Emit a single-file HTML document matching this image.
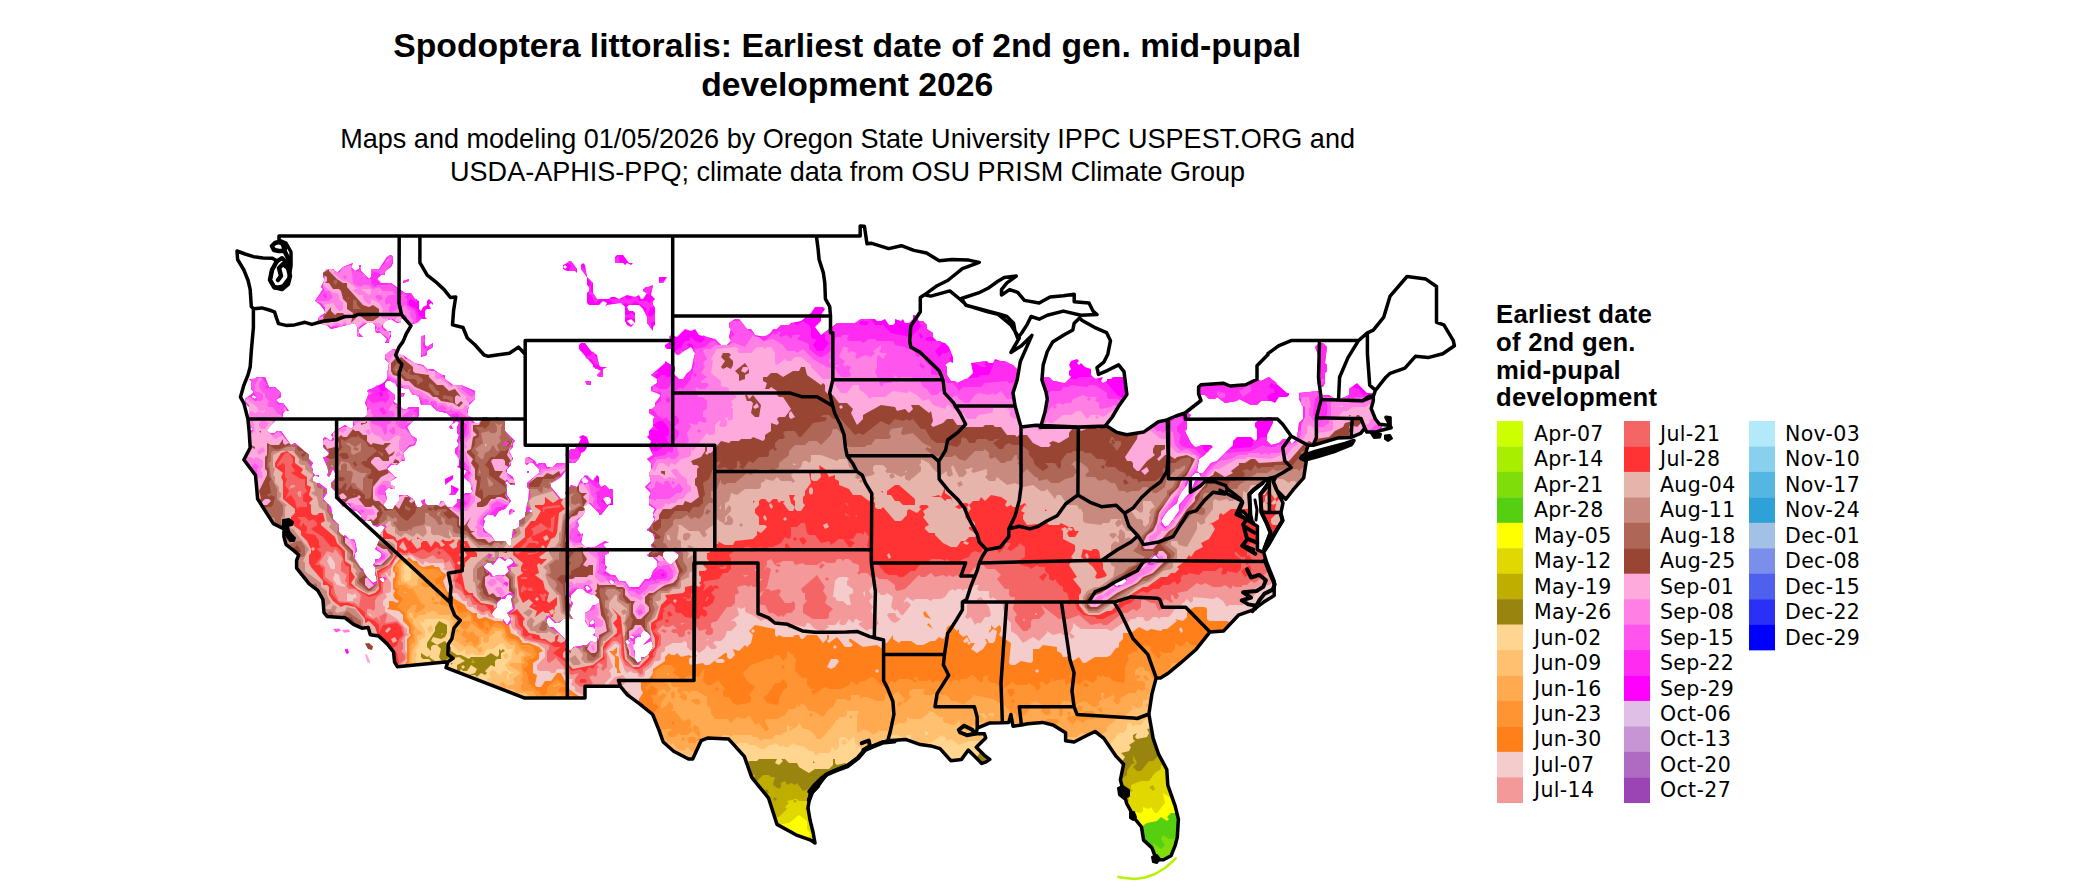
<!DOCTYPE html>
<html><head><meta charset="utf-8"><title>Spodoptera littoralis: Earliest date of 2nd gen. mid-pupal development 2026</title>
<style>
html,body{margin:0;padding:0;background:#fff;width:2100px;height:892px;overflow:hidden}
svg{position:absolute;left:0;top:0;display:block}
.t{font-family:"Liberation Sans",Arial,sans-serif;font-weight:bold;font-size:33.7px;fill:#000}
.s{font-family:"Liberation Sans",Arial,sans-serif;font-size:27.06px;fill:#000}
.lt{font-family:"Liberation Sans",Arial,sans-serif;font-weight:bold;font-size:25.7px;letter-spacing:0.25px;fill:#000}
.lg text{font-family:"DejaVu Sans",sans-serif;font-size:20.5px;letter-spacing:0.35px;fill:#000}
</style></head>
<body>
<svg width="2100" height="892" viewBox="0 0 2100 892">
<rect width="2100" height="892" fill="#fff"/>
<text class="t" x="847.2" y="57.2" text-anchor="middle">Spodoptera littoralis: Earliest date of 2nd gen. mid-pupal</text>
<text class="t" x="847.2" y="96.1" text-anchor="middle">development 2026</text>
<text class="s" x="847.6" y="148.3" text-anchor="middle">Maps and modeling 01/05/2026 by Oregon State University IPPC USPEST.ORG and</text>
<text class="s" x="847.6" y="181.2" text-anchor="middle">USDA-APHIS-PPQ; climate data from OSU PRISM Climate Group</text>
<defs><clipPath id="us"><path d="M237.0,251.0 237.0,251.0 237.6,259.5 237.6,259.5 237.6,259.5 243.9,270.0 243.9,270.0 243.9,270.0 248.1,280.4 248.1,280.5 248.1,280.5 250.2,289.6 250.2,289.6 250.2,289.7 251.3,306.6 251.3,306.6 251.3,306.6 253.2,308.5 253.3,308.6 253.3,308.6 253.3,308.7 253.4,308.7 253.4,308.8 253.4,308.8 253.4,308.9 253.4,308.9 253.4,327.5 253.4,327.6 251.3,351.1 251.3,351.1 250.2,366.7 250.2,366.7 250.2,366.8 248.1,374.6 248.1,374.6 243.9,385.0 243.9,385.1 240.5,397.1 240.5,397.1 240.6,397.1 243.9,403.3 243.9,403.4 243.9,403.4 247.9,419.0 247.9,419.1 247.9,419.1 249.2,432.1 249.2,432.1 250.2,447.6 250.2,447.7 250.2,447.8 250.2,447.8 250.2,447.9 250.2,447.9 250.2,448.0 243.9,459.8 243.9,459.8 243.9,459.9 255.4,475.1 255.4,475.2 255.5,475.2 255.5,475.3 255.5,475.3 255.5,475.4 255.5,475.4 256.6,487.0 257.6,498.8 257.6,498.8 257.6,498.8 265.0,510.6 265.0,510.6 273.4,523.6 273.4,523.6 273.4,523.7 283.6,528.7 283.7,528.7 283.7,528.8 283.8,528.8 283.8,528.9 283.8,528.9 283.9,529.0 283.9,529.0 283.9,529.1 283.9,529.1 283.9,529.2 283.9,529.3 283.9,536.7 283.9,536.7 284.0,536.7 286.1,544.6 286.1,544.6 286.1,544.6 294.5,551.1 294.5,551.1 298.4,554.7 298.4,554.8 298.5,554.8 298.5,554.9 298.5,554.9 298.6,555.0 298.6,555.1 298.6,555.1 298.6,555.2 298.6,555.2 298.6,555.3 298.6,555.4 298.5,555.4 296.6,560.2 296.6,560.3 296.6,560.3 296.6,568.1 296.6,568.1 296.6,568.1 309.2,583.8 309.2,583.8 309.2,583.8 317.6,590.3 317.6,590.3 317.7,590.3 317.7,590.4 317.7,590.4 322.9,599.4 322.9,599.4 322.9,599.5 322.9,599.5 322.9,599.6 322.9,599.6 324.0,612.5 324.0,612.6 324.0,612.6 327.1,616.5 327.1,616.5 327.2,616.5 344.9,617.8 344.9,617.8 345.0,617.8 345.0,617.8 345.1,617.8 345.1,617.9 345.2,617.9 353.5,624.3 353.5,624.3 353.5,624.3 361.9,628.2 361.9,628.2 361.9,628.2 367.7,627.5 367.8,627.5 367.8,627.5 367.9,627.5 368.0,627.5 368.0,627.6 368.1,627.6 368.1,627.6 368.2,627.7 368.2,627.7 368.3,627.7 368.3,627.8 368.3,627.8 368.4,627.9 368.4,628.0 370.3,634.8 370.3,634.8 370.3,634.8 378.6,636.1 378.6,636.1 378.7,636.1 378.8,636.1 378.8,636.1 378.9,636.2 378.9,636.2 387.2,643.9 387.2,644.0 393.4,651.6 393.4,651.7 393.5,651.7 393.5,651.8 393.5,651.8 393.5,651.9 393.5,652.0 394.6,662.2 394.6,662.2 394.6,662.3 397.3,666.7 397.3,666.7 397.3,666.7 447.0,661.8 447.0,661.8 447.1,661.8 447.1,661.8 447.2,661.8 447.3,661.9 447.3,661.9 447.4,661.9 447.4,661.9 447.5,662.0 447.5,662.0 447.5,662.1 447.6,662.1 447.6,662.2 447.6,662.2 447.6,662.3 447.6,662.4 447.6,662.4 447.6,662.5 447.6,662.5 447.6,662.6 446.0,667.7 446.0,667.7 446.0,667.7 524.8,698.1 524.8,698.1 524.8,698.1 585.0,698.1 585.0,698.1 585.0,698.1 585.0,686.9 585.0,686.8 585.1,686.8 585.1,686.7 585.1,686.7 585.1,686.6 585.1,686.6 585.2,686.5 585.2,686.5 585.3,686.4 585.3,686.4 585.4,686.4 585.4,686.3 585.5,686.3 585.5,686.3 585.6,686.3 585.6,686.3 620.1,686.3 620.2,686.3 620.3,686.3 620.3,686.3 620.4,686.3 620.4,686.4 620.5,686.4 620.5,686.4 620.6,686.5 620.6,686.5 627.4,694.9 627.4,694.9 627.4,694.9 640.0,704.1 640.0,704.1 652.6,714.4 652.6,714.5 652.6,714.5 652.7,714.6 652.7,714.6 652.7,714.7 659.0,730.2 659.0,730.2 663.2,742.0 663.2,742.0 663.2,742.0 673.7,751.1 673.7,751.2 673.8,751.2 688.5,759.0 688.5,759.0 688.5,759.0 692.7,759.0 692.7,759.0 692.7,759.0 701.0,740.9 701.1,740.9 701.1,740.8 701.1,740.8 701.2,740.7 701.2,740.7 701.3,740.7 701.3,740.6 701.4,740.6 707.3,738.1 707.4,738.1 707.5,738.1 707.5,738.1 707.6,738.1 728.3,738.9 728.3,738.9 728.4,738.9 728.4,738.9 728.5,738.9 728.6,738.9 728.6,739.0 728.7,739.0 728.7,739.1 744.2,756.3 744.3,756.3 744.3,756.4 744.3,756.4 744.4,756.5 751.7,777.3 751.7,777.3 751.7,777.3 768.5,798.1 768.5,798.2 768.5,798.2 768.6,798.3 768.6,798.3 777.0,824.4 777.0,824.4 777.0,824.4 795.9,834.8 795.9,834.8 796.0,834.8 810.6,840.0 810.7,840.1 810.7,840.1 810.8,840.1 815.0,843.0 815.0,843.0 815.0,843.0 813.0,832.0 813.0,832.0 810.0,820.0 810.0,820.0 808.0,808.1 808.0,808.0 808.0,808.0 808.0,807.9 810.0,795.2 810.0,795.1 810.0,795.1 810.0,795.0 810.1,795.0 810.1,794.9 810.1,794.9 818.0,786.0 818.0,786.0 826.9,774.1 826.9,774.1 827.0,774.0 827.0,774.0 827.1,774.0 827.1,773.9 836.5,770.0 836.5,770.0 847.0,766.0 847.0,766.0 847.0,766.0 858.0,758.0 858.0,758.0 858.0,758.0 864.9,750.1 865.0,750.1 865.0,750.0 865.1,750.0 865.1,749.9 874.0,746.0 874.0,746.0 882.0,742.6 882.0,742.6 887.7,740.7 887.8,740.7 887.9,740.7 905.4,739.4 905.4,739.4 905.5,739.4 905.6,739.4 905.6,739.4 920.2,744.6 920.3,744.6 920.3,744.6 930.7,745.9 930.8,745.9 930.8,745.9 939.8,748.6 939.9,748.6 939.9,748.6 940.0,748.6 940.0,748.7 940.1,748.7 940.1,748.7 950.8,760.7 950.8,760.7 950.8,760.7 961.5,759.4 961.5,759.4 961.5,759.4 967.9,750.6 967.9,750.5 968.0,750.5 968.0,750.4 968.1,750.4 968.1,750.4 968.2,750.4 968.2,750.3 968.3,750.3 968.3,750.3 968.4,750.3 968.4,750.3 968.5,750.3 968.6,750.3 968.6,750.4 968.7,750.4 968.7,750.4 968.8,750.5 968.8,750.5 973.6,755.3 981.7,763.4 981.7,763.4 981.7,763.4 985.7,762.1 985.7,762.1 985.7,762.1 989.8,759.4 989.8,759.4 989.8,759.4 984.4,755.3 984.4,755.3 976.7,747.7 976.7,747.7 976.7,747.6 976.6,747.6 976.6,747.5 976.6,747.5 976.6,747.4 976.6,747.4 976.6,747.3 976.6,747.2 976.6,747.2 976.6,747.1 976.6,747.1 976.6,747.0 976.7,747.0 976.7,746.9 976.7,746.9 979.0,744.6 985.7,737.9 985.7,737.9 985.7,737.9 984.4,733.8 984.4,733.8 984.4,733.8 977.0,733.8 976.9,733.8 976.9,733.8 976.8,733.8 976.8,733.8 976.7,733.7 976.7,733.7 976.6,733.7 976.6,733.6 976.5,733.6 976.5,733.5 976.5,733.5 976.5,733.4 976.4,733.4 976.4,733.3 976.4,733.3 976.4,733.2 976.4,733.2 976.4,733.1 977.1,728.5 977.1,728.4 977.1,728.4 977.2,728.3 977.2,728.2 977.2,728.2 977.3,728.2 977.3,728.1 977.4,728.1 977.4,728.0 977.5,728.0 989.7,723.0 989.7,722.9 989.8,722.9 989.9,722.9 989.9,722.9 1002.4,722.7 1008.7,722.4 1008.8,722.4 1008.8,722.4 1010.2,717.1 1010.2,717.1 1010.2,717.0 1010.2,717.0 1010.3,716.9 1010.3,716.9 1010.3,716.8 1010.4,716.8 1010.4,716.8 1010.5,716.8 1010.5,716.7 1010.6,716.7 1010.7,716.7 1010.7,716.7 1010.8,716.7 1010.8,716.7 1010.9,716.7 1010.9,716.7 1011.0,716.7 1011.0,716.8 1011.1,716.8 1011.1,716.8 1011.2,716.9 1011.2,716.9 1011.3,717.0 1011.3,717.0 1011.3,717.1 1011.3,717.1 1011.3,717.2 1013.0,726.3 1013.0,726.3 1013.0,726.3 1021.4,725.0 1021.4,725.0 1021.4,725.0 1027.7,723.7 1027.8,723.7 1042.4,722.4 1042.4,722.4 1042.5,722.4 1042.6,722.4 1052.9,725.0 1053.0,725.0 1053.0,725.0 1053.1,725.1 1065.4,732.7 1065.4,732.7 1065.5,732.7 1065.5,732.8 1065.5,732.8 1065.6,732.9 1065.6,732.9 1065.6,733.0 1065.6,733.1 1065.6,733.1 1065.6,733.2 1065.6,740.7 1065.6,740.7 1065.7,740.7 1074.1,742.0 1074.1,742.0 1074.1,742.0 1086.7,735.5 1086.7,735.5 1094.8,731.7 1094.9,731.7 1094.9,731.7 1095.0,731.6 1095.0,731.6 1095.1,731.6 1095.2,731.6 1095.2,731.7 1095.3,731.7 1095.3,731.7 1095.4,731.7 1095.4,731.8 1103.5,738.0 1103.5,738.1 1103.6,738.1 1103.6,738.2 1116.2,756.4 1116.2,756.4 1116.2,756.4 1123.4,764.0 1123.4,764.0 1123.4,764.1 1123.5,764.1 1123.5,764.2 1123.5,764.3 1123.5,764.3 1123.5,764.4 1123.5,764.4 1123.5,764.5 1123.5,764.5 1120.4,779.9 1120.4,779.9 1120.4,779.9 1122.5,787.8 1126.7,803.4 1126.7,803.5 1126.8,803.5 1135.2,819.1 1135.2,819.1 1135.2,819.2 1141.4,826.9 1141.4,826.9 1141.5,827.0 1141.5,827.0 1141.5,827.1 1141.5,827.1 1143.6,840.1 1143.6,840.1 1143.6,840.1 1151.9,847.8 1152.0,847.9 1152.0,847.9 1152.0,847.9 1152.1,848.0 1152.1,848.0 1156.2,859.7 1156.2,859.7 1156.3,859.7 1163.6,859.7 1163.6,859.7 1163.6,859.7 1171.0,855.8 1171.0,855.8 1171.0,855.7 1175.2,845.3 1175.2,845.3 1177.3,837.5 1177.3,837.4 1177.3,837.4 1178.4,819.2 1178.4,819.1 1178.4,819.1 1175.2,806.1 1175.2,806.1 1167.9,785.2 1167.8,785.2 1167.8,785.1 1167.8,785.1 1166.8,769.5 1166.8,769.5 1166.8,769.4 1158.4,753.8 1158.4,753.8 1158.3,753.7 1153.1,738.1 1153.1,738.1 1153.1,738.0 1148.9,714.1 1148.9,714.1 1148.9,714.0 1148.9,713.9 1152.0,693.7 1152.0,693.6 1156.1,678.4 1156.1,678.3 1156.2,678.3 1156.2,678.2 1156.2,678.2 1156.3,678.1 1156.3,678.1 1156.4,678.0 1156.4,678.0 1156.5,678.0 1156.5,678.0 1156.6,677.9 1156.6,677.9 1156.7,677.9 1160.4,677.9 1160.5,677.9 1160.5,677.9 1168.9,672.7 1168.9,672.7 1181.5,662.2 1181.5,662.2 1196.3,649.2 1196.3,649.2 1196.3,649.2 1209.8,632.1 1209.9,632.1 1209.9,632.0 1209.9,632.0 1210.0,632.0 1210.1,631.9 1210.1,631.9 1210.2,631.9 1210.2,631.9 1223.7,630.9 1223.7,630.9 1223.7,630.9 1238.3,615.3 1238.4,615.2 1238.4,615.2 1238.5,615.2 1238.5,615.1 1238.6,615.1 1253.2,610.0 1253.2,609.9 1253.2,609.9 1263.7,602.1 1263.7,602.1 1274.2,595.6 1274.2,595.6 1274.2,595.5 1274.2,581.2 1274.2,581.2 1274.2,581.2 1266.5,561.6 1266.4,561.5 1263.7,552.4 1263.7,552.4 1263.7,552.4 1257.8,550.0 1257.7,549.9 1257.6,549.9 1257.6,549.9 1257.6,549.8 1257.5,549.8 1257.5,549.7 1257.5,549.7 1257.4,549.6 1257.4,549.6 1257.4,549.5 1257.4,549.5 1257.4,549.4 1257.4,526.3 1257.4,526.3 1257.4,526.3 1244.8,518.4 1244.7,518.4 1239.2,513.9 1239.2,513.8 1239.2,513.8 1239.1,513.7 1239.1,513.7 1239.1,513.6 1239.1,513.6 1239.0,513.5 1239.0,513.5 1239.0,513.4 1239.0,513.4 1239.0,513.3 1239.0,513.2 1239.1,513.2 1239.1,513.1 1239.1,513.1 1239.2,513.0 1239.2,513.0 1239.2,513.0 1239.3,512.9 1239.3,512.9 1239.4,512.9 1239.4,512.8 1242.9,511.6 1243.0,511.6 1243.0,511.6 1243.1,511.6 1243.2,511.6 1243.2,511.6 1243.3,511.6 1243.3,511.6 1243.4,511.7 1243.4,511.7 1243.5,511.7 1243.5,511.7 1243.6,511.8 1252.0,521.0 1252.0,521.0 1252.0,521.0 1250.3,513.4 1250.3,513.4 1250.3,513.3 1249.3,494.5 1249.3,494.4 1249.3,494.4 1249.3,494.3 1249.3,494.2 1249.4,494.2 1249.4,494.1 1249.4,494.1 1249.5,494.1 1249.5,494.0 1253.3,490.2 1253.3,490.2 1262.4,483.1 1262.4,483.1 1266.9,478.8 1266.9,478.8 1266.9,478.8 1267.0,478.7 1267.0,478.7 1267.1,478.7 1267.2,478.7 1267.2,478.7 1267.3,478.7 1268.1,478.7 1268.1,478.7 1268.1,478.7 1268.5,478.6 1268.6,478.5 1268.7,478.5 1268.7,478.5 1268.8,478.5 1268.8,478.6 1268.9,478.6 1269.0,478.6 1269.0,478.6 1269.1,478.7 1269.1,478.7 1269.1,478.7 1269.2,478.8 1269.2,478.8 1269.2,478.9 1269.3,478.9 1269.3,479.0 1269.3,479.1 1269.3,479.1 1269.3,479.2 1269.3,479.2 1269.3,479.3 1269.3,479.4 1267.4,484.0 1267.4,484.1 1267.4,484.2 1260.4,494.2 1260.4,494.2 1260.4,494.2 1261.4,512.4 1261.4,512.4 1261.4,512.4 1266.4,522.5 1266.4,522.5 1270.4,532.4 1270.4,532.4 1270.4,532.5 1270.5,532.5 1270.5,532.6 1270.5,532.7 1270.4,532.7 1270.4,532.8 1270.4,532.8 1264.4,548.7 1264.4,548.7 1264.4,548.7 1264.4,550.7 1264.4,550.7 1264.4,550.7 1268.4,544.7 1268.4,544.7 1276.5,530.5 1276.5,530.5 1282.6,520.5 1282.6,520.5 1282.6,520.5 1280.7,513.1 1280.7,513.0 1280.7,513.0 1280.7,512.9 1280.7,512.9 1280.7,512.8 1280.7,512.7 1280.7,512.7 1280.7,512.6 1280.8,512.6 1280.8,512.5 1280.9,512.5 1280.9,512.5 1281.0,512.4 1281.0,512.4 1281.0,512.4 1281.0,512.4 1283.0,503.0 1283.0,503.0 1283.0,503.0 1278.0,493.0 1278.0,493.0 1278.0,492.9 1278.0,492.9 1278.0,492.8 1278.0,492.8 1278.0,492.7 1278.0,492.6 1278.0,492.6 1278.0,492.5 1278.0,492.5 1278.1,492.4 1278.1,492.4 1278.1,492.3 1278.2,492.3 1278.2,492.3 1278.3,492.2 1278.3,492.2 1278.4,492.2 1278.4,492.2 1278.5,492.2 1278.6,492.2 1278.6,492.2 1278.7,492.2 1278.7,492.2 1278.8,492.2 1278.8,492.2 1278.9,492.3 1278.9,492.3 1279.0,492.3 1285.8,499.3 1285.8,499.3 1285.8,499.3 1293.2,489.7 1293.2,489.6 1303.7,477.9 1303.7,477.9 1303.7,477.9 1306.3,460.9 1306.3,460.9 1306.3,460.9 1306.1,460.8 1306.0,460.8 1306.0,460.7 1305.9,460.7 1305.9,460.7 1305.9,460.6 1305.8,460.6 1305.8,460.5 1305.8,460.5 1305.8,460.4 1305.7,460.4 1305.7,460.3 1305.7,460.2 1305.7,460.2 1305.8,460.1 1305.8,460.1 1305.8,460.0 1305.8,460.0 1305.8,459.9 1305.9,459.9 1305.9,459.8 1306.0,459.8 1306.0,459.8 1306.1,459.7 1306.1,459.7 1306.2,459.7 1318.0,456.5 1318.0,456.5 1336.0,451.0 1336.0,451.0 1351.0,445.0 1351.0,445.0 1351.0,445.0 1354.0,440.5 1354.0,440.5 1354.0,440.5 1345.0,443.5 1345.0,443.5 1330.0,447.5 1315.0,451.5 1315.0,451.5 1305.8,454.7 1305.8,454.7 1305.7,454.7 1305.6,454.7 1305.6,454.7 1305.5,454.7 1305.5,454.7 1305.4,454.7 1305.4,454.6 1305.3,454.6 1305.3,454.6 1305.2,454.5 1305.2,454.5 1305.1,454.5 1305.1,454.4 1305.1,454.3 1305.0,454.3 1305.0,454.2 1305.0,454.2 1305.0,454.1 1305.0,454.1 1305.0,454.0 1305.0,453.9 1305.1,453.9 1305.1,453.8 1305.1,453.8 1305.2,453.7 1305.2,453.7 1305.8,453.1 1305.8,453.0 1305.8,453.0 1307.8,445.6 1307.8,445.6 1307.9,445.5 1307.9,445.5 1307.9,445.4 1308.0,445.4 1308.0,445.3 1308.1,445.3 1308.1,445.3 1308.2,445.2 1308.2,445.2 1308.3,445.2 1308.4,445.2 1308.4,445.2 1313.2,445.2 1313.2,445.2 1313.2,445.2 1313.2,445.2 1313.2,445.2 1337.4,438.2 1337.4,438.1 1337.5,438.1 1351.1,437.4 1351.1,437.4 1351.1,437.4 1351.1,437.4 1351.2,437.4 1360.6,433.4 1360.6,433.4 1360.6,433.4 1364.3,428.9 1364.3,428.9 1364.4,428.8 1364.4,428.8 1364.5,428.8 1364.5,428.7 1364.6,428.7 1364.6,428.7 1364.7,428.7 1364.7,428.7 1364.8,428.7 1364.9,428.7 1364.9,428.7 1365.0,428.7 1365.0,428.8 1365.1,428.8 1365.1,428.8 1365.2,428.9 1365.2,428.9 1365.2,428.9 1365.3,429.0 1366.9,432.1 1366.9,432.1 1367.0,432.1 1375.4,432.1 1375.4,432.1 1375.4,432.1 1379.6,430.8 1379.6,430.8 1391.2,427.7 1391.2,427.7 1391.2,427.7 1390.1,425.6 1390.1,425.6 1390.1,425.6 1379.8,424.3 1379.8,424.3 1379.7,424.3 1379.7,424.3 1379.6,424.2 1379.6,424.2 1379.5,424.2 1379.5,424.1 1379.4,424.1 1375.4,419.1 1375.4,419.1 1375.4,419.0 1375.3,419.0 1371.2,408.8 1371.2,408.7 1371.2,408.7 1371.2,408.6 1371.2,408.6 1371.2,408.5 1371.2,408.5 1371.2,408.4 1373.3,400.8 1373.3,400.7 1373.3,400.7 1373.3,396.4 1373.3,396.3 1373.3,396.3 1373.3,396.2 1375.3,390.4 1375.4,390.3 1375.4,390.3 1375.4,390.2 1385.9,377.2 1385.9,377.2 1390.0,373.4 1390.1,373.3 1390.1,373.3 1390.2,373.3 1390.2,373.2 1404.9,368.1 1404.9,368.1 1404.9,368.0 1415.2,356.5 1415.2,356.5 1415.3,356.4 1415.3,356.4 1415.4,356.4 1415.4,356.4 1415.5,356.3 1415.5,356.3 1415.6,356.3 1415.7,356.3 1415.7,356.3 1428.0,357.6 1428.0,357.6 1428.1,357.6 1442.8,353.7 1442.8,353.7 1442.8,353.7 1454.4,345.8 1454.4,345.8 1454.4,345.8 1453.3,340.6 1453.3,340.6 1453.3,340.6 1443.9,324.9 1443.9,324.9 1443.8,324.9 1436.9,322.4 1436.8,322.4 1436.8,322.4 1436.7,322.4 1436.7,322.3 1436.6,322.3 1436.6,322.2 1436.6,322.2 1436.5,322.1 1436.5,322.1 1436.5,322.0 1436.5,322.0 1436.5,321.9 1436.5,321.9 1436.5,286.5 1436.5,286.5 1436.5,286.5 1426.0,279.2 1425.9,279.1 1425.9,279.1 1407.0,276.5 1407.0,276.5 1407.0,276.5 1390.1,296.1 1390.1,296.1 1390.1,296.2 1383.8,317.0 1383.8,317.0 1383.8,317.1 1383.8,317.1 1383.7,317.2 1373.4,330.0 1373.3,330.1 1373.3,330.1 1373.2,330.1 1373.2,330.2 1373.1,330.2 1367.4,332.7 1367.4,332.8 1367.4,332.8 1367.4,332.8 1367.4,332.8 1358.7,340.4 1358.6,340.5 1358.6,340.5 1358.5,340.5 1358.5,340.6 1358.4,340.6 1358.4,340.6 1358.3,340.6 1291.1,340.6 1291.1,340.6 1291.1,340.6 1278.5,345.8 1278.5,345.8 1278.4,345.8 1267.9,353.7 1267.9,353.7 1267.9,353.7 1268.0,354.3 1268.0,354.4 1268.0,354.4 1268.0,354.5 1268.0,354.6 1267.9,354.6 1267.9,354.7 1267.9,354.7 1267.8,354.8 1267.8,354.8 1257.0,365.8 1257.0,365.8 1257.0,365.8 1257.0,378.8 1257.0,378.9 1257.0,378.9 1257.0,379.0 1257.0,379.1 1256.9,379.1 1256.9,379.2 1256.9,379.2 1256.8,379.3 1256.8,379.3 1256.7,379.3 1256.7,379.4 1245.8,384.7 1245.8,384.8 1245.7,384.8 1245.6,384.8 1245.6,384.8 1230.1,386.0 1230.1,386.0 1230.0,386.0 1230.0,386.0 1229.9,386.0 1229.9,385.9 1223.3,383.2 1223.3,383.2 1223.3,383.2 1201.0,384.8 1201.0,384.8 1201.0,384.8 1198.6,387.0 1198.6,387.0 1198.6,387.0 1198.6,393.8 1198.6,393.8 1198.6,393.8 1200.9,400.1 1200.9,400.1 1200.9,400.2 1200.9,400.3 1200.9,400.3 1200.9,400.4 1200.9,400.4 1200.9,400.5 1200.8,400.5 1200.8,400.6 1200.8,400.6 1200.7,400.7 1200.7,400.7 1200.7,400.8 1185.1,412.9 1185.0,413.0 1185.0,413.0 1184.9,413.0 1176.0,416.0 1176.0,416.0 1167.3,419.5 1167.3,419.5 1167.3,419.5 1167.3,419.6 1167.2,419.6 1167.2,419.7 1167.2,419.7 1167.1,419.8 1167.1,419.8 1167.1,419.8 1167.0,419.9 1167.0,419.9 1166.9,419.9 1166.8,419.9 1158.4,421.7 1158.4,421.7 1158.3,421.7 1143.7,432.0 1143.7,432.1 1143.6,432.1 1143.6,432.1 1143.5,432.1 1143.5,432.1 1126.9,434.7 1126.8,434.7 1126.7,434.7 1126.7,434.7 1126.6,434.7 1116.3,432.1 1116.2,432.1 1116.2,432.1 1116.1,432.1 1106.7,426.1 1106.7,426.1 1106.7,426.1 1106.4,426.1 1106.3,426.1 1106.3,426.1 1106.2,426.1 1106.1,426.1 1106.1,426.1 1106.0,426.0 1106.0,426.0 1105.9,426.0 1105.9,425.9 1105.9,425.9 1105.8,425.8 1105.8,425.8 1105.8,425.7 1105.8,425.7 1105.8,425.6 1105.8,425.5 1105.8,425.5 1105.8,425.4 1105.8,425.4 1105.8,425.3 1105.8,425.2 1105.9,425.2 1105.9,425.1 1112.3,417.0 1112.3,417.0 1119.0,405.7 1119.0,405.7 1126.9,394.5 1126.9,394.5 1126.9,394.5 1124.0,371.7 1124.0,371.7 1124.0,371.7 1118.6,364.9 1118.6,364.9 1118.6,364.9 1107.8,370.3 1107.8,370.3 1099.1,374.1 1099.0,374.1 1099.0,374.1 1098.9,374.2 1098.8,374.2 1098.8,374.2 1098.7,374.1 1098.7,374.1 1098.6,374.1 1098.6,374.1 1098.5,374.1 1098.5,374.0 1098.4,374.0 1098.4,373.9 1098.3,373.9 1098.3,373.8 1098.3,373.8 1098.3,373.7 1098.3,373.7 1097.1,368.0 1097.1,367.9 1097.1,367.8 1097.1,367.8 1097.1,367.7 1097.1,367.7 1097.1,367.6 1097.1,367.6 1097.2,367.5 1097.2,367.5 1097.2,367.4 1097.3,367.4 1103.8,362.2 1103.8,362.2 1103.8,362.2 1107.8,354.2 1107.8,354.2 1107.8,354.2 1110.5,340.7 1110.5,340.7 1110.5,340.7 1106.5,332.6 1106.5,332.6 1106.5,332.6 1094.4,327.3 1094.4,327.3 1082.3,320.5 1082.2,320.5 1082.2,320.5 1082.1,320.4 1079.6,317.9 1079.6,317.9 1079.6,317.9 1074.2,323.2 1074.2,323.2 1074.2,323.2 1072.9,329.7 1072.8,329.8 1072.8,329.8 1072.8,329.9 1072.8,329.9 1072.7,330.0 1072.7,330.0 1072.7,330.1 1072.6,330.1 1072.6,330.1 1063.4,335.3 1063.4,335.3 1052.6,342.1 1052.6,342.1 1052.6,342.1 1047.3,351.5 1047.3,351.5 1047.3,351.5 1043.2,364.9 1043.2,364.9 1043.2,364.9 1041.9,380.0 1041.9,380.0 1041.9,380.0 1046.0,392.0 1046.0,392.0 1047.3,398.9 1047.3,398.9 1047.3,399.0 1047.3,399.1 1047.3,399.1 1045.0,412.0 1045.0,412.0 1041.2,425.1 1041.2,425.1 1041.2,425.2 1041.1,425.2 1041.1,425.3 1041.1,425.3 1041.0,425.3 1041.0,425.4 1040.9,425.4 1040.9,425.4 1040.8,425.5 1040.8,425.5 1040.7,425.5 1040.7,425.5 1040.6,425.5 1036.2,425.3 1036.1,425.3 1021.5,426.8 1021.4,426.8 1021.4,426.8 1021.3,426.8 1021.2,426.8 1021.2,426.8 1021.1,426.8 1021.1,426.7 1021.0,426.7 1021.0,426.7 1020.9,426.6 1020.9,426.6 1020.9,426.5 1020.9,426.5 1020.8,426.4 1015.1,406.0 1015.1,405.9 1013.0,393.0 1013.0,393.0 1013.0,392.9 1013.0,392.9 1013.0,392.8 1013.0,392.8 1017.2,379.8 1017.2,379.8 1020.3,361.6 1020.3,361.5 1020.4,361.5 1020.4,361.5 1031.9,335.4 1031.9,335.4 1031.9,335.4 1021.4,345.8 1021.4,345.8 1021.3,345.9 1012.9,351.1 1012.9,351.1 1012.8,351.1 1012.8,351.2 1012.7,351.2 1012.6,351.2 1012.6,351.2 1012.5,351.2 1012.5,351.2 1012.4,351.1 1012.4,351.1 1012.3,351.1 1012.3,351.1 1012.2,351.0 1012.2,351.0 1012.1,350.9 1012.1,350.9 1012.1,350.8 1012.0,350.8 1012.0,350.7 1012.0,350.7 1012.0,350.6 1012.0,350.6 1012.0,350.5 1012.0,350.4 1012.0,350.4 1012.1,350.3 1012.1,350.3 1019.3,338.0 1019.3,338.0 1019.3,338.0 1018.8,337.3 1018.8,337.2 1018.8,337.2 1018.7,337.1 1018.7,337.0 1018.7,337.0 1018.7,336.9 1018.7,336.9 1018.7,336.8 1018.8,336.8 1018.8,336.7 1018.8,336.7 1018.8,336.6 1018.9,336.6 1021.7,333.0 1021.7,333.0 1027.1,324.6 1027.1,324.6 1030.9,317.0 1030.9,316.9 1030.9,316.9 1031.0,316.8 1031.0,316.8 1031.1,316.8 1031.1,316.7 1031.1,316.7 1031.2,316.7 1031.3,316.7 1031.3,316.6 1031.4,316.6 1031.4,316.6 1031.5,316.6 1031.5,316.6 1031.6,316.7 1039.2,319.2 1039.2,319.2 1039.2,319.2 1047.2,315.2 1047.3,315.2 1047.4,315.2 1063.3,311.1 1063.3,311.1 1063.4,311.1 1063.4,311.1 1063.5,311.1 1063.5,311.1 1080.9,315.2 1080.9,315.2 1080.9,315.2 1097.0,314.5 1097.0,314.5 1097.0,314.5 1093.1,311.2 1093.0,311.1 1093.0,311.1 1093.0,311.0 1092.9,311.0 1089.0,303.0 1089.0,303.0 1089.0,303.0 1074.7,301.7 1074.7,301.7 1074.6,301.7 1074.6,301.7 1074.5,301.7 1074.5,301.7 1074.4,301.6 1074.4,301.6 1074.3,301.5 1074.3,301.5 1074.3,301.4 1074.2,301.4 1074.2,301.3 1074.2,301.3 1074.2,301.2 1074.2,301.2 1074.2,294.3 1074.2,294.3 1074.2,294.3 1063.4,295.7 1063.4,295.7 1050.0,297.0 1050.0,297.0 1050.0,297.0 1039.4,302.9 1039.3,302.9 1039.3,302.9 1039.2,303.0 1039.2,303.0 1039.1,303.0 1039.0,303.0 1039.0,303.0 1024.6,300.4 1024.6,300.4 1024.5,300.4 1024.4,300.4 1024.4,300.4 1024.3,300.3 1024.3,300.3 1024.3,300.2 1017.7,292.3 1017.7,292.3 1017.7,292.3 1009.6,289.6 1009.6,289.6 1009.6,289.6 1002.4,294.4 1002.4,294.4 1002.3,294.4 1002.3,294.5 1002.2,294.5 1002.2,294.5 1002.1,294.5 1002.0,294.5 1002.0,294.5 1001.9,294.5 1001.9,294.4 1001.8,294.4 1001.8,294.4 1001.7,294.3 1001.7,294.3 1001.6,294.3 1001.6,294.2 1001.6,294.2 1001.5,294.1 1001.5,294.1 1001.5,294.0 1001.5,293.9 1001.5,293.9 1001.5,289.8 1001.5,289.8 1001.5,289.7 1001.5,289.6 1001.5,289.6 1001.6,289.5 1001.6,289.5 1001.6,289.4 1006.8,283.0 1006.9,282.9 1006.9,282.9 1007.0,282.9 1016.3,276.1 1016.3,276.1 1016.3,276.1 1004.2,277.5 1004.2,277.5 1004.2,277.5 997.5,281.5 997.5,281.5 988.0,288.3 988.0,288.3 988.0,288.3 980.0,292.3 980.0,292.3 961.4,298.5 961.4,298.5 961.4,298.5 962.2,299.7 962.2,299.7 962.2,299.8 962.3,299.8 962.3,299.9 962.3,299.9 962.3,300.0 962.3,300.0 962.3,300.1 962.3,300.2 962.2,300.2 962.2,300.3 962.2,300.3 962.2,300.4 962.1,300.4 962.1,300.4 962.0,300.5 962.0,300.5 961.9,300.5 961.9,300.6 961.8,300.6 961.8,300.6 961.7,300.6 961.6,300.6 961.6,300.6 961.5,300.6 961.5,300.6 961.4,300.5 961.4,300.5 961.3,300.5 961.3,300.4 960.3,299.5 960.3,299.5 949.8,290.9 949.8,290.9 949.7,290.9 930.9,296.1 930.9,296.1 930.8,296.1 930.8,296.1 930.7,296.1 930.7,296.1 925.8,295.1 925.8,295.1 925.7,295.1 925.6,295.1 925.6,295.0 925.6,295.0 925.5,295.0 925.5,294.9 925.4,294.9 925.4,294.8 925.4,294.8 925.4,294.7 925.3,294.7 925.3,294.6 925.3,294.5 925.3,294.5 925.3,294.4 925.4,294.4 925.4,294.3 925.4,294.3 925.4,294.2 925.5,294.2 925.5,294.1 925.5,294.1 925.6,294.0 937.1,285.7 937.1,285.7 937.2,285.7 947.6,280.5 947.7,280.5 947.7,280.4 962.3,268.7 962.4,268.7 962.4,268.7 962.5,268.7 979.2,262.4 979.3,262.4 979.2,262.4 968.7,260.1 968.7,260.1 968.7,260.1 951.9,259.5 951.8,259.5 939.4,260.8 939.4,260.8 939.3,260.8 939.3,260.8 939.2,260.8 939.2,260.8 939.1,260.8 939.1,260.7 926.6,253.0 926.6,253.0 926.6,253.0 914.0,250.4 913.9,250.4 913.9,250.4 901.3,245.7 901.3,245.7 901.3,245.7 888.8,248.5 888.8,248.5 888.7,248.5 888.6,248.5 888.6,248.5 888.5,248.5 871.8,243.3 871.8,243.3 871.8,243.3 867.5,243.8 867.5,243.8 867.4,243.8 867.4,243.8 867.3,243.8 867.2,243.7 867.2,243.7 867.1,243.7 867.1,243.7 867.1,243.6 867.0,243.6 867.0,243.5 866.9,243.5 866.9,243.4 866.9,243.4 866.9,243.3 866.9,243.3 864.4,226.3 864.4,226.3 864.4,226.3 860.2,226.1 860.2,226.1 860.2,226.1 860.2,235.4 860.2,235.5 860.2,235.5 860.2,235.6 860.2,235.6 860.1,235.7 860.1,235.7 860.1,235.8 860.0,235.8 860.0,235.9 859.9,235.9 859.9,235.9 859.8,236.0 859.8,236.0 859.7,236.0 859.7,236.0 859.6,236.0 279.0,236.0 279.0,236.0 279.0,236.0 279.0,240.0 279.0,240.0 279.0,240.0 285.8,242.9 285.9,242.9 285.9,243.0 286.0,243.0 286.0,243.0 286.0,243.1 286.1,243.1 286.1,243.2 290.9,251.9 291.0,251.9 291.0,252.0 291.0,252.0 291.0,252.1 291.0,252.2 291.0,266.0 291.0,266.0 291.0,266.0 289.0,277.9 289.0,277.9 289.0,278.0 289.0,278.0 288.9,278.1 288.9,278.1 283.1,285.8 283.1,285.9 283.0,285.9 283.0,286.0 283.0,286.0 282.9,286.0 282.8,286.0 282.8,286.1 275.4,287.9 275.4,287.9 275.3,287.9 275.3,287.9 275.2,287.9 275.1,287.9 275.1,287.9 275.0,287.9 275.0,287.8 274.9,287.8 274.9,287.8 274.8,287.7 274.8,287.7 274.8,287.6 270.1,280.2 270.1,280.2 270.1,280.1 270.1,280.0 270.0,280.0 270.0,279.9 270.0,279.9 270.0,279.8 270.0,279.8 272.0,270.1 272.0,270.0 272.0,270.0 272.0,269.9 277.0,261.0 277.0,261.0 277.0,261.0 272.4,258.3 272.4,258.3 272.4,258.3 263.0,258.0 263.0,258.0 253.6,256.7 253.5,256.7 253.5,256.7 245.0,254.0 245.0,254.0 237.0,251.0ZM1301.9,457.0 1301.9,456.9 1302.0,456.9 1302.0,456.9 1302.1,456.8 1302.1,456.8 1302.2,456.8 1302.3,456.8 1302.3,456.8 1302.4,456.8 1302.4,456.8 1302.5,456.8 1302.6,456.9 1302.6,456.9 1302.7,456.9 1302.7,457.0 1302.7,457.0 1302.8,457.0 1303.9,458.6 1304.0,458.6 1304.0,458.7 1304.0,458.7 1304.0,458.8 1304.0,458.8 1304.1,458.9 1304.1,459.0 1304.0,459.0 1304.0,459.1 1304.0,459.1 1304.0,459.2 1304.0,459.2 1303.9,459.3 1303.9,459.3 1303.9,459.4 1303.8,459.4 1303.8,459.4 1303.7,459.5 1303.7,459.5 1303.6,459.5 1303.5,459.5 1303.5,459.5 1303.4,459.5 1303.4,459.5 1303.3,459.5 1303.3,459.5 1303.2,459.5 1301.4,458.6 1301.3,458.6 1301.3,458.6 1301.2,458.5 1301.2,458.5 1301.1,458.5 1301.1,458.4 1301.1,458.4 1301.1,458.3 1301.0,458.3 1301.0,458.2 1301.0,458.1 1301.0,458.1 1301.0,458.0 1301.0,458.0 1301.0,457.9 1301.1,457.9 1301.1,457.8 1301.1,457.8 1301.2,457.7 1301.2,457.7ZM1273.0,478.0 1273.0,478.0 1273.0,477.9 1273.0,477.9 1273.0,477.8 1273.0,477.7 1273.0,477.7 1273.0,477.6 1273.0,477.6 1273.1,477.5 1273.1,477.5 1273.1,477.4 1273.2,477.4 1273.2,477.4 1273.3,477.3 1273.3,477.3 1273.4,477.3 1273.4,477.3 1274.6,476.9 1274.7,476.9 1274.7,476.9 1274.8,476.9 1274.8,476.9 1274.9,476.9 1274.9,476.9 1275.0,477.0 1275.1,477.0 1275.1,477.0 1275.1,477.1 1275.2,477.1 1275.2,477.1 1275.3,477.2 1275.3,477.2 1275.3,477.3 1275.3,477.3 1275.3,477.4 1275.4,477.5 1275.4,477.5 1275.4,477.6 1275.3,477.6 1275.3,477.7 1275.3,477.7 1275.3,477.8 1274.4,479.5 1274.4,479.6 1274.3,479.6 1274.3,479.7 1274.2,479.7 1274.2,479.7 1274.1,479.8 1274.1,479.8 1274.0,479.8 1274.0,479.8 1273.9,479.8 1273.9,479.8 1273.8,479.8 1273.7,479.8 1273.7,479.8 1273.6,479.8 1273.6,479.8 1273.5,479.7 1273.5,479.7 1273.4,479.7 1273.4,479.6 1273.4,479.6 1273.3,479.5 1273.3,479.5 1273.3,479.4 1273.3,479.3ZM1010.9,324.9 1010.9,324.9 999.3,315.3 999.2,315.3 999.2,315.2 999.1,315.2 999.1,315.1 999.1,315.1 999.1,315.0 999.0,315.0 999.0,314.9 999.0,314.8 999.0,314.8 999.0,314.7 999.1,314.7 999.1,314.6 999.1,314.6 999.1,314.5 999.2,314.5 999.2,314.4 999.3,314.4 999.3,314.3 999.4,314.3 999.4,314.3 999.5,314.3 999.5,314.3 999.6,314.2 999.6,314.2 999.7,314.2 999.8,314.3 999.8,314.3 1006.8,316.5 1006.8,316.5 1006.9,316.5 1006.9,316.5 1007.0,316.6 1007.0,316.6 1013.5,323.1 1013.5,323.1 1013.5,323.2 1013.6,323.2 1013.6,323.3 1013.6,323.3 1013.6,323.4 1014.5,328.4 1014.5,328.5 1014.5,328.5 1014.5,328.6 1014.5,328.7 1014.5,328.7 1014.5,328.8 1014.4,328.8 1014.4,328.9 1014.4,328.9 1014.3,329.0 1014.3,329.0 1014.2,329.0 1014.2,329.1 1014.1,329.1 1014.1,329.1 1014.0,329.1 1014.0,329.1 1013.9,329.1 1013.8,329.1 1013.8,329.1 1013.7,329.1 1013.7,329.1 1013.6,329.1 1013.6,329.0 1013.5,329.0 1013.5,329.0 1013.4,328.9 1013.4,328.9 1010.9,324.9ZM1002.4,722.7 1002.4,722.7 1002.4,722.7Z"/></clipPath></defs>
<g clip-path="url(#us)"><path fill="#FF00FF" fill-rule="evenodd" d="M515,511 511,509 509,511 509,515ZM451,485 451,493 449,495 455,495 459,489ZM453,475 445,479 445,485 453,479ZM527,471 527,473 529,473 529,471ZM405,393 401,393 399,397 403,397ZM585,381 587,385 591,385 591,381ZM1289,395 1289,393 1287,393 1269,377 1261,381 1257,379 1251,379 1249,381 1231,381 1229,379 1223,379 1221,383 1209,383 1205,379 1197,379 1189,389 1191,393 1199,397 1201,395 1205,395 1209,399 1215,399 1217,397 1225,403 1237,401 1239,399 1251,405 1257,405 1261,401 1271,401 1275,403 1279,397 1287,397ZM1319,343 1315,347 1319,357 1319,363 1317,365 1317,383 1319,387 1323,387 1325,383 1325,373 1327,371 1327,365 1325,363 1327,347 1323,343ZM577,343 579,345 579,349 593,365 593,367 601,371 597,375 599,377 603,377 603,369 607,367 601,367 599,365 597,355 591,351 585,343 581,343 579,345ZM425,335 421,337 421,357 427,355 427,351 433,347 433,343 427,347 425,345ZM247,377 251,381 251,389 253,391 253,393 245,399 245,403 249,407 249,417 235,433 231,433 231,899 1469,899 1469,453 1461,451 1453,445 1447,437 1443,437 1435,429 1435,427 1429,425 1423,417 1403,409 1403,419 1399,423 1399,431 1391,439 1389,445 1385,449 1383,459 1379,463 1373,459 1373,453 1379,445 1375,441 1383,425 1383,421 1399,409 1405,401 1405,397 1413,387 1411,385 1401,387 1389,399 1385,399 1387,407 1383,409 1383,413 1381,415 1377,413 1377,401 1375,399 1375,395 1373,393 1367,393 1357,383 1349,389 1349,395 1341,399 1335,399 1329,395 1323,395 1319,391 1299,393 1299,399 1303,407 1303,419 1299,423 1297,439 1293,443 1291,443 1289,439 1283,439 1279,443 1271,445 1267,441 1267,435 1273,423 1273,419 1271,417 1267,417 1265,419 1261,417 1255,423 1255,427 1257,429 1257,439 1255,441 1251,437 1237,437 1233,441 1233,445 1217,461 1211,463 1203,473 1199,473 1197,471 1199,459 1213,447 1211,445 1201,445 1199,447 1195,447 1191,443 1185,431 1187,429 1187,421 1191,415 1185,411 1179,413 1171,407 1171,411 1161,417 1145,415 1143,413 1143,405 1141,403 1143,397 1137,393 1137,389 1129,381 1129,379 1125,379 1123,377 1113,377 1111,379 1107,379 1107,381 1103,383 1101,381 1103,377 1095,379 1091,375 1091,369 1085,367 1077,359 1071,361 1069,365 1071,369 1069,371 1069,375 1071,377 1065,383 1053,381 1049,377 1043,377 1039,381 1027,379 1025,383 1021,383 1017,379 1021,377 1025,371 1021,369 1019,371 1013,365 995,359 993,363 989,363 987,361 971,363 973,373 967,379 957,383 955,381 951,381 947,375 947,367 945,365 949,361 953,363 953,357 949,347 945,343 937,341 933,337 933,333 927,329 927,325 923,321 919,321 915,315 913,315 913,319 909,323 905,323 903,319 901,321 895,319 895,323 893,325 889,325 885,319 881,321 877,321 875,319 861,319 855,323 837,323 821,335 815,327 821,321 821,315 825,309 823,307 815,307 811,313 801,321 791,323 789,325 781,325 777,329 773,329 773,331 765,337 755,335 751,329 747,329 739,319 735,319 729,323 729,327 731,329 729,337 731,341 727,345 721,345 715,339 699,335 695,329 691,331 685,329 677,337 671,335 669,337 671,341 665,345 665,347 667,349 671,349 677,355 691,347 695,353 691,371 687,373 683,379 679,379 673,373 675,371 675,367 665,361 665,363 651,375 657,379 657,383 651,387 651,391 659,393 661,397 655,403 655,407 653,409 649,409 649,413 655,417 653,419 653,427 649,431 649,435 647,437 651,441 649,447 653,455 647,459 651,463 651,471 649,473 651,481 645,487 651,493 649,497 649,505 655,509 653,513 653,517 655,519 647,531 651,531 653,533 655,541 651,545 653,551 647,555 649,557 653,557 657,561 657,567 653,571 651,577 649,579 645,579 639,587 629,587 625,581 619,581 615,575 611,575 605,571 607,567 605,565 605,555 609,553 609,551 603,545 605,543 609,543 605,541 595,547 585,547 581,543 583,533 581,535 577,529 579,525 577,521 583,515 585,511 583,507 587,503 589,503 599,513 599,515 601,515 609,505 613,505 613,489 609,489 605,485 601,487 599,485 599,477 597,475 593,481 585,475 577,487 571,485 565,493 567,495 565,499 561,499 551,487 551,483 555,481 557,485 555,481 561,477 567,469 569,469 567,465 569,463 575,463 579,459 581,453 585,451 589,443 587,437 583,435 579,437 581,439 575,449 571,449 565,455 569,459 567,463 557,463 553,467 547,467 545,463 539,463 537,465 535,461 529,457 525,459 525,463 527,465 529,463 533,463 539,469 539,473 527,483 527,487 529,489 529,501 527,503 525,517 519,521 519,527 517,529 513,529 511,545 509,547 505,541 495,541 491,535 485,531 483,527 485,521 483,519 487,515 493,515 495,517 499,511 505,509 511,501 507,495 507,485 509,483 511,485 515,485 513,477 507,473 507,469 511,465 511,461 513,459 509,451 513,447 513,443 515,441 505,431 505,421 497,417 493,419 483,417 479,423 475,423 471,419 473,417 469,417 467,415 469,405 475,399 475,391 461,385 453,385 445,379 445,375 441,375 433,369 427,369 423,365 413,363 403,355 399,355 395,349 385,355 385,359 389,363 387,379 383,383 367,391 369,393 365,403 367,407 367,415 361,421 353,419 353,427 351,429 345,425 335,431 331,435 333,437 331,441 325,437 323,439 323,447 329,453 327,457 323,457 329,471 327,475 329,477 333,469 337,477 331,483 331,487 335,491 337,499 343,507 347,503 351,507 349,511 357,511 361,515 361,519 363,521 371,521 373,525 377,527 381,525 385,527 379,537 379,543 375,549 381,553 381,557 379,559 375,559 375,563 373,565 375,567 375,575 377,577 377,581 373,583 365,575 363,569 359,567 355,559 355,553 357,551 355,541 353,539 349,539 345,535 343,537 339,533 339,525 333,519 331,507 323,499 327,493 327,489 319,483 315,483 313,481 313,477 315,475 319,477 319,475 315,475 313,473 313,469 311,467 313,463 309,459 309,455 295,443 291,445 281,431 277,431 275,433 269,433 267,431 267,429 277,419 281,419 283,417 283,413 285,411 289,411 283,403 279,403 277,401 277,399 281,397 281,393 275,387 269,387 265,377 257,377 255,379 249,379ZM625,641 627,639 631,643 627,645ZM629,637 631,635 635,637 633,639ZM647,631 651,637 643,645 651,641 653,643 653,647 647,657 641,657 641,661 637,663 635,661 635,651 633,649 633,645 635,643 635,639 637,637 641,637 641,633 643,631ZM593,619 595,623 591,625 589,623ZM511,595 513,597 511,599 513,609 507,613 511,619 507,625 503,619 495,619 491,613 497,607 497,603 501,599 505,599 507,595ZM583,589 587,593 595,595 599,599 599,603 597,605 593,605 589,611 585,613 585,621 589,627 593,627 595,629 595,633 593,635 597,637 597,641 595,643 591,641 587,645 573,647 573,649 569,651 565,647 567,643 565,639 553,627 549,627 547,625 547,619 549,617 555,623 559,623 563,619 573,619 569,613 573,603 571,601 571,595 577,589ZM585,587 587,585 591,589 587,591ZM609,581 611,579 615,583 611,585ZM1123,577 1127,581 1123,585 1119,585 1117,587 1113,583 1117,579 1121,579ZM379,579 383,577 385,581 383,583ZM1319,563 1319,559 1321,557 1325,557 1327,559 1323,565ZM513,561 513,563 507,567 509,571 505,575 497,575 493,577 491,573 483,567 487,563 491,563 493,565 499,557 505,561 507,559 511,559ZM1155,555 1159,559 1155,563 1151,563 1149,561ZM667,549 671,549 679,555 679,557 671,565 667,563 663,557 663,553ZM529,511 531,509 533,511 531,513ZM1177,503 1179,505 1179,511 1169,525 1165,527 1161,521 1167,511ZM603,499 605,497 609,497 611,499 611,503 607,505ZM1357,493 1361,499 1355,505 1353,513 1349,517 1345,517 1347,519 1347,525 1341,533 1341,537 1335,541 1329,551 1323,555 1315,547 1315,545 1319,541 1325,539 1323,535 1325,533 1329,533 1329,531 1335,527 1331,521 1333,519 1337,519 1341,513 1345,511 1347,505 1351,501 1351,497ZM505,483 507,481 509,483 507,485ZM581,479 585,477 589,481 587,483 583,483ZM1199,473 1201,477 1195,481 1191,491 1179,505 1177,503 1179,495 1187,485 1189,479 1195,473ZM1359,473 1367,469 1373,477 1369,481 1363,481 1359,477ZM655,445 657,443 659,445 657,447ZM249,429 251,427 253,429 251,431ZM447,413 453,419 453,423 449,427 451,429 453,429 451,425 457,421 459,423 457,427 457,433 459,435 457,441 459,445 455,449 455,453 459,457 459,465 457,467 467,471 463,477 471,483 471,489 473,491 471,493 465,493 461,499 457,499 457,503 453,507 447,507 443,501 441,501 439,505 427,505 425,503 425,499 421,501 423,505 421,507 417,507 413,499 407,495 399,495 399,501 393,509 387,509 383,505 387,499 385,491 389,487 391,489 395,489 395,487 391,485 391,481 397,477 395,477 387,469 391,465 397,465 401,461 405,461 403,453 409,447 415,445 417,439 411,435 407,427 415,419 417,419 419,415 419,407 421,405 431,405 437,411ZM251,397 253,395 257,397 255,399ZM385,383 387,381 391,381 395,383 397,387 409,389 413,395 417,395 419,397 421,405 419,407 409,407 407,409 403,409 393,401 395,399 395,395 385,387ZM1077,363 1079,361 1081,363 1079,365ZM409,279 403,281 403,283 409,281ZM659,283 663,283 667,277 659,277ZM581,265 581,269 587,277 587,285 589,287 589,291 587,293 587,303 589,305 599,305 603,301 607,303 605,307 607,305 621,303 625,307 625,321 627,325 631,327 635,323 635,313 633,311 629,311 627,307 629,305 639,305 643,309 647,317 647,323 653,331 653,327 655,325 655,307 653,305 653,301 655,299 651,295 653,285 643,289 643,291 647,293 643,299 641,299 639,295 635,297 627,295 619,299 615,297 611,297 609,299 597,299 593,293 593,283 587,277 585,265 583,263ZM627,321 631,319 635,323 631,325ZM563,265 563,269 567,271 575,271 577,273 577,269 571,261ZM563,267 565,265 567,267 565,269ZM615,257 615,263 623,263 625,265 627,263 631,265 633,263 629,263 623,255 617,255ZM433,303 429,299 427,301 427,305 423,307 421,311 419,309 419,301 415,299 411,293 405,293 391,283 381,283 377,279 381,275 385,275 385,271 391,267 393,263 393,257 391,255 387,257 379,269 371,269 371,277 369,279 361,271 361,265 359,265 359,269 355,271 351,267 353,263 343,267 337,273 333,269 327,269 323,273 323,277 325,279 321,287 323,289 315,301 317,301 325,311 325,313 319,317 317,323 327,325 331,329 355,323 357,325 357,335 359,337 363,337 359,333 359,329 367,323 373,323 375,325 375,331 377,333 381,333 387,339 385,343 389,343 389,339 391,337 391,331 387,331 383,327 383,323 385,321 391,319 397,323 401,323 401,319 405,317 409,325 417,323 421,319 427,319 425,317 425,311 427,309 431,309 429,305 431,303 433,305Z"/>
<path fill="#FF2BF0" fill-rule="evenodd" d="M515,511 511,509 509,511 509,515ZM451,487 451,493 449,495 455,495 459,489 455,493 453,491 453,487ZM445,481 445,485 447,483ZM527,471 527,473 529,473 529,471ZM649,445 649,447 651,447 651,445ZM405,393 401,393 399,397 403,397ZM585,381 587,385 591,385 591,381ZM1277,383 1269,377 1261,381 1257,379 1251,379 1249,381 1231,381 1229,379 1223,379 1221,383 1209,383 1205,379 1197,379 1189,389 1191,393 1199,397 1201,395 1205,395 1209,399 1215,399 1217,397 1225,403 1237,401 1239,399 1251,405 1257,405 1261,401 1267,401 1269,399 1267,397 1271,393 1275,393 1273,387ZM1269,387 1271,383 1275,385 1271,389ZM607,367 605,367 597,375 599,377 603,377 603,369ZM975,363 981,367 987,367 985,365 985,361ZM593,351 591,355 585,357 587,359 591,359 595,365 595,369 597,369 595,367 599,363ZM1319,343 1315,347 1319,357 1319,363 1317,365 1317,383 1319,387 1323,387 1325,383 1325,373 1327,371 1327,365 1325,363 1327,347 1323,343ZM425,335 421,337 421,357 427,355 427,351 433,347 433,343 427,347 425,345ZM1469,453 1461,451 1453,445 1447,437 1443,437 1435,429 1435,427 1429,425 1423,417 1403,409 1403,419 1399,423 1399,431 1391,439 1389,445 1385,449 1383,459 1377,463 1373,459 1373,453 1379,445 1375,441 1383,425 1383,421 1399,409 1405,401 1405,397 1413,387 1411,385 1401,387 1389,399 1385,399 1387,407 1383,409 1383,413 1381,415 1377,413 1377,401 1373,393 1363,395 1359,389 1351,387 1349,389 1349,395 1341,399 1335,399 1329,395 1323,395 1319,391 1299,393 1299,399 1303,407 1303,419 1299,423 1297,439 1293,443 1291,443 1289,439 1283,439 1279,443 1271,445 1267,441 1267,437 1261,437 1257,441 1253,441 1253,445 1251,447 1229,449 1217,461 1211,463 1203,473 1199,473 1197,471 1199,459 1205,455 1211,447 1209,447 1209,451 1207,453 1203,449 1203,445 1195,447 1191,443 1185,431 1187,429 1187,421 1191,415 1185,411 1179,413 1173,407 1171,407 1171,411 1161,417 1145,415 1143,413 1143,405 1133,405 1129,399 1125,399 1117,395 1107,383 1107,379 1107,381 1103,383 1093,377 1079,377 1077,379 1069,379 1065,383 1059,383 1057,381 1053,381 1049,377 1043,377 1039,381 1027,379 1025,383 1021,383 1017,379 1021,377 1025,371 1021,369 1019,371 1013,365 1005,361 995,361 989,375 981,375 979,377 965,379 957,383 955,381 951,381 947,375 947,367 945,365 951,361 949,359 951,357 951,353 949,351 947,353 943,353 939,357 935,351 941,345 941,341 927,341 925,339 927,337 933,337 933,333 927,329 927,325 923,321 919,321 913,315 919,321 921,327 911,337 891,333 883,325 875,325 871,319 861,319 855,323 837,323 831,329 823,333 825,335 825,339 829,343 823,351 817,351 813,345 817,339 813,339 811,337 811,329 809,325 803,321 797,325 793,323 789,325 781,325 777,329 773,329 769,335 759,337 755,335 751,329 747,329 739,319 735,319 729,323 729,327 731,329 729,337 731,341 727,345 721,345 715,339 711,339 703,335 705,339 701,343 695,341 691,337 689,341 685,341 681,347 675,351 675,353 679,355 689,347 687,345 689,343 693,345 693,351 695,353 693,367 683,379 679,379 677,377 675,379 673,377 667,377 665,375 661,375 657,371 651,375 657,379 657,383 651,387 651,391 661,395 655,403 655,407 653,409 649,409 649,413 655,417 653,419 653,427 651,429 659,431 653,425 659,421 663,421 669,429 669,435 665,437 669,443 667,445 663,445 663,447 657,451 651,451 653,455 647,459 651,463 651,471 649,473 651,481 645,487 651,493 649,497 649,505 655,509 653,513 653,517 655,519 651,527 647,529 647,531 651,531 653,533 655,541 651,545 653,551 647,555 649,557 653,557 657,561 657,567 653,571 651,577 649,579 645,579 639,587 629,587 625,581 619,581 615,575 611,575 605,571 607,567 605,565 605,555 609,553 609,551 603,545 605,543 609,543 605,541 595,547 585,547 581,543 583,533 581,535 577,529 579,525 577,521 585,511 583,507 589,503 599,513 599,515 601,515 607,507 607,505 601,501 605,497 611,497 613,499 613,489 609,489 605,485 601,487 599,483 595,481 595,477 593,481 587,475 581,479 577,487 571,485 565,493 567,497 565,499 561,499 551,487 551,483 555,481 557,485 555,481 561,477 567,469 569,469 567,465 569,463 575,463 581,455 577,447 575,449 571,449 565,455 569,459 567,463 557,463 553,467 547,467 545,463 539,463 537,465 535,461 529,457 525,459 525,463 527,465 529,463 533,463 539,469 539,473 527,483 527,487 529,489 527,511 525,513 525,517 519,521 519,527 517,529 513,529 511,545 509,547 505,541 495,541 491,535 485,531 483,527 485,521 483,519 487,515 493,515 495,517 499,511 505,509 511,501 507,495 507,485 509,483 511,485 515,485 513,477 507,473 507,469 511,465 511,461 513,459 509,451 513,447 513,443 515,441 505,431 505,421 497,417 493,419 483,417 479,423 475,423 471,419 473,417 469,417 467,415 469,405 475,399 475,391 461,385 453,385 445,379 445,375 441,375 433,369 427,369 423,365 413,363 403,355 399,355 395,349 393,349 385,355 385,359 389,363 387,379 385,381 385,387 387,389 385,391 381,391 377,385 373,389 369,389 367,391 369,393 365,403 367,407 367,415 361,421 353,419 353,427 351,429 345,425 335,431 331,435 333,437 331,441 325,437 323,439 323,447 329,453 327,457 323,457 329,471 327,475 329,477 333,469 337,477 331,483 331,487 335,491 337,499 343,507 347,503 351,507 349,511 357,511 361,515 361,519 363,521 371,521 373,525 377,527 381,525 385,527 379,537 379,543 375,549 381,553 381,557 379,559 375,559 375,563 373,565 375,567 375,575 377,577 377,581 373,583 365,575 363,569 359,567 355,559 355,553 357,551 355,541 353,539 349,539 345,535 343,537 339,533 339,525 333,519 331,507 323,499 327,493 327,489 319,483 315,483 313,481 313,477 315,475 319,477 319,475 315,475 313,473 313,469 311,467 313,463 309,459 309,455 295,443 291,445 281,431 277,431 275,433 269,433 267,431 267,429 277,419 281,419 283,417 283,413 285,411 289,411 283,403 279,403 277,401 277,399 281,397 281,393 275,387 269,387 265,377 257,377 255,379 249,379 247,377 251,381 251,389 253,391 253,393 245,399 245,403 249,407 249,417 235,433 231,433 231,899 1469,899ZM625,641 627,639 631,643 627,645ZM629,637 631,635 635,637 633,639ZM647,631 651,637 643,645 651,641 653,643 653,647 647,657 641,657 641,661 637,663 635,661 635,651 633,649 633,645 635,643 635,639 637,637 641,637 641,633 643,631ZM593,619 595,623 591,625 589,623ZM511,595 513,597 511,599 513,609 507,613 511,619 507,625 503,619 495,619 491,613 497,607 497,603 501,599 505,599 507,595ZM583,589 587,593 595,595 599,599 599,603 597,605 593,605 589,611 585,613 585,621 589,627 593,627 595,629 595,633 593,635 597,637 597,641 595,643 591,641 587,645 573,647 573,649 569,651 565,647 567,643 565,639 553,627 549,627 547,625 547,619 549,617 555,623 559,623 563,619 573,619 569,613 573,603 571,601 571,595 577,589ZM585,587 587,585 591,589 587,591ZM609,581 611,579 615,583 611,585ZM1123,577 1127,581 1123,585 1119,585 1117,587 1113,583 1117,579 1121,579ZM379,579 383,577 385,581 383,583ZM661,575 663,573 665,575 663,577ZM1319,563 1319,559 1321,557 1325,557 1327,559 1323,565ZM513,561 513,563 507,567 509,571 505,575 497,575 493,577 491,573 483,567 487,563 491,563 493,565 499,557 505,561 507,559 511,559ZM1155,555 1159,559 1155,563 1151,563 1149,561ZM667,549 671,549 679,555 679,557 671,565 667,563 663,557 663,553ZM529,511 531,509 533,511 531,513ZM1177,503 1179,505 1179,511 1169,525 1165,527 1161,521 1167,511ZM1357,493 1361,499 1355,505 1353,513 1349,517 1345,517 1347,519 1347,525 1341,533 1341,537 1335,541 1329,551 1323,555 1315,547 1315,545 1319,541 1325,539 1323,535 1325,533 1329,533 1329,531 1335,527 1331,521 1333,519 1337,519 1341,513 1345,511 1347,505 1351,501 1351,497ZM505,483 507,481 509,483 507,485ZM581,479 585,477 589,481 587,483 583,483ZM1199,473 1201,477 1195,481 1191,491 1179,505 1177,503 1179,495 1187,485 1189,479 1195,473ZM1359,473 1367,469 1373,477 1369,481 1363,481 1359,477ZM565,455 567,453 569,455 567,457ZM249,429 251,427 253,429 251,431ZM447,413 453,419 453,423 449,427 451,429 453,429 451,425 457,421 459,423 457,427 457,433 459,435 457,441 459,445 455,449 455,453 463,465 461,469 465,469 467,471 463,477 471,483 471,489 473,491 471,493 465,493 461,499 457,499 457,503 453,507 447,507 443,501 441,501 439,505 427,505 425,503 425,499 421,501 423,505 421,507 417,507 413,499 407,495 399,495 399,501 393,509 387,509 383,505 387,499 385,491 389,487 391,489 395,489 395,487 391,485 391,481 397,477 395,477 387,469 391,465 397,465 401,461 405,461 403,453 409,447 415,445 417,439 411,435 407,427 415,419 417,419 419,415 419,407 421,405 431,405 437,411ZM251,397 253,395 257,397 255,399ZM379,393 381,391 383,395 381,397ZM385,383 387,381 391,381 395,383 397,387 409,389 413,395 417,395 419,397 421,405 419,407 409,407 407,409 403,409 393,401 395,399 395,395 385,387ZM655,377 657,373 661,375 657,379ZM919,335 921,333 923,337 921,339ZM859,323 861,321 867,321 869,323 867,325 861,325ZM635,315 631,313 629,315 625,315 625,319 627,317 635,319ZM609,299 613,303 621,303 623,305 625,303 631,305 635,301 647,309 645,313 647,315 647,323 651,327 651,323 655,321 655,313 651,317 647,315 651,307 655,309 653,305 653,301 655,299 649,303 647,301 639,301 637,297 633,297 631,299 627,299 625,297 621,299ZM653,287 645,287 643,291 649,295ZM409,279 403,281 403,283 409,281ZM667,277 665,281 661,281 659,283 663,283ZM583,263 581,265 581,269 591,283 589,287 589,295 591,295 595,303 597,303 597,301 601,299 597,299 591,291 591,285 593,283 587,277 585,269 581,267ZM569,261 567,263 571,265 569,271 575,271 577,269 571,261ZM619,255 615,259 615,263 621,263 619,261ZM427,319 423,319 419,315 417,309 409,305 409,301 411,299 417,303 417,299 415,299 411,293 405,293 391,283 381,283 377,279 381,275 385,275 385,271 391,267 393,263 393,257 391,255 387,257 379,269 371,269 371,277 369,279 361,271 361,265 359,265 359,269 355,271 351,267 353,263 343,267 337,273 333,269 327,269 323,273 323,277 325,279 321,287 323,289 315,301 323,307 325,313 319,317 317,323 327,325 331,329 355,323 357,325 357,335 359,337 363,337 359,333 359,329 367,323 373,323 375,325 375,331 377,333 381,333 387,339 385,343 389,343 391,331 387,331 383,327 383,323 385,321 391,319 397,323 401,323 401,319 405,317 409,325 411,325 413,323 417,323 421,319Z"/>
<path fill="#FF55EE" fill-rule="evenodd" d="M513,509 509,515 513,513ZM527,457 525,459 525,463 531,463 533,461ZM403,393 401,397 403,397ZM1217,391 1217,395 1221,399 1225,397 1225,393ZM1249,385 1245,385 1243,389 1239,391 1243,397 1251,391 1251,387ZM1325,379 1317,379 1321,387ZM683,351 681,351 681,353ZM423,335 421,337 421,355 425,355 427,349 429,347 433,347 431,345 425,349 423,347 423,343 425,341ZM251,379 251,387 257,399 255,401 251,397 247,397 245,399 249,405 249,417 235,433 231,433 231,465 235,465 237,467 231,471 231,899 1469,899 1469,453 1461,451 1445,437 1439,435 1437,431 1423,419 1423,417 1413,415 1409,411 1403,411 1403,419 1399,425 1399,431 1387,447 1387,451 1383,459 1379,463 1375,463 1373,461 1375,465 1369,469 1373,473 1373,477 1359,489 1355,487 1355,481 1357,479 1361,481 1357,475 1377,447 1375,439 1383,421 1399,407 1411,387 1399,389 1393,397 1387,401 1389,405 1383,411 1383,415 1381,417 1375,413 1375,401 1373,399 1375,397 1355,397 1353,399 1351,397 1349,399 1347,397 1343,397 1337,401 1331,397 1325,397 1317,391 1301,393 1299,397 1301,399 1301,405 1305,407 1305,417 1301,423 1301,429 1297,433 1297,441 1295,443 1289,443 1287,439 1281,445 1277,445 1275,447 1267,447 1263,445 1251,451 1225,453 1219,461 1213,463 1203,473 1201,473 1201,477 1189,495 1181,503 1179,513 1165,529 1161,525 1161,519 1177,501 1187,481 1197,471 1197,463 1201,455 1195,449 1183,447 1179,443 1181,435 1177,431 1177,427 1183,421 1179,413 1169,413 1167,415 1169,417 1165,421 1157,423 1133,411 1125,403 1117,399 1109,399 1107,397 1107,393 1095,385 1089,385 1087,387 1071,385 1069,387 1063,387 1061,391 1051,391 1047,395 1043,395 1041,397 1037,393 1037,389 1027,391 1017,385 1015,381 1013,383 1009,383 1007,381 985,383 981,387 963,387 959,391 953,383 947,383 945,381 945,377 941,375 933,375 931,373 931,367 925,361 925,357 923,355 917,357 913,349 907,349 905,347 895,345 893,341 877,341 875,339 869,339 863,343 861,341 849,341 847,339 849,335 843,335 841,337 837,337 833,341 833,349 823,357 819,357 809,349 809,345 807,343 797,339 801,335 793,335 791,339 787,335 781,337 779,335 781,333 779,331 775,335 773,333 765,341 763,341 747,329 741,321 731,321 729,327 735,335 731,337 731,343 729,345 719,345 715,341 711,341 705,347 695,349 695,357 693,359 695,365 693,367 693,373 691,375 691,379 683,389 681,387 675,391 671,385 667,389 659,389 653,385 653,389 651,391 655,391 657,393 659,391 661,393 661,401 649,411 653,409 657,415 663,419 667,417 669,421 671,421 675,415 679,419 679,423 673,427 679,431 679,435 673,443 673,451 671,453 669,451 665,455 655,457 649,461 653,467 649,473 651,483 647,487 651,491 649,503 657,509 653,515 655,517 655,521 649,529 649,531 655,535 655,541 651,545 659,551 657,553 653,551 649,553 649,557 655,557 659,561 657,563 657,569 651,575 659,569 663,569 667,573 667,577 665,579 657,579 655,581 651,579 649,581 645,581 639,589 631,589 625,581 619,581 615,577 605,575 603,573 605,571 605,565 601,563 605,555 609,553 603,545 607,543 587,549 579,541 583,535 581,535 577,529 579,525 577,523 577,519 583,515 585,511 583,507 587,503 591,503 595,509 601,509 597,503 597,495 595,493 601,489 595,487 589,481 585,485 581,483 577,487 569,487 567,489 567,497 565,499 559,499 551,489 551,483 557,479 565,469 567,469 567,463 569,461 573,463 579,459 579,457 577,459 569,459 567,463 559,463 549,469 545,467 543,463 537,467 539,469 539,473 529,483 529,491 531,495 527,503 533,511 531,513 527,511 525,513 525,517 519,521 521,525 517,529 513,529 515,535 511,539 511,545 509,547 505,541 495,541 489,533 485,533 483,531 483,517 485,515 489,515 497,507 501,507 509,503 509,499 505,495 507,491 505,481 507,479 511,485 515,483 505,471 513,459 509,453 513,439 509,437 505,431 505,421 483,417 479,423 473,423 471,421 471,417 467,415 469,403 475,399 475,393 461,385 451,385 443,377 443,375 435,371 431,371 421,365 417,365 409,359 405,359 403,355 399,355 393,349 385,355 389,363 389,369 387,371 387,377 389,379 387,381 389,379 393,383 401,385 405,389 409,389 411,393 419,397 423,403 421,405 433,405 437,411 445,411 449,415 457,413 459,415 459,421 461,419 467,425 465,435 459,441 457,455 459,459 465,463 465,469 469,471 465,473 467,475 465,479 471,483 473,491 469,495 465,495 459,501 463,499 467,503 461,509 457,507 451,507 449,509 443,501 439,505 423,505 421,507 417,507 415,505 415,501 405,495 399,497 399,501 393,509 387,509 383,505 387,499 385,497 385,491 389,487 395,489 395,487 391,485 391,481 395,477 387,471 387,467 391,463 395,465 403,459 405,461 403,453 409,445 413,445 417,441 417,439 415,439 405,427 417,417 417,413 413,411 417,407 419,409 417,407 413,409 403,409 399,405 395,405 393,403 395,395 389,391 387,393 389,395 389,399 385,403 383,401 373,403 367,399 367,397 373,393 369,391 369,395 367,397 367,407 369,409 367,411 367,415 361,421 357,421 355,419 353,421 355,425 351,429 349,427 343,427 333,433 333,437 335,439 333,441 325,439 323,441 323,445 325,449 329,451 329,455 325,457 329,459 327,463 329,475 331,475 329,471 333,467 335,469 335,475 337,477 331,485 337,493 339,501 343,505 345,503 349,503 351,505 351,511 359,511 361,513 361,519 371,521 373,525 385,525 387,527 381,533 381,537 377,545 377,549 381,551 381,555 383,557 375,561 377,583 373,585 353,557 357,549 353,539 347,539 339,533 337,529 339,525 333,521 333,515 329,511 329,505 323,501 323,495 327,491 313,481 313,471 309,465 311,463 309,461 309,455 297,445 291,445 279,431 273,435 267,431 267,429 277,419 281,419 283,417 281,413 283,411 287,411 283,403 279,405 277,403 277,399 281,393 273,387 271,389 261,377ZM1247,693 1249,689 1253,691 1249,695ZM1263,663 1267,661 1269,665 1265,667ZM625,641 629,639 631,643 627,645ZM647,631 651,635 653,647 649,655 641,659 641,663 639,665 635,661 635,653 633,651 633,643 635,641 631,641 629,637 631,635 639,637 643,631ZM513,593 515,595 511,599 515,609 511,613 507,613 511,617 511,623 509,625 505,625 503,623 503,619 495,619 491,613 497,605 495,603 499,599 509,593ZM585,589 591,595 595,595 599,599 599,603 591,607 591,609 585,613 585,619 589,627 589,623 593,619 595,621 595,635 599,639 595,643 591,641 587,647 583,645 579,649 575,647 569,651 565,647 565,639 547,625 545,617 549,615 557,623 563,619 573,619 569,613 571,609 571,599 567,595 575,589ZM583,587 585,585 589,585 593,591 589,593ZM503,583 507,581 509,585 507,587ZM609,581 613,579 615,583 611,585ZM1127,579 1127,581 1119,587 1115,587 1113,585 1113,583 1121,577 1125,577ZM379,579 381,577 385,577 387,579 383,583ZM1127,575 1129,573 1131,575 1129,577ZM483,567 485,563 493,563 497,557 503,557 505,559 509,559 511,557 517,565 515,567 509,567 511,571 503,577 501,575 491,577 489,575 489,571 487,573ZM1325,555 1327,557 1327,561 1323,565 1319,565 1317,561ZM1157,555 1159,559 1153,565 1149,565 1147,563 1153,555ZM487,557 489,553 493,555 489,559ZM667,549 673,549 679,553 679,557 671,565 663,559 663,553ZM577,535 579,533 581,535 579,537ZM1357,491 1361,495 1361,499 1355,505 1353,515 1351,517 1347,517 1347,527 1329,553 1327,555 1321,555 1313,545 1317,541 1323,539 1323,533 1325,531 1329,531 1331,519 1333,517 1335,519 1339,517 1339,513 1345,509 1345,505 1351,499 1351,495ZM467,473 469,471 471,473 469,475ZM503,445 505,441 509,443 505,447ZM247,429 251,427 253,431 251,433ZM1173,417 1175,419 1169,423 1167,421ZM379,409 383,407 387,413 383,415ZM665,399 669,397 671,401 667,403ZM1319,395 1327,403 1327,417 1321,421 1313,415 1315,399ZM1013,389 1015,387 1019,391 1015,393ZM265,387 267,385 269,387 267,389ZM693,375 695,373 697,375 695,377ZM921,367 923,365 925,367 923,369ZM919,365 921,363 923,365 921,367ZM407,281 405,281 405,283ZM323,273 325,277 323,287 325,289 315,301 321,303 325,307 325,315 323,317 319,317 319,321 323,325 341,327 343,325 355,323 357,325 357,335 361,337 359,335 359,327 365,323 373,323 377,327 375,331 379,331 389,339 387,343 391,333 389,331 385,331 381,327 387,319 393,319 401,323 401,319 405,315 407,317 407,321 411,325 413,323 417,323 415,311 407,305 407,299 405,297 409,293 407,295 389,283 387,285 377,285 375,287 371,283 371,279 367,279 365,275 359,271 361,267 359,267 361,269 359,271 353,271 351,269 351,265 349,265 347,267 343,267 339,273 331,269 327,269ZM323,295 325,293 327,297 325,299ZM399,293 401,291 403,293 401,295ZM393,257 389,255 387,261 379,269 371,269 371,275 373,271 383,275 391,265Z"/>
<path fill="#FF7FE5" fill-rule="evenodd" d="M1465,567 1463,569 1465,569ZM1453,539 1453,541 1457,541 1461,547 1465,547 1467,551 1469,551 1469,549 1465,547 1469,545 1469,541 1467,539ZM513,509 509,515 513,513ZM1455,497 1457,503 1465,509 1469,509 1469,507 1463,507 1461,505 1459,495ZM1443,473 1443,475 1447,475 1447,473ZM235,473 231,475 235,475ZM1433,469 1435,471 1439,471 1437,467ZM1371,467 1369,469 1373,471 1373,467ZM1443,463 1441,463 1441,465ZM1429,463 1427,467 1429,467ZM527,457 525,459 525,463 531,463 533,461ZM1415,421 1417,425 1417,421ZM407,423 411,423 413,421 407,421ZM413,415 413,417 415,417 415,415ZM1403,411 1403,419 1423,417 1413,415 1409,411ZM283,403 285,407 283,411 287,411ZM231,433 231,437 235,441 231,443 231,463 241,465 247,461 251,467 255,463 259,467 257,469 257,473 251,479 231,481 231,899 1469,899 1469,585 1463,581 1463,575 1457,579 1447,575 1441,569 1435,567 1431,561 1427,561 1413,549 1407,539 1401,535 1399,529 1397,529 1379,509 1375,501 1375,495 1371,485 1373,483 1373,475 1373,477 1359,489 1355,487 1355,481 1357,479 1361,481 1357,475 1367,463 1367,459 1369,457 1367,449 1369,447 1369,443 1373,439 1373,435 1371,435 1369,431 1375,425 1381,425 1383,421 1399,407 1411,387 1399,389 1393,397 1387,401 1389,405 1383,411 1383,415 1381,417 1375,413 1375,401 1373,399 1363,403 1351,403 1343,399 1337,401 1331,397 1331,417 1329,419 1329,423 1323,427 1319,427 1309,415 1309,409 1311,407 1309,397 1303,397 1301,399 1301,405 1305,407 1305,417 1301,427 1301,435 1295,443 1291,443 1279,453 1271,453 1269,455 1265,453 1261,455 1259,453 1249,453 1247,455 1239,455 1231,459 1219,461 1207,473 1179,515 1173,519 1173,521 1165,529 1161,525 1161,519 1175,497 1179,495 1185,487 1185,483 1197,467 1199,457 1187,449 1181,451 1175,445 1173,433 1171,431 1165,431 1163,433 1161,431 1157,431 1153,427 1147,427 1135,415 1129,413 1125,407 1113,405 1111,407 1101,409 1099,407 1099,403 1095,401 1097,397 1087,397 1083,395 1073,399 1071,403 1065,403 1063,405 1059,403 1051,407 1047,413 1037,415 1035,413 1035,405 1029,401 1025,403 1015,399 1007,399 1001,391 995,395 993,393 989,395 979,393 975,395 969,403 965,403 959,399 957,395 949,399 947,397 947,391 941,391 937,395 931,395 927,389 923,387 919,379 915,381 911,377 901,377 899,379 895,375 891,383 885,383 881,387 875,371 877,367 877,357 879,355 883,359 887,353 881,353 879,351 881,349 881,345 873,351 875,353 871,357 865,355 857,359 855,357 857,353 851,351 847,347 843,347 839,357 845,361 843,365 845,367 847,365 851,367 849,371 851,375 849,377 841,377 835,369 839,365 835,365 829,359 829,363 831,361 837,367 835,369 827,367 813,359 803,349 797,353 795,351 787,351 783,345 773,339 763,341 759,337 755,337 753,335 745,347 735,343 731,343 729,345 715,345 711,349 705,349 703,351 707,359 703,363 705,367 701,373 707,377 701,381 701,383 707,383 709,385 705,389 699,389 697,387 695,389 697,391 697,395 699,397 703,397 707,401 707,409 703,411 703,417 705,417 707,421 705,423 699,421 697,425 689,423 691,427 687,433 689,441 685,445 677,447 679,455 675,459 671,459 669,457 665,459 657,459 649,473 651,483 647,487 651,489 655,487 655,483 657,481 663,485 665,481 669,481 673,489 679,483 683,489 681,493 677,493 669,499 657,499 655,501 653,499 649,499 649,503 657,509 653,515 655,517 655,521 649,529 649,531 655,535 655,541 651,545 659,551 657,553 653,551 649,553 649,557 655,557 659,561 657,565 661,567 663,565 669,565 673,571 673,577 669,581 661,581 659,583 649,585 647,589 639,595 633,591 629,591 625,583 615,581 615,583 611,585 605,577 597,573 599,569 599,557 597,553 605,549 593,549 591,547 587,549 581,543 575,543 569,539 571,529 575,527 577,519 581,517 585,511 583,507 587,503 591,503 593,505 593,501 595,499 591,495 589,485 587,483 585,485 581,483 577,487 569,487 567,489 567,497 565,499 559,499 551,489 551,483 557,479 565,469 567,469 567,463 559,467 551,467 549,469 543,469 541,467 541,471 529,483 529,491 531,495 527,505 533,511 531,513 527,511 525,513 525,517 519,521 521,525 517,529 513,529 515,535 511,539 511,545 509,547 505,541 495,541 489,533 485,533 483,531 483,527 479,523 481,519 491,509 491,505 497,501 507,505 509,503 509,499 505,495 507,491 505,481 507,479 511,485 515,483 505,471 513,459 509,453 513,439 509,437 505,431 505,421 483,417 479,423 473,423 471,421 471,417 467,415 467,409 469,407 469,403 475,399 475,395 471,397 461,389 463,387 461,385 451,385 443,377 441,377 439,373 431,371 421,365 417,365 409,359 405,359 403,355 399,355 393,349 387,353 385,357 389,363 387,375 397,381 397,385 401,385 405,389 409,389 415,395 419,395 423,399 427,399 429,401 429,405 431,401 435,401 437,403 437,407 443,405 447,409 445,411 449,411 451,409 453,411 459,411 467,417 469,421 469,433 467,437 459,443 459,449 463,453 461,457 469,467 469,471 471,473 469,475 469,481 473,491 469,495 471,497 469,505 461,511 453,507 449,509 443,501 439,505 423,505 421,507 417,507 415,505 415,501 405,495 399,497 399,501 393,509 387,509 383,505 387,499 385,495 379,495 377,493 379,487 381,485 385,485 387,489 389,487 395,489 395,487 391,485 391,481 395,477 387,471 387,467 391,463 395,465 403,459 405,461 403,453 409,445 415,443 411,435 405,429 401,429 397,425 401,417 409,411 409,409 399,411 395,407 399,405 395,405 393,403 389,409 389,411 393,411 395,415 393,417 389,417 391,423 387,425 387,433 385,435 381,427 371,423 373,415 371,413 371,409 369,409 367,411 367,415 361,421 357,421 355,419 353,421 355,425 351,429 349,427 343,427 333,433 333,437 335,439 333,441 325,439 323,441 323,445 325,449 329,451 329,455 325,457 329,459 327,469 329,471 329,475 331,475 329,471 333,467 335,469 335,475 337,477 331,485 337,493 339,501 343,505 345,503 349,503 351,505 351,511 353,507 361,513 361,519 371,521 373,525 385,525 387,527 381,533 381,537 377,545 377,549 385,555 385,559 375,563 375,571 377,573 377,583 375,585 373,585 363,573 357,561 353,557 355,553 355,543 351,539 347,539 339,533 337,529 339,525 333,521 333,515 329,511 329,505 323,501 323,495 327,491 313,481 313,471 309,465 311,463 309,461 309,455 297,445 291,445 279,431 273,435 267,431 267,429 277,419 281,419 283,417 277,413 273,407 269,407 267,405 269,401 265,397 265,393 263,393 259,387 259,383 263,379 259,377 255,385 255,391 261,393 263,395 263,399 261,401 255,401 249,397 245,399 249,405 249,417 235,433ZM1247,693 1249,689 1253,691 1249,695ZM1263,663 1267,661 1269,665 1265,667ZM625,641 629,639 631,643 627,645ZM637,635 639,633 641,635 639,637ZM647,631 651,635 653,647 649,655 641,659 641,663 639,665 635,661 633,641 631,641 629,637 631,635 637,635 639,637 643,631ZM351,629 353,633 349,635 347,633ZM637,611 641,609 643,613 639,615ZM513,593 515,595 511,599 515,609 511,613 507,613 511,617 511,623 509,625 505,625 503,623 503,619 495,619 491,613 497,605 495,603 499,599 509,593ZM577,587 579,589 585,589 591,595 595,595 599,599 599,603 595,605 595,609 585,613 585,619 589,627 589,623 593,619 595,621 595,635 599,639 595,643 591,641 587,647 583,645 579,649 575,647 569,651 565,647 565,639 547,625 545,617 549,615 557,623 563,619 573,619 569,613 571,609 571,599 567,595 571,589ZM583,587 585,585 589,585 593,591 589,593ZM503,583 507,581 509,585 507,587ZM1127,579 1127,581 1119,587 1115,587 1113,585 1113,583 1121,577 1125,577ZM379,579 381,577 385,577 387,579 383,583ZM1127,575 1129,573 1131,575 1129,577ZM483,567 485,563 493,563 497,557 503,557 505,559 509,559 511,557 517,565 515,567 509,567 511,571 503,577 501,575 491,577 489,575 489,571 487,573ZM1325,555 1327,557 1327,561 1323,565 1319,565 1317,561ZM1157,555 1159,559 1153,565 1149,565 1147,563 1153,555ZM487,557 489,553 493,555 489,559ZM667,549 673,549 679,553 679,557 671,565 663,559 663,553ZM359,511 361,509 365,511 363,513ZM1357,491 1361,495 1361,499 1355,505 1353,515 1351,517 1347,517 1347,527 1329,553 1327,555 1321,555 1313,545 1317,541 1323,539 1323,533 1325,531 1329,531 1331,519 1333,517 1335,519 1339,517 1339,513 1345,509 1345,505 1351,499 1351,495ZM671,483 673,481 675,483 673,485ZM503,445 505,441 509,443 505,447ZM697,431 699,429 701,431 699,433ZM393,427 395,429 395,433 393,435 389,431ZM247,429 251,427 253,431 251,433ZM241,427 243,425 245,427 243,429ZM395,423 397,421 399,423 397,425ZM1053,407 1055,405 1057,407 1055,409ZM1087,399 1089,397 1091,399 1089,401ZM847,351 849,349 851,351 849,353ZM363,275 365,277 365,275ZM361,267 359,267 361,269 359,271ZM327,269 323,273 325,277 323,287 325,291 329,291 333,297 329,301 315,301 321,303 325,307 325,315 323,317 319,317 319,321 323,325 329,325 331,327 337,325 341,327 343,325 355,323 359,331 357,333 359,337 359,327 365,323 373,323 377,327 375,331 379,331 389,339 387,343 391,333 389,331 385,331 381,327 387,319 393,319 401,323 401,319 405,315 407,317 407,321 411,325 413,321 409,313 411,311 409,311 405,305 401,309 397,309 391,313 389,311 389,307 391,305 389,303 387,305 385,303 385,299 389,295 395,295 393,291 383,291 379,287 373,289 369,285 363,285 361,287 355,285 353,283 351,265 343,267 339,273 331,269ZM377,329 379,327 381,329 379,331ZM375,297 377,295 381,295 383,299 379,301ZM343,277 345,275 347,277 345,279ZM389,259 387,259 385,263 389,261Z"/>
<path fill="#FFAADD" fill-rule="evenodd" d="M585,613 585,619 589,627 589,621 585,617ZM1403,411 1403,415 1409,415 1411,413 1409,411ZM1343,405 1339,407 1343,407ZM245,401 249,405 249,413 251,411 255,413 259,411 263,413 265,411 265,409 263,411 259,411 257,407 249,401 249,399ZM389,361 389,373 393,377 399,379 403,385 409,385 413,389 421,391 439,403 445,403 449,407 451,405 455,409 463,409 465,405 469,407 469,403 473,401 469,403 465,399 467,397 461,393 455,385 451,387 441,379 437,379 435,377 435,371 429,371 427,373 423,367 405,359 403,355 395,353ZM231,447 231,459 235,459 237,457 235,453 239,449 243,449 245,451 243,457 251,457 253,459 257,457 263,461 263,467 261,469 263,477 261,479 257,477 257,479 249,485 243,481 239,485 231,483 231,499 235,499 239,503 237,505 231,505 231,523 233,525 231,529 231,899 1469,899 1469,589 1445,577 1439,571 1433,569 1415,555 1415,553 1403,541 1393,527 1379,513 1371,501 1367,481 1359,489 1355,487 1355,481 1357,479 1361,481 1357,475 1365,465 1359,445 1355,443 1357,437 1361,435 1363,427 1369,423 1371,419 1385,419 1391,415 1405,399 1411,387 1401,389 1395,393 1393,397 1387,401 1389,405 1383,411 1383,415 1381,417 1375,413 1375,401 1365,407 1353,407 1347,411 1343,411 1335,421 1333,419 1333,429 1331,431 1317,433 1313,427 1309,425 1307,427 1307,433 1303,439 1297,443 1297,445 1293,447 1287,455 1281,455 1271,459 1247,457 1245,459 1237,459 1219,469 1215,469 1205,479 1203,485 1195,493 1191,503 1175,521 1175,523 1167,531 1161,531 1161,533 1151,543 1149,541 1149,537 1157,531 1157,525 1159,523 1161,513 1177,493 1183,481 1195,465 1197,459 1195,455 1191,455 1189,453 1177,453 1169,445 1167,439 1161,439 1151,431 1147,431 1139,423 1119,409 1115,409 1103,417 1099,415 1091,415 1087,419 1081,411 1077,411 1071,415 1063,415 1053,423 1049,423 1047,421 1039,431 1035,425 1027,427 1025,425 1027,423 1025,419 1021,419 1019,417 1015,419 1011,417 1009,413 1013,409 1011,411 1005,407 999,407 997,405 993,407 993,411 991,413 979,415 975,419 967,419 963,413 953,409 949,405 947,405 945,409 933,405 929,399 923,401 917,395 909,391 907,393 893,391 885,397 873,397 869,399 867,395 859,389 859,385 853,385 847,393 841,393 831,379 823,379 811,367 811,365 801,357 795,357 791,361 787,361 785,359 777,365 775,363 775,353 771,347 767,347 765,349 763,347 757,347 751,353 739,353 737,351 739,349 735,347 717,349 711,359 713,361 711,373 721,381 721,385 723,387 727,387 729,389 729,395 733,393 737,397 731,401 733,405 731,407 727,407 731,407 733,409 733,419 729,421 727,419 729,417 727,417 725,419 727,421 727,425 725,427 721,427 719,425 721,421 719,421 715,425 715,433 713,435 709,435 707,433 693,451 691,449 691,455 689,457 681,459 675,465 671,463 669,467 663,463 659,463 655,471 651,469 649,475 659,475 665,479 669,477 679,479 677,479 671,471 673,469 677,469 681,475 687,479 687,483 691,487 691,491 687,493 683,499 679,499 675,503 671,503 669,505 665,503 665,505 661,509 657,509 653,515 655,517 655,521 651,525 649,531 655,535 655,541 651,545 659,551 657,553 653,551 649,553 649,557 655,557 659,561 665,561 663,559 663,553 667,549 677,551 679,553 679,557 673,563 677,573 669,583 659,585 653,591 649,591 645,595 641,595 643,597 641,601 635,597 631,597 623,585 617,585 615,583 611,585 607,581 601,583 595,577 597,559 589,553 589,549 583,545 577,545 575,547 567,539 569,535 569,525 583,515 585,511 583,507 589,503 589,493 583,483 577,487 569,487 567,489 567,497 565,499 559,499 551,489 551,483 557,479 561,473 567,469 567,467 563,469 545,471 541,475 537,475 529,483 529,491 531,495 527,505 533,511 531,513 527,511 525,513 525,517 519,521 521,525 517,529 513,529 515,535 511,539 511,545 509,547 505,541 495,541 491,537 479,537 477,535 477,529 475,527 477,525 477,521 479,517 487,509 489,509 489,503 497,499 501,499 509,503 509,499 505,495 507,491 505,481 507,479 511,485 515,483 513,479 509,479 507,477 507,473 505,471 513,459 509,453 513,439 509,437 505,431 505,421 483,417 479,423 473,423 471,425 471,437 465,443 467,447 465,449 461,447 465,451 471,467 471,473 473,475 471,477 471,483 473,485 473,491 471,493 475,497 475,501 467,511 463,511 461,513 455,511 451,507 449,509 443,501 439,505 423,505 421,507 417,507 415,505 415,501 405,495 399,497 399,501 393,509 387,509 383,505 383,503 375,495 375,489 383,481 389,481 393,489 395,489 395,487 391,485 391,481 395,477 387,471 387,467 391,463 395,465 401,461 401,455 403,453 399,449 399,441 401,437 397,435 389,441 383,441 381,437 375,435 371,431 369,419 357,423 351,429 349,427 345,427 347,429 343,433 339,431 333,433 333,437 335,439 333,441 329,441 327,439 323,441 325,449 329,451 329,455 325,457 329,459 327,463 329,475 331,475 329,471 333,467 335,469 335,475 337,477 331,485 337,493 339,501 343,505 345,503 353,503 355,505 361,505 367,509 373,509 375,513 373,515 367,515 367,519 365,521 371,521 373,525 385,525 387,527 381,533 377,547 389,555 381,563 377,563 375,565 375,571 377,573 377,583 375,585 373,585 363,573 357,561 353,557 355,551 349,539 343,537 337,529 339,525 333,521 333,515 329,511 329,505 323,501 323,495 327,491 313,481 313,471 309,465 311,463 309,461 309,455 297,445 291,445 283,437 283,435 275,439 267,431 273,423 269,417 265,419 265,421 269,423 265,429 261,429 259,427 259,423 261,421 259,419 253,421 255,431 245,441 239,437 241,433 237,433 235,437 239,443 235,447ZM1247,693 1249,689 1253,691 1249,695ZM1263,663 1267,661 1269,665 1265,667ZM591,647 593,645 595,649 593,651ZM641,627 643,631 647,631 651,635 653,647 649,655 641,659 641,663 639,665 635,661 635,657 631,655 631,649 625,641 627,639 631,641 629,637 639,627ZM353,627 357,633 351,639 347,639 345,637 345,633ZM641,603 645,607 645,613 639,617 635,611ZM1105,597 1095,605 1091,603 1099,595 1103,595ZM513,593 515,595 511,599 515,609 511,613 507,613 511,617 511,623 509,625 505,625 503,623 503,619 495,619 491,613 497,605 495,603 499,599 509,593ZM1117,589 1107,597 1103,595 1113,587ZM495,589 497,587 501,587 505,593 501,597ZM589,579 593,583 589,585 593,589 591,593 599,599 599,603 597,605 599,613 597,617 603,621 603,625 601,627 595,627 595,635 599,639 595,643 591,641 587,647 583,645 579,649 575,647 569,651 565,647 565,639 547,625 545,617 549,615 557,623 563,619 573,619 569,613 571,609 571,599 567,595 569,583 571,581 575,585 577,583 585,583ZM495,579 497,583 491,587 487,583 491,579ZM379,579 381,577 385,577 387,579 383,583ZM483,565 485,563 493,563 497,557 503,557 505,559 509,559 511,557 517,565 515,567 509,567 511,571 503,577 501,575 505,581 509,583 507,587 505,585 503,587 501,583 495,579 497,575 495,577 491,577 489,575 489,571 487,573ZM1325,555 1327,557 1327,561 1323,565 1319,565 1317,561ZM1163,557 1163,559 1149,573 1139,577 1133,583 1117,589 1113,585 1117,579 1127,577 1129,573 1131,575 1135,571 1145,567 1153,555 1157,555 1159,557 1161,555ZM487,557 489,553 493,555 489,559ZM461,519 463,517 465,519 463,521ZM243,517 245,515 247,517 245,519ZM1357,491 1361,495 1361,499 1355,505 1353,515 1351,517 1347,517 1347,527 1329,553 1327,555 1321,555 1313,545 1317,541 1323,539 1323,533 1325,531 1329,531 1331,519 1333,517 1335,519 1339,517 1339,513 1345,509 1345,505 1351,499 1351,495ZM399,451 401,455 397,457 395,455ZM247,451 249,449 251,451 249,453ZM263,447 265,451 259,455 257,451ZM503,445 505,441 509,443 505,447ZM365,431 369,429 371,433 369,435ZM1095,417 1097,415 1099,417 1097,419ZM391,333 389,333 389,337ZM397,317 395,321 401,323 401,317ZM399,311 401,313 403,311ZM379,291 379,293 381,293ZM323,273 325,277 323,285 333,293 337,293 339,295 339,299 343,303 343,309 341,311 339,311 333,303 323,305 325,307 325,315 321,317 323,319 321,321 323,325 329,325 331,327 335,323 339,323 341,325 345,321 347,325 355,323 357,327 359,327 363,321 365,323 379,323 381,325 389,319 383,319 381,317 383,309 379,303 371,299 371,303 369,305 363,299 363,295 359,295 353,291 355,289 361,289 369,295 371,293 371,289 357,289 347,281 343,281 333,273 335,271 331,269 327,269Z"/>
<path fill="#984534" fill-rule="evenodd" d="M231,507 231,509 233,509ZM247,503 243,507 241,505 239,507 245,507ZM247,493 247,497 249,497ZM245,489 243,487 239,487 235,491 235,495 239,495 237,493 239,489ZM509,483 511,485 515,483ZM661,471 661,473 665,475 665,471ZM393,463 399,463 399,461 395,459ZM251,445 251,447 255,449 255,447ZM259,431 261,433 261,431ZM367,421 365,423 361,423 361,425 367,423ZM499,419 489,419 487,417 483,417 479,425 473,425 473,431 477,435 473,437 471,449 467,451 467,453 473,459 471,463 475,469 475,479 477,481 475,495 481,499 481,501 477,503 477,507 483,507 487,505 491,499 495,499 497,497 501,497 509,501 505,495 507,491 505,481 499,477 503,471 495,471 491,461 493,459 503,459 505,461 505,465 509,467 509,463 513,459 513,457 511,461 507,455 513,439 509,437 505,431 505,421 501,421ZM503,445 505,441 509,443 505,447ZM1351,415 1349,415 1349,417ZM1391,401 1389,405 1391,405ZM1403,395 1399,403 1405,399ZM745,395 747,401 751,401 753,403 751,413 755,417 759,417 761,405 753,395 749,399 747,395ZM757,403 759,407 755,409 753,407ZM231,529 231,899 1469,899 1469,591 1457,585 1453,581 1443,577 1419,561 1409,551 1409,549 1401,543 1389,525 1375,511 1367,499 1367,495 1365,495 1361,489 1357,489 1355,487 1355,483 1353,481 1357,473 1353,469 1355,467 1359,467 1359,465 1349,465 1345,461 1345,457 1349,449 1345,451 1341,449 1345,439 1349,437 1349,433 1351,431 1349,427 1351,425 1357,427 1363,421 1359,415 1357,415 1353,421 1345,423 1343,427 1335,431 1329,437 1315,439 1313,443 1309,441 1303,445 1289,461 1259,463 1255,459 1251,459 1245,463 1239,463 1239,465 1231,471 1233,473 1225,477 1215,471 1213,475 1209,477 1205,485 1195,497 1195,501 1187,509 1175,527 1169,531 1153,549 1145,549 1143,547 1143,543 1147,535 1153,531 1157,523 1159,513 1171,495 1179,487 1181,481 1187,475 1195,459 1187,455 1177,457 1175,459 1169,455 1165,455 1163,457 1161,455 1161,451 1165,449 1165,445 1155,445 1153,449 1153,453 1155,455 1147,461 1139,471 1137,471 1133,467 1133,463 1131,461 1127,461 1125,457 1137,439 1139,427 1131,427 1127,423 1121,423 1119,425 1109,423 1107,427 1103,425 1099,429 1091,427 1081,431 1079,427 1075,425 1069,433 1069,437 1059,443 1053,441 1049,443 1051,445 1049,447 1041,447 1033,443 1027,435 1019,435 1017,437 1015,435 1007,435 1001,427 995,427 993,425 985,425 983,427 965,427 963,425 957,425 953,419 947,419 943,423 933,427 931,425 933,421 931,411 929,413 919,405 911,405 913,409 909,413 905,409 897,411 895,407 881,405 863,415 863,419 857,425 851,413 853,409 847,403 839,403 833,395 829,395 825,391 825,385 823,383 821,385 807,375 805,367 801,367 799,371 793,371 783,377 777,373 771,373 767,377 763,377 763,381 767,383 765,389 769,389 771,387 777,391 777,395 779,397 783,397 791,409 785,417 779,417 777,419 779,423 777,425 771,423 771,431 765,435 765,439 763,441 753,437 751,439 741,439 739,441 731,441 729,443 721,441 711,453 709,453 707,451 707,447 705,447 705,451 701,457 691,461 693,465 697,465 699,467 697,469 697,477 695,479 695,485 697,487 699,497 691,503 685,501 683,505 677,505 671,509 663,509 659,515 659,519 653,523 649,529 649,531 655,535 655,541 651,545 659,551 657,553 653,551 649,553 649,557 657,557 659,555 663,557 663,553 667,549 673,549 679,553 679,557 675,561 679,571 677,579 673,583 665,585 653,593 649,593 645,597 645,603 649,607 649,611 641,619 637,619 633,613 633,605 635,601 631,601 625,595 625,589 623,587 617,587 615,585 599,585 597,583 597,589 595,591 597,593 595,595 599,599 601,615 605,621 607,631 599,635 599,639 597,641 597,651 595,653 591,653 587,649 591,641 587,647 583,645 579,649 575,647 569,651 565,647 565,639 549,627 545,619 547,615 549,615 557,623 563,619 573,619 569,613 571,605 567,601 567,597 565,595 565,583 569,579 573,579 575,577 587,577 589,575 593,575 593,565 589,565 587,567 583,565 587,559 583,553 583,547 569,549 565,541 567,523 571,517 577,515 579,511 583,511 585,509 583,507 587,501 583,497 587,493 581,493 579,491 579,485 577,487 569,487 567,489 567,497 565,499 559,499 551,489 551,483 561,475 559,471 553,475 547,473 543,477 537,477 529,483 529,491 531,495 527,505 533,511 531,513 527,511 525,513 525,517 519,521 521,525 517,529 513,529 515,535 511,539 511,545 509,547 505,541 493,541 489,543 485,539 477,539 471,533 475,531 471,531 467,525 471,517 465,525 461,527 459,525 459,517 445,505 441,507 437,505 423,505 421,507 417,507 415,505 415,501 411,503 409,501 411,499 409,497 405,497 399,509 395,505 393,509 387,509 379,501 375,501 373,499 373,487 381,477 389,473 387,469 379,471 371,463 371,461 375,457 379,457 383,461 389,461 389,457 393,455 395,451 389,455 385,449 391,443 385,443 383,445 373,443 371,445 367,441 367,435 363,435 359,431 355,431 353,429 347,437 343,437 341,435 337,439 339,443 339,447 337,449 335,447 327,449 325,445 323,445 325,449 329,451 329,455 325,457 329,459 327,463 329,475 331,475 329,471 333,467 335,469 335,475 337,477 331,485 337,493 339,501 343,505 349,499 357,497 365,507 371,507 373,505 379,511 377,513 377,517 373,521 371,519 367,521 371,521 373,525 385,525 387,527 381,533 381,537 377,545 383,549 387,549 391,555 381,565 375,565 377,583 369,589 365,585 365,579 367,577 353,557 353,551 345,543 345,537 339,533 337,529 339,525 333,521 333,515 329,511 329,505 323,501 323,495 327,491 313,481 313,471 309,465 311,463 309,461 309,455 297,445 291,445 289,443 285,445 283,443 283,439 279,445 271,445 267,443 267,455 265,457 265,469 267,471 267,475 259,491 261,499 255,503 257,505 257,509 253,513 253,517 241,527 237,525 235,529ZM1247,693 1249,689 1253,691 1249,695ZM1263,663 1267,661 1269,665 1265,667ZM635,625 641,625 645,631 651,635 651,641 653,643 653,647 647,657 643,657 639,665 635,659 629,655 629,651 625,641 629,639 629,631 633,629ZM351,623 359,631 359,633 345,649 343,647 343,643 345,641 343,639 343,633 347,625ZM379,579 381,577 385,577 387,579 383,583ZM497,557 503,557 505,559 509,559 511,557 517,565 515,567 509,567 511,571 505,575 509,579 509,591 515,595 511,599 515,609 511,613 507,613 511,617 511,623 509,625 505,625 503,623 503,619 495,619 491,615 497,605 495,603 501,599 501,597 497,597 493,593 489,595 485,585 485,577 489,575 489,571 487,573 483,565 485,563 493,563ZM1325,555 1327,557 1327,561 1323,565 1319,565 1317,561ZM487,557 489,553 493,555 489,559ZM1167,555 1167,559 1153,573 1143,577 1137,583 1117,593 1097,607 1091,607 1087,603 1091,597 1101,593 1113,585 1117,579 1131,573 1149,561 1149,559 1153,555 1157,555 1159,551 1163,551ZM261,503 265,499 269,499 271,501 267,505 263,505ZM357,497 359,495 361,497 359,499ZM339,495 343,493 347,497 345,499 341,499ZM1357,491 1361,495 1361,499 1355,505 1353,515 1351,517 1347,517 1347,527 1329,553 1327,555 1321,555 1313,545 1317,541 1323,539 1323,533 1325,531 1329,531 1331,519 1333,517 1335,519 1339,517 1339,513 1345,509 1345,505 1351,499 1351,495ZM1351,475 1353,473 1355,475 1353,477ZM1147,467 1149,471 1145,475 1141,471ZM1157,459 1159,457 1161,459 1159,461ZM1159,457 1161,455 1163,457 1161,459ZM705,453 707,451 709,453 707,455ZM789,413 791,411 795,417 791,419 789,417ZM839,407 841,405 843,407 841,409ZM745,363 735,371 739,375 739,381 745,379 745,375 749,373 749,369ZM741,371 743,367 747,367 749,369 745,373ZM391,363 391,371 393,375 401,377 405,381 409,381 415,387 429,393 433,397 437,397 441,401 453,403 459,407 463,403 461,401 457,405 455,403 455,397 457,395 461,397 455,389 449,391 443,385 437,385 429,377 429,375 415,373 413,371 413,367 401,357 399,359 395,359ZM723,353 721,357 725,361 721,367 723,369 727,367 731,369 733,365 733,361 729,357 731,355 729,353ZM323,317 325,323 339,321 341,317 345,317 347,319 343,313 337,313 335,315 331,311 331,307ZM323,273 323,275 327,277 327,281 325,283 329,283 333,289 339,289 341,291 343,299 347,303 347,309 353,313 351,323 359,315 367,321 373,321 379,317 379,309 373,305 369,307 363,305 347,287 347,283 343,283 337,279 329,271 329,269Z"/>
<path fill="#AE6656" fill-rule="evenodd" d="M405,505 405,509 409,511 411,509ZM507,497 507,499 509,499ZM355,493 353,495 355,495ZM1111,437 1109,443 1111,443 1117,451 1121,445 1121,441 1115,441 1113,437ZM1111,441 1113,439 1115,443 1113,445ZM341,439 341,445 343,447 339,451 335,451 335,457 333,459 329,459 327,463 329,475 331,475 329,471 333,467 337,477 331,485 333,489 337,487 341,489 345,483 347,485 345,489 347,491 351,485 353,489 357,489 365,495 365,499 369,499 371,497 373,479 369,479 367,477 371,473 371,469 365,467 361,463 363,461 367,461 367,459 377,451 383,457 383,453 377,451 373,447 369,447 365,441 359,437 359,435 357,437 351,437 345,441ZM337,479 339,477 343,477 345,479 343,481 339,481ZM353,463 355,461 357,465 355,467ZM339,455 341,453 347,453 349,457 347,459 343,459ZM505,421 491,419 489,425 485,429 483,427 475,427 479,431 479,437 475,439 475,445 471,451 475,455 475,461 479,465 477,475 481,477 479,491 481,489 483,491 483,499 489,495 499,495 507,491 505,487 489,475 489,469 485,465 491,457 495,457 501,451 505,451 511,447 511,441 513,439 509,437 505,431ZM503,445 505,441 509,441 511,443 507,447ZM231,531 231,899 1469,899 1469,591 1465,591 1457,587 1437,573 1431,571 1425,565 1419,563 1401,547 1389,529 1371,511 1369,505 1359,491 1353,487 1349,487 1345,483 1341,483 1337,479 1337,469 1329,463 1335,459 1331,459 1329,457 1335,453 1335,449 1331,443 1327,447 1325,445 1313,451 1301,451 1301,455 1293,465 1275,465 1273,467 1261,467 1259,469 1255,465 1251,471 1247,469 1241,471 1243,471 1245,475 1243,477 1239,477 1235,481 1231,481 1227,485 1221,485 1217,479 1209,481 1207,487 1201,491 1199,499 1189,513 1163,541 1161,545 1171,555 1169,561 1153,575 1143,579 1137,585 1127,589 1097,609 1089,609 1087,607 1087,599 1091,595 1107,587 1133,567 1145,561 1155,553 1153,551 1143,551 1141,549 1141,543 1145,535 1153,527 1157,511 1165,503 1169,497 1169,493 1175,489 1179,479 1187,471 1191,463 1191,459 1189,457 1181,459 1175,463 1171,463 1163,469 1163,475 1155,481 1141,481 1139,483 1137,479 1133,479 1129,475 1127,477 1125,473 1119,471 1115,467 1107,467 1105,465 1107,459 1105,461 1103,459 1097,459 1091,453 1085,453 1083,451 1073,451 1071,453 1067,453 1061,461 1061,467 1059,469 1055,463 1045,463 1043,461 1039,461 1043,461 1049,467 1043,471 1035,465 1033,459 1029,455 1029,451 1021,445 1013,445 1009,443 1005,445 1003,449 999,449 993,443 999,439 995,439 993,441 989,441 987,439 977,439 975,443 969,443 967,439 963,437 961,439 961,443 957,447 949,445 947,441 945,443 937,443 931,439 925,429 921,429 913,419 909,421 907,419 903,421 895,419 889,425 881,421 863,435 859,433 855,435 839,417 837,419 833,419 829,415 823,415 821,417 825,417 827,419 825,421 813,423 801,437 799,437 795,431 785,431 783,433 785,437 783,439 779,439 775,443 775,447 769,451 769,455 767,457 759,457 753,463 749,461 743,469 739,467 741,465 739,461 737,461 737,467 731,471 725,467 719,469 717,467 721,461 715,463 709,479 703,483 705,495 703,497 703,503 699,507 693,507 689,513 687,511 675,511 669,519 661,519 661,527 657,531 655,531 653,529 653,525 651,525 651,529 661,537 659,539 655,539 653,543 659,551 657,553 653,551 651,555 659,551 673,549 679,553 677,561 683,571 679,575 679,579 675,585 661,589 649,597 651,599 649,601 651,611 645,619 645,629 651,635 653,647 649,655 641,659 641,663 639,665 635,663 627,653 627,645 625,641 627,639 627,631 631,627 633,619 631,617 631,603 627,603 623,597 623,589 617,589 615,587 605,587 603,589 601,587 599,591 609,631 601,637 599,641 599,651 595,657 593,657 585,649 585,645 579,649 575,647 569,651 565,647 565,639 547,625 547,621 545,619 547,615 549,615 557,623 563,619 573,619 569,613 571,609 569,611 565,609 563,585 557,579 561,575 571,575 571,571 579,567 583,561 581,549 579,551 575,551 569,559 567,557 567,551 563,547 565,521 579,507 583,507 581,495 577,491 577,487 569,487 567,489 567,497 565,499 559,499 551,489 551,483 557,479 559,475 553,479 543,479 539,487 529,487 531,495 527,505 533,511 531,513 527,511 525,513 525,517 519,521 521,525 517,529 513,529 515,535 511,539 511,545 509,547 505,541 495,541 491,545 477,541 471,537 467,531 463,531 457,527 457,519 453,517 449,519 443,513 447,511 447,509 439,509 435,511 433,509 435,505 423,505 421,507 417,507 415,513 407,521 401,517 395,509 385,511 383,507 379,505 383,513 379,519 379,523 377,525 373,525 385,525 387,527 381,533 379,543 387,547 393,553 383,565 375,567 375,571 377,573 377,583 369,591 359,581 359,579 365,575 353,557 351,551 343,543 343,537 337,529 339,525 333,521 333,515 329,511 329,505 323,501 323,495 327,491 313,481 313,471 309,465 311,463 309,461 309,455 307,453 305,455 303,451 299,451 297,449 297,445 289,445 279,449 275,449 269,445 267,467 269,469 269,477 271,479 269,483 271,493 267,495 269,497 271,495 275,497 273,505 271,507 267,507 263,511 259,511 255,515 257,517 251,521 247,527 243,527 237,531ZM265,771 267,769 269,773 267,775ZM245,735 247,733 249,735 247,737ZM1247,693 1249,689 1253,691 1249,695ZM1263,663 1267,661 1269,665 1265,667ZM243,647 245,645 247,647 245,649ZM247,637 249,635 253,637 251,639ZM351,617 355,623 359,625 359,631 361,633 353,641 347,651 343,653 339,649 343,643 341,631 343,629 345,619 347,617ZM271,619 273,617 275,619 273,621ZM285,609 289,607 295,613 291,615ZM379,579 381,577 385,577 387,579 383,583ZM567,563 569,561 571,563 569,565ZM497,557 503,557 505,559 509,559 511,557 517,565 515,567 509,567 511,571 507,575 511,579 511,587 515,595 511,599 515,609 511,613 507,613 511,617 511,623 509,625 505,625 503,623 503,619 495,619 491,615 497,605 495,603 497,601 491,597 487,597 483,593 483,589 481,587 483,577 485,575 483,565 485,563 493,563ZM1325,555 1327,557 1327,561 1323,565 1319,565 1317,561ZM487,557 489,553 493,555 489,559ZM297,545 301,551 295,555 293,553 293,549ZM427,509 429,507 433,509 431,511ZM1357,491 1361,495 1361,499 1355,505 1353,515 1351,517 1347,517 1347,527 1329,553 1327,555 1321,555 1313,545 1317,541 1323,539 1323,533 1325,531 1329,531 1331,519 1333,517 1335,519 1339,517 1339,513 1345,509 1345,505 1351,499 1351,495ZM1123,481 1125,479 1129,483 1125,485ZM1101,467 1103,465 1105,467 1103,469ZM301,455 303,453 305,455 303,457ZM773,449 775,447 777,449 775,451ZM443,395 443,399 447,399 453,403 453,397ZM429,383 429,387 435,395 439,395 439,391 437,391 433,385ZM393,369 395,373 401,373 407,379 415,379 417,381 417,385 423,381 423,379 417,375 411,375 409,373 411,369 409,369 407,373 403,369 403,363 401,365 397,363ZM399,367 401,365 403,367 401,369ZM375,315 373,313 371,317 375,317ZM353,299 353,309 361,309 357,305 357,301ZM349,297 347,299 349,299ZM337,279 333,281 335,285 337,283Z"/>
<path fill="#C88A7E" fill-rule="evenodd" d="M289,693 289,697 297,695 297,693ZM313,601 315,603 317,601ZM247,557 247,559 249,559 249,557ZM237,553 239,555 243,555 245,553 251,553 251,551 255,549 247,553 237,549ZM1349,491 1349,497 1351,499 1351,495 1353,493ZM485,475 487,477 489,487 493,485 493,483ZM479,469 479,473 481,473ZM331,465 331,467 333,467 333,465ZM1309,463 1311,467 1315,467 1313,463ZM341,461 337,469 341,471 341,465 345,463 347,465 347,471 351,471 353,473 351,483 355,483 357,487 363,491 363,479 367,473 361,473 353,469 349,463ZM345,443 351,447 351,453 353,455 361,451 361,443 355,447 349,443ZM353,449 355,447 359,449 357,451ZM1469,593 1441,579 1435,573 1403,553 1399,553 1395,549 1395,545 1393,547 1385,547 1383,545 1387,543 1385,539 1387,537 1387,531 1383,529 1375,529 1371,525 1371,517 1367,517 1361,511 1359,501 1355,505 1353,515 1351,517 1347,517 1347,527 1341,537 1327,555 1321,555 1313,545 1317,541 1323,539 1323,533 1325,531 1329,531 1331,519 1333,517 1337,519 1339,517 1339,513 1345,509 1345,505 1337,509 1331,517 1329,513 1323,509 1327,507 1323,501 1319,501 1313,497 1313,493 1309,487 1311,481 1303,467 1299,471 1297,469 1293,469 1291,471 1287,471 1285,469 1277,471 1273,469 1267,473 1257,473 1239,485 1237,489 1229,489 1227,491 1219,491 1217,493 1213,491 1211,493 1205,493 1203,495 1203,501 1199,505 1205,509 1205,513 1203,515 1193,513 1165,545 1175,553 1173,559 1161,571 1147,581 1143,581 1097,611 1089,611 1085,607 1085,599 1089,593 1093,593 1097,589 1107,585 1115,577 1123,573 1129,567 1135,565 1139,559 1143,559 1145,557 1133,551 1137,547 1141,537 1149,529 1153,521 1155,511 1167,495 1167,491 1173,487 1177,477 1185,469 1185,465 1179,469 1175,469 1175,471 1167,477 1165,487 1157,493 1153,493 1151,489 1147,487 1143,487 1139,491 1131,491 1127,493 1125,491 1119,491 1115,483 1111,483 1105,479 1099,481 1095,477 1087,477 1085,475 1089,471 1087,467 1079,461 1075,461 1071,465 1073,465 1077,471 1073,477 1065,479 1059,483 1051,483 1047,479 1039,481 1037,477 1035,477 1027,469 1023,473 1021,471 1021,467 1017,463 1019,461 1017,459 1017,455 1015,455 1011,461 1007,461 1005,463 1001,463 995,457 991,459 989,457 989,453 985,449 983,451 975,451 965,461 959,459 955,455 951,457 943,457 941,455 935,457 925,449 927,447 931,449 931,447 923,443 913,433 903,435 901,433 903,427 891,429 889,433 891,437 889,439 875,439 871,445 867,445 865,447 849,447 845,443 843,435 837,429 833,429 831,435 821,445 817,441 809,441 805,445 795,445 789,451 789,455 779,463 779,467 773,471 769,469 759,469 751,475 747,473 735,483 727,483 725,485 721,483 721,479 717,489 715,491 711,491 711,497 715,501 713,503 709,503 705,507 703,515 699,519 695,517 691,519 687,515 681,519 675,519 673,521 673,525 665,533 663,543 665,543 669,549 673,549 675,547 683,553 683,561 687,567 687,571 681,577 677,587 673,587 667,591 659,591 653,597 653,605 655,609 651,619 647,623 647,629 651,635 651,641 653,643 653,647 649,655 641,659 641,663 639,665 635,665 627,657 627,651 625,649 625,633 627,631 627,627 625,623 629,615 629,605 619,599 619,595 621,593 615,589 607,589 605,593 609,599 605,601 605,607 609,611 607,615 609,617 609,627 611,631 603,637 601,641 599,657 593,661 589,661 587,659 587,653 583,651 583,647 585,645 579,649 575,647 569,651 565,647 565,639 549,627 545,619 547,615 549,615 557,623 563,619 573,619 563,611 561,595 555,589 557,585 555,581 547,575 551,573 549,565 557,559 559,561 559,553 561,551 561,547 559,545 561,543 563,521 571,511 581,505 579,503 575,505 571,503 571,497 575,493 567,495 565,499 559,499 551,489 551,481 549,483 551,487 549,489 543,487 543,491 541,493 537,489 529,489 531,495 527,505 533,511 525,517 525,523 515,529 517,533 511,539 511,545 509,547 505,541 501,545 499,543 495,543 491,547 487,545 479,545 467,535 455,533 453,531 453,527 451,525 447,525 445,523 445,519 439,515 441,511 437,513 437,515 441,517 441,521 443,523 441,525 439,525 435,519 429,515 429,513 425,513 425,523 423,525 413,527 411,531 409,529 407,531 399,531 395,525 397,523 397,519 395,517 393,519 387,515 387,519 379,525 385,525 387,527 381,533 379,541 389,545 393,549 393,557 385,565 375,567 375,571 377,573 377,585 371,591 367,591 357,583 359,573 363,571 361,571 355,563 349,559 351,555 341,543 341,537 337,533 339,525 333,521 327,511 327,503 323,501 323,487 321,489 317,487 317,483 313,481 313,471 307,461 303,461 295,453 295,447 287,447 279,451 273,451 271,453 271,461 269,463 271,477 277,489 277,499 283,505 283,515 281,517 281,523 283,525 277,529 275,527 275,519 273,517 269,519 265,525 263,523 263,517 259,515 259,521 257,523 253,523 255,527 253,531 245,529 239,537 231,535 231,539 233,541 239,541 241,539 247,539 249,535 253,533 255,535 251,543 259,537 261,539 259,547 265,543 271,543 273,547 275,547 275,543 281,539 289,545 297,541 301,541 305,547 305,555 303,557 297,557 295,559 287,555 289,555 291,559 285,563 281,563 279,561 281,551 275,551 269,563 263,559 261,561 269,569 273,569 275,573 273,575 271,573 263,573 259,575 259,577 263,577 265,581 263,583 257,583 257,587 255,589 251,589 249,587 249,583 253,579 249,569 239,569 237,565 231,561 233,557 231,553 231,571 233,573 231,585 235,587 231,591 231,601 235,601 237,603 235,607 231,607 231,631 235,633 235,637 233,639 231,637 231,643 235,645 231,647 231,691 235,695 235,697 231,699 231,711 233,713 231,717 233,737 231,739 239,745 237,749 231,749 231,753 233,751 237,753 235,761 231,763 231,785 233,787 231,791 231,807 233,809 233,813 231,815 233,819 231,821 231,825 233,827 233,831 231,833 231,899 1469,899ZM235,809 237,807 241,807 243,811 241,813 237,813ZM233,807 235,805 237,807 235,809ZM233,795 237,791 241,791 243,793 241,795 243,797 243,801 249,793 253,797 251,801 253,803 249,807 243,807 241,805 237,807 233,803ZM255,777 263,783 263,793 261,795 257,791 257,785 255,787 251,787 249,785ZM247,773 251,779 243,783 241,779ZM273,769 271,775 267,779 263,775 257,775 251,771 253,769 259,769 261,771 267,765ZM261,755 263,753 267,755 269,753 273,761 269,765 267,761 261,757ZM247,749 251,755 249,757 245,757 245,759 239,763 237,761 237,757 241,755 241,751 243,749ZM251,751 255,745 259,745 267,749 263,753 261,751 257,751 255,753ZM277,737 281,743 281,747 277,751 273,747ZM261,739 265,737 267,741 265,743ZM295,729 297,727 299,729 297,731ZM237,729 239,727 243,731 247,729 249,731 253,731 255,733 251,735 251,737 255,743 253,745 249,743 245,749 241,745 241,741 237,735ZM293,721 295,719 297,721 295,723ZM239,719 241,715 245,717 241,721ZM297,715 299,713 305,717 305,721 301,723 297,719ZM249,711 253,707 259,705 263,711 259,721 263,721 265,719 269,719 273,715 277,715 285,721 285,725 287,725 287,721 289,719 293,723 291,725 289,735 287,737 285,735 285,739 281,741 277,737 277,733 275,731 277,727 273,727 271,723 269,723 269,727 271,729 269,733 265,731 255,733 249,727 251,723ZM235,705 237,703 239,707 237,709ZM247,703 253,699 257,701 253,707ZM273,693 277,697 271,703 265,705 261,699 267,693ZM241,693 243,691 247,693 245,695ZM1247,693 1249,689 1253,691 1249,695ZM307,689 309,687 311,689 309,691ZM265,689 267,685 273,685 275,687 271,691 267,691ZM237,687 239,685 241,687 239,689ZM313,683 315,681 317,683 315,685ZM301,675 303,673 305,675 303,677ZM237,673 239,677 235,679 233,677ZM315,673 317,671 319,673 317,675ZM295,671 299,677 299,681 303,683 301,685 307,693 303,697 307,699 305,705 301,707 299,705 301,703 295,707 293,705 293,701 285,705 285,709 287,711 285,715 271,713 269,711 279,703 277,701 281,695 279,691 283,687 291,685 291,681 285,681 279,685 277,683 277,679 279,677 283,677 287,671 291,673ZM295,671 297,669 299,671 297,673ZM309,669 313,667 317,671 315,673 311,673ZM285,667 287,665 289,667 287,669ZM305,665 307,663 309,665 307,667ZM261,665 263,663 267,665 265,667ZM1263,663 1267,661 1269,665 1265,667ZM275,661 277,663 281,663 285,667 279,673 279,677 277,679 273,673 277,667 273,665ZM265,661 269,657 275,661 273,663 267,663ZM283,649 285,651 281,657 279,655 279,651ZM331,645 333,643 335,645 333,647ZM329,643 331,641 333,643 331,645ZM247,633 251,633 255,639 251,645 249,653 243,661 247,665 249,671 253,671 259,675 257,679 263,685 263,689 259,693 253,689 251,679 249,679 249,685 247,687 239,681 245,673 241,667 239,671 235,665 237,661 233,657 237,647 243,643 247,643 243,637ZM257,637 257,631 259,629 265,629 269,633 263,641ZM245,629 247,627 249,629 247,631ZM305,629 309,625 319,625 321,627 317,633 315,633 313,629 309,631ZM237,625 241,627 241,633 239,635 235,631 235,627ZM543,621 547,623 547,629 545,631 541,631 539,629ZM327,619 329,621 329,625 325,627 323,623ZM241,621 243,619 245,623 243,625ZM251,613 255,615 253,619 257,619 259,621 257,623 259,625 257,629 255,627 251,629 247,627 249,625 247,617ZM347,611 361,621 361,635 355,641 353,647 347,651 345,655 341,655 339,653 337,655 333,651 333,647 341,643 337,635 337,631 341,627 341,623 339,621 343,619 343,615ZM331,611 333,613 333,617 329,621 327,619 327,613ZM243,609 245,607 249,609 247,611ZM235,607 237,605 239,607 237,609ZM263,591 265,589 269,591 267,593ZM245,589 247,591 247,595 243,597 241,593ZM315,583 317,585 317,593 323,599 323,605 315,609 315,611 319,611 321,613 321,617 313,623 309,617 311,611 309,607 307,607 307,613 299,623 285,623 281,629 269,631 267,627 271,623 269,621 267,623 265,621 267,617 265,615 261,619 259,617 259,611 255,603 257,601 261,603 265,603 267,601 269,603 267,609 271,607 273,609 271,611 275,613 277,611 275,605 279,601 285,603 285,599 289,595 293,595 295,593 299,599 303,593 301,591 307,585 313,585ZM237,585 241,583 243,587 241,589ZM379,579 381,577 385,577 387,579 383,583ZM281,579 283,577 285,581 283,583ZM279,577 281,575 283,577 281,579ZM271,565 273,561 277,563 273,567ZM485,561 487,559 489,561 487,563ZM497,557 503,557 505,559 509,559 511,557 517,565 515,567 509,567 511,571 509,573 513,577 513,587 515,589 515,597 513,599 515,609 511,613 507,613 511,617 511,623 509,625 505,625 503,623 503,619 495,619 491,615 497,605 493,601 483,599 479,593 481,591 477,587 481,581 477,579 477,569 489,561 495,561ZM1325,555 1327,557 1327,561 1323,565 1319,565 1317,561ZM487,557 489,553 493,555 489,559ZM287,537 289,535 291,539 289,541ZM1367,531 1369,529 1371,531 1369,533ZM285,531 287,529 289,531 287,533ZM257,531 259,529 263,529 267,537 265,539ZM393,523 395,521 397,523 395,525ZM705,513 707,509 711,511 707,515ZM1355,507 1357,505 1359,507 1357,509ZM503,423 499,425 495,423 497,427 497,431 495,433 491,433 489,431 481,433 483,443 475,449 479,453 477,455 481,459 483,459 485,453 489,451 493,445 497,451 499,451 497,445 501,441 499,437 501,435 501,427ZM395,369 397,371 397,369Z"/>
<path fill="#E6B4AA" fill-rule="evenodd" d="M237,777 235,779 239,785 239,777ZM247,759 247,763 249,763 249,759ZM257,753 255,755 259,757ZM233,723 231,725 231,729 233,729ZM289,711 289,713 293,715 293,713ZM243,699 243,701 245,701 245,699ZM319,679 321,681 321,679ZM269,669 267,671 269,671ZM233,669 231,669 231,671ZM247,659 247,661 249,661 249,659ZM263,655 259,655 257,657 261,659ZM323,655 327,655 329,659 331,659 331,655 329,653ZM305,639 305,643 309,645 311,643ZM327,635 325,637 327,637ZM271,635 269,637 271,637ZM287,639 291,643 289,645 291,651 295,653 301,661 305,661 313,657 311,655 303,655 301,653 303,647 301,643 297,641 299,635 293,633ZM291,635 295,633 297,637 293,639ZM319,621 321,623 321,621ZM253,609 251,611 253,611ZM273,591 271,593 275,597 275,591ZM239,591 235,591 231,593 231,595ZM281,585 279,587 281,587ZM289,581 289,583 297,587 297,583ZM305,577 303,577 303,579ZM245,573 237,577 237,579 239,577 245,577ZM291,569 289,571 293,573 293,569ZM1125,561 1127,563 1129,561ZM667,535 667,539 671,541 669,535ZM283,535 277,539 273,537 273,539 279,539ZM247,533 245,535 247,535ZM721,505 719,509 721,509ZM1151,501 1143,501 1143,511 1141,513 1135,509 1131,511 1137,519 1141,519 1143,521 1143,525 1145,527 1149,523 1149,517 1151,515 1149,513 1151,509 1155,507ZM793,463 793,465 797,465ZM273,455 273,467 275,469 273,475 275,477 275,483 279,487 279,491 281,493 281,497 279,499 287,505 285,507 285,517 283,519 285,527 293,529 309,549 303,561 305,563 305,571 321,583 321,587 327,591 327,595 331,603 325,607 325,609 331,609 333,605 337,607 335,611 337,613 345,611 347,607 355,609 363,619 363,625 367,629 355,643 355,647 345,657 341,657 339,661 325,673 327,675 327,683 323,687 317,687 317,689 323,693 317,697 319,701 313,705 315,713 307,719 307,723 305,725 301,725 303,729 293,741 293,745 289,749 289,753 287,755 277,757 279,761 279,767 275,769 277,771 277,775 269,781 271,785 267,789 267,793 261,799 257,797 255,799 255,805 249,809 251,815 249,817 239,819 235,825 235,835 231,837 231,899 1469,899 1469,595 1457,589 1453,585 1439,579 1433,573 1407,557 1387,553 1385,551 1379,551 1373,547 1365,547 1359,543 1339,539 1327,555 1321,555 1313,545 1317,541 1323,539 1323,535 1319,531 1319,525 1317,523 1319,519 1317,519 1313,513 1309,513 1307,511 1305,503 1297,499 1295,493 1299,489 1295,481 1291,481 1289,483 1283,479 1277,479 1275,481 1271,479 1263,479 1259,485 1251,485 1247,493 1243,491 1243,497 1241,499 1235,499 1233,501 1229,501 1227,499 1219,501 1215,499 1213,501 1213,509 1205,519 1205,523 1201,525 1197,521 1197,529 1187,547 1179,545 1177,541 1171,541 1171,545 1177,549 1177,559 1173,563 1173,567 1171,569 1163,571 1151,581 1137,587 1125,597 1115,601 1099,613 1089,613 1081,603 1083,601 1083,597 1087,591 1095,587 1099,587 1113,577 1115,567 1111,565 1109,557 1111,555 1111,545 1115,541 1119,543 1119,539 1117,537 1119,535 1119,531 1121,529 1125,533 1125,539 1129,537 1133,541 1137,535 1133,531 1127,531 1121,523 1121,519 1111,519 1109,523 1103,523 1101,525 1085,523 1083,521 1083,513 1081,509 1079,509 1077,505 1067,505 1061,495 1057,495 1055,499 1047,489 1045,491 1041,491 1033,485 1023,487 1015,483 1007,485 997,477 995,481 989,481 985,477 987,475 987,469 973,473 971,471 973,469 971,467 969,469 965,469 967,473 963,477 959,477 953,465 951,467 953,475 949,477 947,475 947,471 941,475 933,469 929,463 921,459 921,463 919,465 921,467 921,471 909,481 905,479 905,473 907,471 905,471 905,475 901,477 893,473 887,473 885,471 887,469 883,465 875,465 873,467 873,471 875,473 873,475 857,479 855,477 857,473 849,467 847,459 839,459 837,461 821,455 811,455 811,461 809,463 807,461 803,461 801,467 791,475 793,479 791,481 781,481 777,477 773,481 765,479 765,481 761,483 761,487 759,489 745,489 737,495 731,493 729,501 725,503 725,511 729,505 731,507 731,511 725,517 725,521 723,523 717,519 713,525 705,531 707,535 705,537 703,537 699,531 689,531 681,525 677,525 679,527 677,539 681,541 681,547 689,553 687,559 693,555 695,557 695,565 693,567 693,571 689,573 689,577 681,581 681,587 679,589 673,589 669,593 661,593 661,599 659,601 655,601 659,607 655,617 649,623 653,647 649,655 641,661 639,665 633,665 627,659 625,645 623,643 623,637 625,635 625,627 623,623 625,621 627,609 617,601 617,595 615,595 609,603 609,609 613,615 611,619 613,633 605,641 603,641 603,645 601,647 601,657 593,663 585,663 581,659 583,655 579,649 583,645 579,649 575,647 569,651 565,647 565,639 555,631 557,633 555,635 549,631 547,633 537,633 535,631 531,631 527,625 527,621 531,617 535,621 533,623 533,627 545,619 547,615 549,615 557,623 563,619 571,619 561,613 559,595 557,595 549,585 545,575 547,571 543,567 553,559 549,553 549,549 551,547 555,547 559,541 559,533 561,531 563,515 571,509 569,505 569,497 559,499 553,491 533,497 529,501 533,515 523,527 519,527 521,533 517,537 511,539 511,545 509,547 507,543 503,549 499,549 497,547 493,549 481,547 479,549 467,537 465,539 463,537 453,537 449,529 449,535 451,537 449,539 439,535 433,535 431,533 431,527 425,525 427,533 423,537 417,533 413,537 405,533 401,537 395,533 395,527 393,527 391,525 391,521 389,521 385,525 387,527 381,533 381,537 379,539 381,541 389,541 395,545 395,555 387,565 381,569 375,569 379,585 375,591 367,593 355,585 355,579 357,577 355,573 357,571 353,567 353,563 347,559 347,551 339,543 337,535 329,527 331,523 327,521 325,511 319,507 317,497 311,493 315,491 313,483 309,481 313,475 305,469 305,465 301,465 299,463 299,459 293,451 281,451ZM245,835 247,833 249,835 247,837ZM239,827 241,825 245,831 243,833ZM1247,693 1249,689 1253,691 1249,695ZM1263,663 1267,661 1269,665 1265,667ZM569,659 575,655 581,663 579,665 573,665ZM621,611 625,609 627,613 623,615ZM523,613 529,609 533,611 529,617ZM379,579 381,577 385,577 387,579 383,583ZM1325,555 1327,557 1327,561 1323,565 1319,565 1317,561ZM495,549 499,551 499,557 503,557 505,559 509,559 511,557 515,563 519,565 517,567 511,567 511,571 515,575 515,587 517,589 517,597 519,601 515,605 515,609 511,613 507,613 511,617 511,623 509,625 505,625 503,623 503,619 495,619 491,615 497,605 487,601 481,601 477,595 475,583 473,581 473,569 477,563 489,553 493,555 491,557 495,557 495,553 493,551ZM691,549 693,547 697,549 695,551ZM687,547 689,545 693,547 691,549ZM1109,535 1111,533 1115,533 1117,535 1113,539ZM683,539 683,535 685,533 689,533 691,535 689,539 685,541ZM739,525 741,523 743,525 741,527ZM1119,519 1121,521 1121,525 1117,527 1115,523ZM729,515 733,519 733,523 731,525 725,525 723,523 727,521 727,517ZM957,483 961,481 963,485 959,487ZM859,481 861,479 863,481 861,483ZM791,481 793,479 795,481 793,483ZM889,475 893,473 895,477 891,479ZM485,443 485,447 487,445Z"/>
<path fill="#FF3333" fill-rule="evenodd" d="M243,821 247,829 249,829 245,821ZM507,551 503,553 507,553ZM1083,549 1081,557 1093,567 1097,573 1095,577 1097,579 1105,577 1107,575 1103,569 1103,563 1101,561 1099,551 1097,549 1093,549 1091,551ZM1085,555 1087,553 1089,557 1087,559ZM1045,509 1045,511 1047,511ZM755,501 753,501 753,503ZM563,499 559,499 553,503 545,497 545,503 543,505 535,505 535,507 541,511 535,521 531,521 525,529 525,537 513,547 513,555 523,563 521,567 521,571 523,573 517,577 519,595 523,603 529,599 533,603 529,607 537,611 535,617 543,611 545,613 549,613 551,617 553,617 555,607 557,605 557,597 549,603 547,601 549,593 545,589 543,581 535,575 539,573 537,565 539,563 541,565 547,559 541,559 539,557 547,551 547,547 551,539 555,537 557,533 559,513 565,509 561,503ZM549,611 553,609 555,613 551,615ZM535,599 537,597 539,599 537,601ZM541,547 543,545 545,547 543,549ZM543,537 547,535 549,539 545,541ZM881,491 883,493 883,491ZM931,497 941,497 945,501 947,499 951,499 953,503 951,497 945,493 945,487 941,497 939,495ZM887,491 887,495 891,495 895,501 899,501 903,505 915,505 915,499 899,485 895,485ZM275,463 275,467 283,473 281,477 283,481 283,499 295,509 295,513 291,517 291,521 293,525 301,531 301,535 307,541 311,549 311,553 309,555 309,563 311,567 323,581 323,585 327,585 329,587 329,595 333,601 341,607 345,605 355,607 365,619 365,623 369,621 375,627 377,633 373,639 369,633 367,633 363,639 363,643 355,649 357,657 355,659 351,659 349,657 345,661 341,661 341,665 335,669 337,671 331,675 333,679 325,689 323,709 317,713 317,719 321,721 321,725 317,727 311,723 311,729 307,731 307,735 301,741 299,739 301,745 297,749 293,749 291,751 293,755 289,759 285,759 283,761 283,775 285,777 271,789 271,791 273,791 277,787 279,789 279,793 273,799 269,799 267,797 261,801 255,809 253,809 253,813 255,815 249,819 253,825 255,825 251,821 253,817 257,817 259,821 265,821 267,819 271,823 273,815 277,813 279,815 277,817 279,823 269,835 265,829 261,829 263,831 261,835 257,831 253,831 253,835 249,839 237,837 231,841 233,845 231,849 231,899 1469,899 1469,595 1465,595 1451,585 1437,579 1431,573 1425,571 1419,565 1407,559 1393,557 1385,553 1369,551 1357,545 1349,545 1347,543 1337,541 1327,555 1321,555 1313,545 1317,541 1323,539 1315,539 1305,527 1307,521 1305,523 1299,521 1301,525 1297,529 1293,525 1293,521 1283,523 1281,525 1273,525 1271,523 1271,519 1277,513 1275,509 1277,501 1281,497 1279,495 1275,499 1269,491 1267,491 1265,495 1261,495 1261,501 1259,503 1257,501 1247,509 1231,509 1223,515 1221,513 1219,515 1219,519 1209,525 1211,523 1215,529 1209,539 1201,543 1203,547 1195,551 1191,557 1189,555 1185,561 1177,567 1179,569 1175,573 1171,573 1167,577 1161,577 1147,587 1143,587 1127,597 1125,601 1121,601 1111,611 1107,611 1099,615 1089,615 1085,613 1079,605 1079,595 1081,593 1081,589 1073,579 1077,577 1069,565 1073,559 1071,557 1075,551 1075,545 1063,539 1063,531 1061,529 1065,527 1069,531 1067,533 1069,537 1075,537 1079,531 1075,531 1073,527 1069,527 1061,523 1059,525 1049,525 1047,523 1027,525 1023,519 1023,515 1025,513 1021,511 1025,505 1027,507 1025,503 1017,507 1013,507 1011,505 1007,507 1005,505 1007,501 1001,497 991,495 985,501 981,497 979,501 973,501 969,505 967,503 961,503 955,507 959,509 965,507 969,511 965,517 969,521 971,519 975,523 975,525 973,527 969,527 969,529 977,535 975,537 969,537 965,541 961,541 957,547 951,547 943,543 935,535 935,533 929,533 925,529 925,527 929,525 923,517 925,515 923,511 929,507 927,505 921,505 919,507 921,509 917,513 909,509 907,511 907,515 901,521 895,521 883,507 881,509 877,509 875,507 875,503 873,501 875,497 869,501 861,495 853,495 849,489 839,485 839,481 835,479 835,475 829,477 825,469 819,465 821,477 817,481 813,481 811,479 811,471 809,473 811,483 805,491 805,495 803,497 803,503 805,505 801,511 797,511 795,509 795,501 793,499 795,495 789,495 791,503 795,507 793,511 789,511 783,503 785,501 781,501 779,503 777,499 773,499 769,503 765,499 761,499 759,501 759,505 755,509 755,513 759,517 759,525 757,527 759,525 765,525 767,527 761,533 757,531 757,535 753,539 735,541 733,545 725,545 717,541 719,543 715,545 709,553 707,553 707,559 709,561 703,565 707,569 705,571 699,571 699,575 701,577 701,581 699,583 701,585 699,587 695,585 685,587 685,591 683,593 665,595 667,599 661,605 657,619 651,623 651,629 655,639 655,647 649,653 649,657 639,667 633,667 625,659 621,617 611,607 617,615 617,619 613,623 617,629 617,633 605,643 603,647 603,657 593,665 573,669 569,665 569,661 563,657 563,653 565,651 571,653 571,651 565,647 565,641 561,643 557,641 559,635 557,635 555,637 555,641 551,643 545,639 541,639 539,635 529,633 523,625 523,621 525,619 517,609 511,613 507,613 511,617 511,623 509,625 505,625 503,623 503,619 495,619 491,615 495,609 493,605 481,603 473,595 473,593 469,593 465,589 461,569 465,567 465,563 471,557 477,557 477,553 471,549 467,541 461,541 459,539 457,543 453,539 451,541 445,541 443,539 439,543 435,541 431,547 427,541 423,541 417,537 417,539 421,539 423,541 421,543 421,547 417,549 411,541 413,539 409,541 405,537 397,541 395,537 387,533 385,529 383,531 383,539 393,539 397,543 397,553 389,565 377,571 379,589 375,593 369,595 357,589 351,583 355,577 351,571 351,565 345,561 345,551 337,543 335,537 321,525 321,523 325,521 323,513 319,513 317,515 313,515 311,513 311,505 309,503 313,499 309,495 311,487 307,485 307,477 301,473 303,469 295,463 295,457 287,451 281,453ZM235,865 237,863 239,867 237,869ZM245,855 249,853 251,857 247,859ZM231,849 233,847 237,849 235,851ZM247,847 251,845 253,849 251,851ZM285,773 287,771 291,773 289,775ZM305,761 307,765 303,767 301,765ZM327,737 329,735 331,737 329,739ZM311,733 313,731 315,733 313,735ZM325,727 327,725 329,727 327,729ZM327,723 331,721 333,725 329,727ZM351,709 353,713 349,715 347,713ZM335,709 337,707 339,709 337,711ZM337,699 339,701 339,705 337,707 333,703ZM329,697 331,695 333,697 331,699ZM349,693 353,699 351,701 351,705 347,709 343,705 343,701ZM361,693 363,691 365,695 363,697ZM1247,693 1249,689 1253,691 1249,695ZM373,681 375,679 379,681 377,683ZM341,679 343,677 345,679 343,681ZM349,671 351,669 355,669 357,673 355,675 351,675ZM389,669 391,667 393,669 391,671ZM1263,663 1267,661 1269,665 1265,667ZM375,661 379,665 375,671 371,671 367,667ZM391,661 393,659 395,661 393,663ZM357,661 361,659 363,663 359,665ZM361,659 363,657 365,659 363,661ZM385,647 387,649 387,653 391,657 391,661 387,665 385,663 385,659 381,657 381,653ZM379,643 381,641 385,643 383,645ZM391,639 395,637 397,641 393,643ZM385,631 387,629 389,631 387,633ZM387,629 389,627 391,629 389,631ZM673,601 675,599 677,601 675,603ZM379,579 381,577 385,577 387,579 383,583ZM457,563 459,561 461,563 459,565ZM1325,555 1327,557 1327,561 1323,565 1319,565 1317,561ZM887,555 889,553 891,557 889,559ZM463,549 467,555 463,559 459,555ZM311,549 313,547 315,549 313,551ZM461,545 463,543 465,545 463,547ZM963,543 965,541 969,543 967,545ZM455,541 457,543 457,547 453,549 449,545ZM439,543 441,541 445,545 441,547ZM403,541 407,549 405,551 399,547ZM1067,529 1069,527 1073,529 1071,531ZM823,525 827,523 829,527 825,529ZM783,519 785,517 787,519 785,521ZM763,517 765,515 767,519 765,521ZM967,507 969,505 971,509 969,511ZM769,505 771,503 773,507 771,509ZM1265,501 1269,507 1267,511 1263,509 1263,503ZM1275,499 1277,503 1273,505 1271,503ZM1267,495 1269,497 1269,501 1267,503 1265,501 1265,497ZM811,487 813,489 813,493 811,495 809,493 809,489Z"/>
<path fill="#F46666" fill-rule="evenodd" d="M245,847 243,847 241,851 245,851ZM279,809 271,807 269,815 271,815 273,811ZM281,785 285,783 281,783ZM303,771 293,775 291,779 295,777 299,779ZM317,763 313,765 317,765ZM335,737 335,741 337,741ZM345,719 341,719 339,723 343,723ZM325,713 331,717 329,713ZM335,683 333,685 337,691 339,691 339,689 335,687ZM355,679 349,679 343,685 351,689 349,681 351,679 355,681ZM341,669 341,671 343,671 343,669ZM351,661 355,667 359,667ZM367,659 367,661 369,661 369,659ZM373,645 373,649 379,653 379,647ZM533,607 537,605 533,605ZM709,597 707,597 705,601 707,601ZM695,595 691,593 691,597 689,599 683,597 683,599 685,597 687,601 691,601 691,597ZM539,593 543,601 545,601 545,597 547,595 545,593 543,595ZM521,589 521,593 527,589 529,591 533,591 531,587 527,589 523,585ZM521,577 521,579 527,579 527,577ZM523,569 525,571 527,569ZM725,561 723,561 725,565 723,567 719,567 721,569 725,569 727,567 725,565ZM231,887 231,899 1469,899 1469,597 1463,595 1449,585 1435,579 1413,563 1405,563 1399,559 1389,559 1383,555 1369,553 1361,549 1345,547 1339,543 1335,543 1327,555 1321,555 1317,551 1315,557 1307,561 1303,555 1303,551 1297,543 1297,539 1293,539 1287,543 1285,539 1277,537 1275,539 1261,539 1255,545 1251,543 1249,545 1243,545 1247,551 1247,555 1245,557 1241,557 1235,551 1235,555 1241,559 1241,569 1237,573 1227,571 1227,573 1223,575 1221,573 1223,569 1221,567 1215,571 1203,571 1199,575 1189,573 1187,575 1183,575 1181,577 1181,581 1177,585 1175,581 1169,585 1163,585 1159,589 1153,589 1147,593 1143,591 1135,595 1135,599 1131,603 1125,605 1115,613 1103,619 1097,619 1095,617 1083,615 1077,609 1075,603 1071,603 1069,605 1067,603 1069,599 1067,593 1063,591 1063,587 1059,585 1055,579 1053,581 1049,579 1049,575 1045,571 1045,567 1039,567 1037,565 1031,569 1029,567 1031,565 1029,567 1021,565 1019,563 1021,559 1025,557 1025,547 1019,543 1019,545 1011,551 1007,549 1011,543 1005,543 1005,547 999,553 997,549 993,547 983,549 981,553 975,551 971,553 969,557 963,559 955,565 947,559 945,561 941,559 931,559 927,563 921,563 915,571 911,571 903,577 899,577 897,575 889,575 885,573 877,563 871,563 869,561 869,553 867,551 869,549 867,545 869,537 865,531 863,535 861,533 857,533 853,539 849,539 855,543 851,547 849,547 843,539 839,539 831,545 829,541 821,543 815,535 809,535 807,533 805,523 801,523 797,527 791,527 791,537 789,539 785,537 781,543 773,547 769,547 767,549 759,547 757,551 749,547 745,547 741,551 737,549 729,555 731,559 731,569 727,573 723,573 719,579 705,581 703,583 705,585 703,591 711,585 715,589 711,593 715,597 713,603 707,607 703,607 703,609 707,611 707,615 705,617 701,615 699,619 685,617 681,613 677,613 675,611 675,607 671,603 663,609 665,611 663,613 663,619 655,623 657,627 653,631 659,637 657,647 653,653 653,657 645,665 639,669 635,669 623,659 621,629 621,633 617,637 613,637 603,651 605,659 597,663 593,669 589,667 585,673 581,669 571,671 567,663 553,653 561,647 555,647 545,641 533,639 531,635 525,637 523,635 523,629 519,625 517,615 507,613 511,617 511,623 509,625 505,625 503,623 503,619 495,619 491,615 491,611 485,605 481,605 475,601 471,595 465,595 461,585 455,581 459,575 455,569 455,565 451,557 447,553 449,549 447,553 443,549 439,549 437,547 429,553 423,549 415,553 411,553 409,551 407,553 403,553 399,551 393,563 379,573 379,577 385,577 387,579 383,583 381,581 381,591 377,595 369,597 349,585 349,567 345,565 341,551 337,547 331,547 323,537 311,529 317,525 317,523 313,519 309,521 305,517 297,517 301,521 299,525 301,527 303,523 307,527 307,531 305,533 315,535 319,541 319,545 321,547 317,549 321,553 321,557 315,565 319,565 323,569 323,579 333,587 331,589 331,593 339,603 349,603 361,609 365,613 365,617 375,621 379,625 379,633 383,625 397,623 401,627 403,635 399,639 397,645 391,649 391,651 395,651 397,653 399,663 391,673 387,673 385,675 383,673 381,677 377,675 377,677 383,681 379,687 373,683 369,683 365,677 363,679 365,683 361,687 359,685 359,689 365,689 371,693 373,697 369,703 363,707 359,703 355,705 355,709 359,707 363,711 357,719 357,723 349,727 347,731 341,735 343,741 337,745 335,749 331,749 331,757 321,767 313,779 305,787 301,787 301,795 297,799 293,789 289,787 283,789 283,793 285,793 287,797 279,801 283,801 287,805 283,811 287,815 281,819 275,833 257,849 257,853 247,863 243,863 243,873 235,877 237,881ZM291,801 293,799 295,801 293,803ZM287,791 289,789 291,791 289,793ZM1247,693 1249,689 1253,691 1249,695ZM579,681 581,679 585,679 587,681 585,683 581,683ZM1263,663 1267,661 1269,665 1265,667ZM665,621 667,619 669,621 667,623ZM667,613 669,611 673,615 669,617ZM713,587 715,585 719,587 717,589ZM1045,573 1047,575 1043,581 1039,577ZM1249,565 1251,567 1251,573 1245,577 1241,571ZM1325,555 1327,557 1327,561 1323,565 1319,565 1317,561ZM1245,557 1249,555 1253,561 1247,565 1245,563ZM437,553 439,551 441,553 439,555ZM861,549 863,547 865,549 863,551ZM785,545 787,543 791,549 787,551 785,549ZM799,539 803,537 807,541 803,545ZM793,539 795,537 797,539 795,541ZM857,515 855,517 857,517ZM555,515 551,519 551,527 549,529 541,523 531,529 533,531 533,535 527,539 527,541 517,551 515,551 515,553 519,555 519,553 523,551 529,543 535,543 537,545 537,551 535,553 527,553 529,555 537,553 539,551 537,549 537,545 539,543 537,541 533,541 531,537 547,529 553,533ZM845,513 845,515 851,517ZM561,507 559,505 543,507 543,513 545,509ZM845,503 849,507 847,503ZM285,453 277,465 277,467 283,463 285,465 285,477 287,479 285,485 289,491 285,499 291,495 295,501 297,509 299,507 307,507 307,503 303,501 303,495 307,491 305,487 305,479 301,479 291,473 295,471 291,465 293,463 293,459 289,453Z"/>
<path fill="#F49999" fill-rule="evenodd" d="M681,625 685,623 681,623ZM1023,619 1023,621 1025,621 1025,619ZM1063,613 1065,615 1065,613ZM1035,613 1035,615 1037,615 1037,613ZM763,579 759,579 757,583ZM743,575 745,577 749,575ZM755,569 755,571 757,571 757,569ZM1323,555 1321,555 1319,559ZM327,551 319,563 325,567 325,577 333,583 335,593 339,601 355,603 359,607 361,595 355,589 349,589 347,587 347,583 345,581 347,575 341,571 341,563 343,559 335,549 333,553ZM1469,599 1463,597 1449,587 1431,579 1411,565 1409,567 1405,567 1403,565 1397,565 1393,561 1387,563 1383,559 1377,559 1365,553 1357,553 1349,549 1333,547 1327,555 1329,557 1327,561 1331,559 1333,561 1333,567 1325,573 1325,577 1321,581 1317,577 1317,571 1313,571 1305,579 1301,579 1293,573 1295,571 1295,561 1297,559 1297,553 1295,551 1287,557 1283,557 1281,559 1275,555 1273,557 1275,561 1273,563 1271,563 1269,559 1265,559 1271,565 1271,569 1255,583 1251,581 1247,585 1243,585 1241,587 1235,587 1233,585 1231,589 1225,585 1221,587 1213,587 1205,583 1201,585 1197,583 1187,591 1177,593 1179,595 1177,599 1175,599 1173,595 1171,595 1171,599 1169,601 1165,599 1163,601 1163,607 1159,611 1155,603 1151,603 1143,599 1141,601 1141,607 1137,611 1133,609 1127,613 1123,613 1107,625 1103,625 1101,623 1091,625 1079,615 1069,619 1059,619 1041,605 1045,613 1039,619 1033,619 1031,621 1031,627 1027,631 1023,631 1015,621 1015,617 1017,615 1013,609 1015,597 1011,597 1009,595 1009,589 1005,589 997,579 1001,575 995,569 987,569 983,565 979,565 973,569 969,575 965,575 963,577 961,575 959,577 957,575 953,577 949,575 947,577 943,575 935,577 931,573 925,577 921,577 919,575 905,589 897,591 895,589 895,585 887,579 879,579 877,577 871,577 867,573 861,573 859,571 859,565 853,563 849,559 845,559 843,561 841,559 837,559 835,563 827,563 823,561 817,565 805,565 803,563 795,565 793,561 783,561 775,565 771,559 767,561 767,565 763,571 767,567 771,569 767,587 761,593 757,591 757,587 753,587 751,585 749,587 745,585 737,587 739,593 735,595 735,603 731,607 727,607 717,621 711,623 711,627 713,629 713,633 711,635 707,635 705,633 707,629 699,631 697,627 691,631 689,629 685,631 685,635 683,637 679,637 677,633 673,633 671,631 673,629 677,629 673,625 669,627 665,627 663,625 657,631 661,635 661,645 657,649 655,657 649,665 643,669 643,673 641,675 637,671 625,665 621,655 621,645 617,641 613,641 605,651 607,655 607,667 603,671 601,669 603,665 599,663 597,665 599,667 597,669 597,675 595,677 593,675 589,677 593,683 589,687 585,685 581,687 575,683 575,679 579,673 571,675 555,657 555,659 549,663 547,661 547,651 549,649 549,645 525,639 521,635 521,631 515,627 515,617 513,615 509,615 511,617 511,623 509,625 505,625 503,623 503,619 495,619 489,611 485,611 483,613 477,609 477,605 473,605 469,597 467,599 461,591 455,587 455,583 453,581 455,571 449,559 449,561 445,563 443,559 437,559 433,555 425,559 421,559 409,553 407,555 403,555 401,553 395,559 391,567 381,575 381,577 385,577 387,579 383,583 383,593 377,597 375,601 375,609 373,611 371,609 367,609 367,615 373,619 377,617 381,623 379,617 385,613 387,615 385,623 397,621 403,627 405,635 401,641 403,643 403,649 401,651 405,655 405,659 399,665 395,673 385,683 383,691 369,705 359,723 349,731 349,737 345,739 327,765 307,787 303,797 287,811 287,817 281,821 281,825 275,835 261,849 259,855 245,869 245,873 239,877 239,881 235,885 235,889 231,891 231,899 1469,899ZM585,767 587,765 591,771 587,773 585,771ZM577,765 583,769 583,777 579,781 573,777 577,773 575,771 575,767ZM575,759 579,757 581,761 577,763ZM579,749 581,747 585,747 589,753 585,757 581,757 579,755ZM575,743 577,741 581,745 577,747ZM1247,693 1249,689 1253,691 1249,695ZM1263,663 1267,661 1269,665 1265,667ZM687,633 689,631 691,633 689,635ZM661,631 663,629 667,631 665,633ZM1169,601 1171,599 1173,601 1171,603ZM759,599 765,589 769,589 771,591 769,593 769,597 769,593 771,591 779,589 781,591 779,595 785,603 791,603 793,601 795,603 795,609 791,613 787,613 783,617 781,615 779,617 773,613 769,613 765,605 761,605 759,603ZM825,579 827,577 829,579 827,581ZM817,575 825,587 823,591 827,597 825,603 833,609 829,613 829,617 827,619 813,619 803,613 803,605 807,601 805,599 805,593 803,593 801,589ZM857,573 859,571 861,573 859,575ZM775,571 777,569 779,571 777,573ZM819,567 821,563 825,565 821,569ZM775,565 777,563 781,565 779,567ZM299,491 297,493 299,497 301,497 301,491ZM295,485 291,485 289,489 295,487Z"/>
<path fill="#F4CCCC" fill-rule="evenodd" d="M595,681 595,685 593,687 595,685ZM709,639 707,639 707,641ZM369,613 369,615 373,617ZM1467,603 1467,605 1469,605 1469,603ZM347,593 347,601 353,601 353,599 357,597 355,593 353,595ZM865,591 863,593 865,597ZM839,577 835,581 833,597 835,597 837,601 843,601 847,605 851,605 849,595 853,593 853,589 847,585 847,581 849,579 847,577ZM335,573 333,579 337,585 345,587 345,585 341,583 339,575ZM231,893 231,899 1469,899 1469,653 1465,653 1461,645 1455,645 1453,643 1453,639 1449,631 1449,623 1445,621 1445,615 1453,611 1453,609 1445,607 1441,603 1445,597 1453,601 1457,599 1457,595 1451,593 1441,585 1435,585 1431,581 1429,583 1425,581 1421,585 1415,581 1403,579 1401,577 1395,577 1391,581 1387,581 1385,579 1375,579 1371,581 1361,573 1359,573 1355,579 1349,579 1345,575 1345,569 1341,569 1343,573 1343,581 1339,585 1337,583 1333,583 1331,585 1333,595 1337,599 1337,605 1341,611 1339,615 1333,615 1329,611 1321,613 1319,609 1315,611 1313,609 1313,605 1311,605 1309,609 1303,611 1299,617 1293,613 1299,607 1299,603 1297,601 1299,599 1305,599 1301,593 1303,591 1311,591 1317,587 1311,583 1307,583 1299,589 1301,593 1295,601 1289,601 1285,597 1287,587 1277,581 1269,585 1257,587 1255,589 1257,591 1255,595 1243,605 1229,605 1227,607 1223,601 1217,597 1213,599 1193,597 1193,601 1191,603 1187,599 1177,609 1175,609 1169,617 1161,617 1159,619 1157,617 1153,617 1149,621 1145,621 1143,617 1137,617 1135,619 1131,619 1127,623 1123,623 1111,631 1107,629 1081,629 1073,623 1073,627 1069,635 1063,635 1061,633 1053,635 1047,631 1047,633 1039,641 1033,637 1023,643 1017,635 1011,631 1011,623 1005,617 1007,615 1003,609 1003,605 993,597 991,599 989,597 989,591 979,591 977,589 979,585 975,585 971,589 965,589 963,591 961,589 957,589 955,591 953,589 949,591 945,597 941,599 933,599 931,601 927,599 915,599 913,601 907,597 903,603 907,601 911,605 903,615 901,615 897,609 895,611 891,607 893,597 887,593 885,595 881,595 877,591 877,587 873,585 869,591 873,597 869,601 873,607 871,611 873,615 877,617 877,621 879,623 873,629 869,629 867,631 859,625 859,623 863,621 859,621 857,619 855,619 853,623 849,619 845,625 841,625 839,623 841,619 835,625 827,625 829,627 823,631 815,629 809,623 807,623 805,627 795,625 789,629 787,625 781,621 775,625 765,619 761,621 753,615 747,613 745,611 745,607 741,609 737,607 739,615 731,621 735,621 737,625 731,631 727,631 725,637 721,641 715,641 713,643 717,647 715,649 711,649 707,645 705,649 699,653 695,649 691,651 687,647 687,643 685,641 681,643 673,643 665,647 665,651 661,653 661,659 659,661 655,661 651,667 645,671 645,675 643,677 639,677 637,673 633,673 631,671 627,673 625,671 619,655 619,645 615,643 607,651 613,667 609,671 611,673 611,677 605,683 605,691 603,693 597,691 599,693 597,695 593,695 591,693 583,695 575,691 575,687 571,685 573,679 569,679 563,673 565,671 563,669 557,669 555,673 551,673 549,671 539,671 537,669 537,665 545,657 545,649 537,643 525,641 517,633 517,631 513,629 511,625 511,621 513,619 511,617 511,623 509,625 505,625 503,623 503,619 489,617 487,613 485,615 481,615 473,607 469,607 467,605 467,601 463,601 457,593 451,593 449,591 453,587 453,583 449,579 451,573 443,569 445,567 443,563 429,563 425,561 423,565 411,555 407,557 401,555 395,561 391,569 391,575 389,577 387,573 385,573 391,583 391,591 389,593 385,593 387,597 383,601 383,605 385,607 385,611 397,619 407,629 407,633 409,635 405,637 405,651 407,653 407,659 385,687 385,691 369,707 369,711 351,731 351,737 345,741 345,743 337,751 335,757 309,787 303,799 295,807 287,819 283,821 283,825 277,835 265,847 261,855 247,869 247,873 237,885 237,889ZM539,761 541,763 541,773 543,775 543,779 541,781 535,777 535,769 531,767 533,763 537,763ZM545,759 547,757 549,759 547,761ZM1407,757 1409,755 1411,757 1409,759ZM1403,751 1405,749 1409,755 1407,757ZM575,739 595,751 601,759 595,775 589,781 585,789 577,793 573,791 573,787 569,779 569,763 571,761 569,755 571,753 571,743ZM1409,735 1411,735 1415,741 1423,741 1425,743 1425,753 1427,755 1423,759 1419,759 1417,755 1421,753 1405,741ZM1421,721 1425,725 1423,727 1425,729 1425,733 1429,737 1429,741 1427,743 1419,737 1419,733 1417,731 1419,729 1417,725ZM1411,713 1413,711 1415,715 1413,717ZM1307,709 1311,715 1301,723 1297,723 1295,721 1299,717 1297,715 1297,711 1301,707 1303,711ZM1301,701 1303,699 1307,703 1303,705ZM1419,691 1421,689 1423,693 1421,695ZM1247,693 1249,689 1253,691 1249,695ZM619,691 621,689 625,689 627,693 629,691 631,695 625,699ZM603,693 611,689 613,691 613,697 609,699ZM1291,683 1297,687 1297,691 1301,695 1299,699 1291,695 1291,691 1289,689 1289,685ZM623,675 627,681 619,689 615,687 617,685 611,689 609,687 609,683 615,677ZM1285,675 1289,673 1291,677 1289,679ZM1263,663 1267,661 1269,665 1265,667ZM1409,655 1411,653 1415,655 1413,657ZM1381,653 1385,649 1389,651 1387,655 1383,655ZM1451,647 1453,645 1455,647 1453,649ZM1421,647 1425,645 1427,649 1423,651ZM1069,635 1071,633 1075,637 1071,639ZM1383,627 1387,633 1383,635 1381,639 1379,637 1379,629ZM1365,629 1367,627 1369,629 1367,631ZM1397,625 1399,623 1401,625 1399,627ZM1323,623 1325,621 1329,623 1327,625ZM1317,619 1319,617 1321,619 1319,621ZM1377,613 1379,615 1379,619 1377,623 1373,625 1369,621 1373,615ZM1345,615 1347,613 1349,615 1347,617ZM887,615 889,613 895,613 897,617 901,619 895,623 891,621ZM1381,613 1385,611 1387,615 1383,617ZM1377,607 1379,605 1381,607 1379,609ZM1287,605 1291,607 1291,613 1289,615 1285,613 1285,607ZM1395,605 1397,603 1399,605 1397,607ZM1289,603 1293,601 1295,605 1291,607ZM981,597 989,607 991,615 989,617 985,617 981,623 977,623 975,625 971,617 967,619 965,617 967,613 967,605 969,603 981,603 977,601 977,599ZM327,555 329,557 327,561 331,569 335,569 335,563 331,557Z"/>
<path fill="#FF7F1A" fill-rule="evenodd" d="M539,783 541,787 543,785ZM1449,779 1457,777 1449,777ZM1469,765 1467,769 1469,769ZM1455,763 1453,763 1451,767 1455,765ZM1339,743 1337,745 1339,745ZM1315,739 1315,743 1319,743 1321,741 1325,743ZM1445,717 1445,719 1447,719ZM1457,715 1457,717 1459,717ZM1355,711 1353,713 1359,717 1357,719 1361,719 1359,715 1363,711 1361,713 1357,713ZM1447,705 1445,713 1447,711 1451,711 1453,713 1451,705ZM1447,699 1447,701 1449,701 1449,699ZM1325,687 1337,697 1335,699 1329,699 1331,711 1335,711 1337,715 1343,715 1345,717 1345,711 1351,705 1357,707 1359,705 1359,701 1363,699 1361,695 1355,699 1351,695 1351,691 1347,691 1345,695 1337,689 1333,689 1331,691ZM1339,703 1341,705 1335,709 1333,707ZM1345,697 1349,701 1349,705 1347,707 1343,705 1343,699ZM1433,685 1435,687 1435,693 1439,687ZM1339,681 1335,683 1339,683ZM1367,667 1365,671 1361,671 1365,675 1369,675 1371,677 1369,679 1365,679 1365,683 1363,685 1357,685 1355,683 1353,685 1357,685 1359,689 1367,687 1373,693 1373,697 1369,705 1371,709 1369,713 1373,715 1371,707 1379,697 1377,695 1381,693 1377,687 1371,689 1367,685 1375,679 1375,677 1367,671 1369,669 1369,667ZM1355,655 1355,657 1357,657 1357,655ZM617,647 613,651 609,651 615,657 615,667 617,669 617,673 621,673 619,669 619,657 615,655 617,653ZM1403,635 1403,637 1405,637ZM929,623 927,625 933,629ZM925,611 923,613 925,617 931,619ZM231,895 231,899 1469,899 1469,803 1463,799 1453,799 1441,793 1435,793 1433,791 1429,791 1425,787 1419,787 1409,781 1405,781 1397,777 1393,769 1391,773 1381,773 1375,769 1361,767 1357,763 1349,763 1345,759 1319,751 1313,747 1311,743 1307,743 1297,737 1293,729 1287,723 1287,711 1285,707 1275,699 1275,695 1267,685 1267,677 1263,673 1265,669 1263,659 1267,655 1269,641 1273,637 1271,633 1275,629 1273,627 1273,619 1271,615 1275,613 1277,603 1275,605 1269,605 1257,617 1255,615 1251,619 1243,619 1241,621 1237,621 1235,619 1231,623 1227,621 1209,621 1207,619 1207,609 1205,607 1195,607 1187,611 1187,617 1183,621 1175,619 1177,621 1167,629 1163,629 1161,631 1151,629 1147,631 1139,627 1131,633 1123,633 1123,639 1119,643 1119,647 1115,649 1111,655 1107,657 1095,657 1085,663 1083,663 1079,657 1073,661 1071,659 1071,653 1067,657 1063,657 1061,653 1057,651 1057,647 1043,645 1039,649 1033,649 1033,661 1031,663 1021,661 1015,665 1011,665 1009,663 1011,643 999,635 1001,631 1001,627 999,625 995,629 991,625 991,629 989,631 989,633 993,629 997,631 995,641 993,643 989,643 987,639 985,639 987,643 983,649 977,653 971,649 975,643 971,643 967,635 963,637 959,633 959,629 957,631 951,625 947,627 945,637 943,639 939,637 935,641 931,641 923,645 917,645 911,641 901,641 899,643 893,639 893,635 887,643 883,643 885,647 883,649 877,645 863,647 851,639 849,639 849,641 853,645 851,647 845,647 837,637 829,643 827,641 829,639 829,635 827,635 827,639 823,643 817,635 807,635 803,639 801,639 799,635 795,635 793,637 783,637 779,635 777,637 775,635 775,629 755,625 749,631 753,635 751,643 747,647 745,645 739,651 733,649 735,655 731,659 729,659 727,657 727,653 725,653 709,665 705,665 703,663 691,665 689,663 689,659 691,657 695,659 697,655 693,657 689,655 681,657 677,653 675,655 671,655 669,653 665,657 665,661 653,669 653,673 649,679 645,681 641,679 641,689 643,693 639,699 639,705 637,707 631,703 621,703 617,699 615,699 617,703 615,705 611,703 605,707 603,703 599,701 597,703 593,703 587,697 589,695 583,699 569,689 561,673 557,673 551,681 545,681 541,687 537,687 535,685 537,675 533,673 533,663 539,659 539,653 543,651 539,647 529,643 523,643 519,637 511,633 509,625 505,625 503,621 495,621 485,617 479,619 477,617 477,613 473,613 467,609 465,605 455,599 447,591 443,581 447,575 441,571 439,567 435,567 433,565 423,567 419,565 417,561 413,561 409,557 407,559 401,557 393,567 393,571 395,573 395,577 393,579 393,589 395,591 393,595 395,599 393,601 389,601 389,607 387,609 399,611 403,615 403,621 409,627 409,633 411,635 407,639 407,661 391,681 385,693 375,703 373,703 369,713 353,731 353,735 345,743 327,769 309,789 303,801 285,821 279,833 271,841 261,857 251,867 243,881 239,883 237,891ZM531,887 533,885 535,887 533,889ZM531,871 533,869 535,871 533,873ZM533,849 535,847 537,849 535,851ZM535,817 539,819 541,829 547,833 547,843 551,845 551,849 549,851 549,861 545,865 541,865 543,867 543,871 537,877 535,875 535,869 539,859 533,861 531,857 537,853 535,851 537,849 541,851 543,849 539,845 543,839 541,835 535,837 531,833 533,831 533,823 531,821ZM543,815 547,817 547,823 545,825 541,825 539,823ZM551,779 553,777 555,779 553,781ZM557,759 559,757 561,759 559,761ZM575,737 587,743 597,751 601,751 607,759 601,763 601,767 585,793 581,795 581,801 579,803 573,803 569,799 565,789 569,783 569,779 565,775 567,773 565,769 565,765 567,763 565,755 567,753 569,741ZM535,723 537,727 543,727 549,731 547,735 549,747 551,749 549,751 549,755 553,757 549,763 553,769 549,777 549,781 551,783 547,787 547,791 549,793 549,809 547,811 541,811 535,815 533,813 533,805 535,803 541,807 543,805 543,801 533,793 535,789 531,783 533,777 529,769 529,763 531,761 535,761 531,755 531,751 535,745 533,747 529,745 529,743 533,741 537,735 533,731 533,725ZM619,713 621,709 625,711 621,715ZM1247,693 1249,689 1253,691 1249,695ZM1035,671 1037,669 1039,671 1037,673ZM875,671 877,669 879,671 877,673ZM827,667 831,659 837,659 839,661 835,667 831,669ZM715,661 717,659 723,659 725,661 723,663 717,663ZM833,647 835,645 837,647 835,649ZM967,643 969,641 971,643 969,645ZM967,637 969,641 965,643 963,641ZM947,633 949,631 951,633 949,635ZM751,631 753,629 755,631 753,633ZM1179,629 1181,627 1183,631 1181,633ZM393,601 395,599 399,601 397,603Z"/>
<path fill="#FF9433" fill-rule="evenodd" d="M563,781 567,783 567,781ZM563,761 561,765 553,765 561,769 563,767ZM647,705 643,705 639,711 641,709 645,709ZM643,699 645,701 645,699ZM1069,675 1069,677 1073,677ZM231,895 231,899 1469,899 1469,805 1463,805 1461,803 1445,799 1439,795 1433,795 1423,789 1417,789 1407,783 1397,781 1391,777 1385,777 1383,775 1373,773 1367,769 1355,767 1349,763 1333,759 1323,753 1319,753 1311,749 1307,745 1295,739 1289,733 1285,733 1277,725 1277,721 1269,721 1267,719 1273,709 1271,705 1263,707 1267,717 1263,721 1259,717 1259,711 1257,709 1251,713 1243,703 1249,695 1247,691 1251,687 1253,679 1259,673 1259,659 1265,645 1265,633 1263,631 1253,633 1249,639 1249,643 1245,647 1235,643 1225,643 1219,637 1217,637 1219,641 1219,645 1217,647 1211,643 1201,647 1199,645 1191,645 1187,641 1181,647 1175,643 1175,649 1171,653 1163,653 1159,651 1161,655 1159,659 1151,651 1151,647 1147,645 1141,647 1139,643 1137,651 1127,655 1129,659 1125,667 1125,681 1123,683 1113,681 1109,677 1105,677 1103,675 1101,677 1097,675 1097,679 1093,683 1085,679 1079,685 1077,683 1069,683 1067,685 1065,683 1065,679 1053,681 1051,677 1051,681 1047,685 1041,681 1039,683 1041,687 1037,691 1035,687 1029,683 1027,685 1017,685 1011,681 1011,683 1003,689 995,683 991,683 987,679 989,677 987,675 983,677 983,681 981,683 973,675 971,675 967,679 961,679 959,681 955,679 951,683 949,679 945,677 945,681 943,683 939,681 935,681 933,683 929,679 927,681 919,681 917,677 915,677 913,681 909,679 899,679 895,683 891,681 887,687 881,685 873,677 871,677 865,681 861,681 857,685 851,681 849,685 841,689 829,689 825,687 813,695 811,691 815,689 811,689 807,685 807,679 805,677 803,679 795,671 795,663 797,661 793,655 785,649 787,651 787,657 783,661 779,655 775,655 773,659 767,659 751,665 743,673 747,681 755,687 749,695 751,697 751,701 749,703 737,705 733,703 729,697 725,697 723,695 723,691 725,689 717,679 717,681 711,685 707,685 703,681 705,669 703,669 699,677 689,675 681,681 679,677 673,673 675,669 671,665 663,665 655,671 653,679 649,685 645,687 647,691 651,685 657,689 657,693 655,695 651,695 651,697 653,699 653,705 655,703 659,707 649,717 649,727 647,729 643,729 639,723 639,719 635,721 631,719 633,709 631,709 623,719 617,719 615,715 611,713 611,709 603,711 601,709 601,705 599,705 601,707 599,709 589,703 583,707 573,695 569,695 567,691 563,693 559,691 559,689 561,687 565,687 565,685 557,679 547,687 547,693 545,695 541,695 539,691 537,691 529,683 527,673 523,669 529,665 527,661 529,659 533,659 537,655 533,647 529,645 521,645 517,639 511,639 507,635 505,627 499,623 495,623 491,627 487,621 485,621 483,623 485,627 483,629 479,627 477,623 473,621 473,617 469,611 459,613 453,601 449,603 445,599 447,593 439,583 437,585 435,583 435,579 443,575 437,569 423,569 407,559 401,559 395,565 395,571 397,573 395,587 399,589 397,593 403,599 397,607 405,613 405,617 411,625 411,633 413,635 409,641 409,661 407,665 403,667 379,701 373,705 373,709 365,717 363,723 355,731 353,737 331,763 327,771 315,783 307,797 287,821 279,835 263,853 261,859 249,871 247,877 239,885 239,889ZM671,723 673,721 675,723 673,725ZM531,719 535,719 551,731 551,735 549,737 553,739 553,743 555,745 555,749 553,751 555,757 559,753 563,753 565,751 563,749 561,751 557,749 557,747 565,739 569,737 579,737 589,745 605,751 609,761 603,765 603,769 587,791 583,801 577,805 575,809 571,809 567,805 565,791 559,787 557,783 549,789 551,791 551,799 553,801 551,803 551,809 547,813 549,815 551,813 555,817 553,821 557,825 551,833 553,837 549,839 549,841 553,843 555,849 551,851 553,853 551,861 545,869 543,877 537,887 537,893 533,897 529,891 529,883 531,881 529,869 533,865 529,861 529,857 533,851 529,847 529,831 531,827 527,823 531,817 531,807 529,805 529,801 531,799 529,779 531,777 529,775 529,771 525,767 529,761 529,757 527,755 529,749 525,743 533,735 531,733 531,727 527,723ZM1255,715 1257,713 1259,715 1257,717ZM1011,701 1013,699 1015,701 1013,703ZM1007,691 1009,689 1013,689 1015,693 1011,697ZM715,689 717,687 719,689 717,691ZM1083,685 1085,683 1089,685 1087,687ZM913,681 915,679 917,681 915,683ZM783,679 787,683 787,687 783,691 779,699 779,703 777,705 767,703 763,697 767,695 775,683 779,683ZM781,667 783,665 785,667 783,669ZM1141,651 1143,649 1147,651 1145,653ZM485,629 487,627 489,629 487,631Z"/>
<path fill="#FFAA50" fill-rule="evenodd" d="M557,823 559,825 561,823ZM555,805 553,805 553,809 551,811 555,809ZM563,793 557,789 555,791 555,797ZM555,741 557,745 557,741ZM561,685 559,683 557,685 553,685 553,687ZM667,673 667,675 669,675 669,673ZM407,593 405,591 403,593ZM231,897 231,899 433,899 435,895 437,899 461,899 465,895 469,899 505,899 501,897 505,893 511,893 513,895 511,899 529,899 527,887 525,885 529,877 525,879 521,875 527,871 527,861 525,857 531,853 525,845 525,839 527,837 527,833 525,831 525,821 529,815 529,807 525,803 525,799 529,797 527,785 525,783 527,773 523,765 521,765 519,767 519,771 513,775 509,773 507,775 501,775 499,773 503,769 509,769 517,759 525,759 525,753 527,751 521,741 525,737 529,737 529,729 523,723 531,717 539,719 547,727 551,727 557,735 577,735 579,737 583,737 591,745 601,747 607,751 611,759 611,763 609,765 605,765 605,769 585,797 587,799 579,807 573,819 569,823 565,823 565,827 559,831 565,839 561,843 557,841 557,845 559,847 557,849 557,855 553,859 551,867 545,875 545,881 541,885 543,887 539,891 537,899 1469,899 1469,807 1463,807 1457,803 1451,803 1445,799 1429,795 1413,787 1397,783 1391,779 1385,779 1383,777 1373,775 1367,771 1363,771 1351,765 1325,757 1283,735 1273,727 1265,725 1247,715 1243,715 1239,707 1241,705 1241,699 1245,693 1245,687 1249,677 1249,669 1251,667 1251,659 1245,659 1247,663 1243,667 1239,667 1233,663 1227,663 1223,667 1217,663 1217,659 1215,659 1215,663 1219,667 1213,671 1205,671 1199,667 1183,667 1181,663 1171,663 1171,667 1163,675 1159,675 1157,679 1153,679 1149,671 1145,671 1143,667 1139,667 1135,671 1135,675 1139,675 1141,677 1137,679 1137,681 1143,681 1145,683 1145,689 1143,691 1139,689 1135,693 1129,693 1119,699 1121,701 1117,705 1113,701 1115,697 1113,695 1105,699 1103,697 1105,693 1101,693 1101,697 1103,699 1099,701 1099,705 1097,707 1093,707 1085,701 1075,705 1069,701 1063,701 1059,707 1053,707 1051,705 1049,707 1051,713 1049,715 1045,715 1041,711 1043,705 1035,701 1031,703 1031,707 1025,715 1017,717 1015,713 1011,713 1003,703 999,703 993,699 973,695 973,697 963,705 957,701 951,701 949,697 945,695 937,695 935,693 933,695 925,695 923,693 925,689 913,689 909,691 909,695 911,697 907,701 899,693 899,691 893,695 887,695 885,693 885,699 883,701 877,701 867,697 863,697 861,699 859,695 851,695 851,699 849,701 845,699 837,699 833,707 829,709 823,717 813,711 809,711 805,705 799,703 795,709 789,709 785,715 777,719 767,719 765,721 769,729 767,731 765,731 759,723 755,725 749,715 745,719 737,717 731,723 727,719 715,719 711,713 711,709 707,705 707,697 697,691 691,691 689,693 687,691 683,691 681,695 677,691 679,687 673,687 671,685 671,681 663,679 661,681 657,681 667,683 671,689 667,693 665,689 659,691 657,699 657,697 663,693 667,695 661,703 661,709 667,705 669,701 673,705 673,709 671,711 675,711 683,721 689,719 691,721 691,725 687,729 691,727 693,731 687,735 681,735 679,733 675,737 669,737 667,733 673,729 663,729 661,731 657,729 655,733 647,733 645,735 641,731 637,731 631,727 629,729 621,721 617,721 611,717 609,713 599,713 595,711 591,715 589,711 573,709 567,705 567,699 565,701 561,699 561,695 559,693 557,693 553,699 551,697 537,697 533,691 523,691 521,689 521,685 523,683 521,679 523,677 521,665 525,663 523,659 525,657 533,655 521,649 515,641 509,641 505,637 505,631 503,629 493,627 487,635 471,623 471,617 469,615 463,619 455,613 453,607 441,605 439,603 441,601 441,595 437,597 433,587 423,587 421,585 423,581 427,581 423,579 423,573 425,571 421,573 409,561 401,561 397,565 399,569 399,579 397,583 399,585 405,585 409,589 413,589 421,603 425,605 425,607 417,613 415,611 417,605 413,605 407,611 407,617 415,629 413,631 415,641 411,645 409,663 389,687 389,691 381,699 381,701 373,707 373,711 359,727 353,739 341,751 337,759 321,777 307,799 287,823 285,829 263,855 259,863 249,873 247,879 241,885 241,889ZM491,893 493,891 495,893 493,895ZM481,893 481,889 485,887 487,891 483,895ZM469,887 473,885 477,891 473,893ZM457,885 459,883 463,883 465,887 461,889ZM465,879 467,877 471,879 469,881ZM479,873 481,875 481,879 477,883 475,881 475,877ZM515,873 519,871 521,875 517,877ZM481,867 483,865 485,867 483,869ZM517,863 521,861 525,867 523,869 519,869 517,867ZM471,855 475,851 479,851 481,853 477,857 473,857ZM495,851 497,849 499,851 497,853ZM447,847 451,845 455,853 451,855ZM515,835 517,833 523,833 525,837 523,839 519,839ZM503,835 507,833 509,835 509,839 507,841ZM457,835 461,833 469,845 467,847 461,847 459,845 459,837ZM453,833 455,831 459,833 457,835ZM515,823 519,827 515,835 511,829ZM493,823 497,821 499,825 495,827ZM503,821 505,819 507,821 505,823ZM471,807 473,805 475,807 473,809ZM465,799 467,801 467,805 463,809 459,809 457,805ZM473,795 475,793 477,795 475,797ZM471,787 475,793 471,795 469,799 465,799 463,795ZM513,787 515,785 517,789 515,791ZM477,787 479,785 481,789 479,791ZM505,783 507,781 509,783 507,785ZM463,777 467,775 473,781 469,783 465,781ZM479,773 483,771 485,775 483,777ZM483,771 485,769 487,771 485,773ZM469,771 469,767 471,765 479,765 481,767 475,775ZM609,765 611,763 613,765 611,767ZM505,759 507,757 511,759 509,761ZM499,759 501,755 505,757 501,761ZM515,755 517,753 521,755 519,757ZM481,745 483,743 487,745 485,747ZM697,739 699,737 701,739 699,741ZM687,739 689,737 695,737 697,741 695,743 689,743ZM681,739 683,737 685,739 683,741ZM519,741 515,747 511,747 505,751 501,751 499,749 499,747 501,745 505,745 511,737 515,737ZM655,737 657,735 659,737 657,739ZM695,725 699,727 699,731 701,733 699,737 693,731 693,727ZM499,725 501,723 505,725 503,727ZM507,723 509,721 511,723 509,725ZM1043,723 1047,719 1057,719 1059,721 1055,727 1051,727ZM501,719 503,717 505,719 503,721ZM809,715 811,713 813,715 811,717ZM1067,713 1069,711 1071,713 1069,715ZM491,709 495,711 493,715 495,723 493,725 489,723 489,719 485,715ZM1097,709 1101,707 1103,711 1101,713ZM1061,707 1063,709 1063,715 1061,717 1059,715 1059,709ZM1095,713 1095,717 1093,719 1087,719 1083,723 1077,719 1073,725 1067,719 1069,715 1071,717 1075,715 1075,709 1079,705 1083,707 1079,715 1085,711 1093,711ZM797,705 799,703 801,705 799,707ZM897,705 899,701 903,703 899,707ZM903,701 905,699 907,701 905,703ZM691,701 693,699 699,699 701,703 697,705ZM935,697 939,695 941,699 937,701ZM683,693 687,695 687,699 685,701 679,697ZM673,691 675,693 675,697 673,699 671,697 671,693ZM1145,679 1147,677 1149,679 1147,681ZM1143,677 1145,675 1147,677 1145,679ZM465,629 469,635 469,633 473,631 475,635 479,637 479,643 475,647 471,641 467,643 465,641 467,639 461,635ZM455,631 457,629 459,631 457,633ZM459,625 463,621 469,621 471,623 467,629 463,629ZM433,603 435,601 439,603 437,605ZM431,599 433,597 435,599 433,601Z"/>
<path fill="#FFC070" fill-rule="evenodd" d="M485,897 485,899 495,899ZM469,895 471,899 475,899 473,895ZM517,893 517,895 519,893 521,895 525,895 525,891 519,891ZM509,883 505,883 497,887 497,895 501,891 507,891 509,889ZM461,879 459,879 459,881ZM459,865 463,867 463,871 467,871 467,865ZM495,859 491,863 493,863ZM477,859 475,861 477,861ZM489,853 489,855 491,855 491,853ZM471,845 473,849 481,847 481,845 477,847ZM563,843 563,845 565,845 565,843ZM517,843 513,843 511,845 511,849 513,851 511,855 517,859 515,861 517,859 521,859 521,857 513,851 517,847ZM499,839 493,845 497,845 499,843ZM475,837 487,839 489,835 497,835 493,831 485,831 481,835 475,835ZM473,825 477,827 479,823 473,823ZM463,819 463,821 467,823 467,819ZM519,813 515,813 511,821 513,821ZM625,809 625,811 629,811 629,809ZM485,805 481,811 483,809 491,821 495,819 493,811ZM477,801 477,805 481,803 481,801ZM481,793 481,795 483,795 483,793ZM521,773 521,781 519,783 521,787 523,785 521,783ZM495,767 491,769 487,775 487,779 491,787 497,783 501,789 499,791 495,791 495,793 489,797 489,801 493,805 495,803 499,803 499,801 497,803 493,803 491,801 497,795 501,793 503,795 503,799 507,801 507,807 501,811 503,813 503,817 505,815 509,815 509,811 507,809 513,805 515,801 523,805 523,799 521,797 519,799 513,799 511,795 503,795 501,793 505,789 499,783 499,779 495,781 489,781 487,779 499,769ZM493,757 493,759 495,759 495,757ZM491,745 489,749 483,753 483,755 487,755 491,751ZM507,729 509,731 513,731 515,729 511,727ZM231,899 429,899 435,891 441,899 447,899 445,897 447,895 451,895 457,891 457,889 453,885 447,889 445,885 439,885 435,879 437,877 445,877 449,873 453,879 455,877 455,871 453,873 449,865 453,863 457,857 461,859 463,857 457,855 451,859 449,863 445,861 443,853 445,851 445,845 449,841 447,837 447,827 451,825 453,809 455,807 455,803 459,801 457,791 461,787 459,779 463,775 465,761 469,759 471,753 475,749 477,749 479,753 479,745 483,739 479,731 479,723 481,721 481,717 479,715 485,711 485,705 487,703 491,705 493,703 509,709 517,709 519,713 525,717 537,717 545,721 547,725 555,727 559,731 563,729 567,733 581,735 591,743 603,747 611,755 613,761 617,763 613,769 617,775 617,779 615,781 607,771 605,773 605,777 597,783 599,789 595,793 591,793 589,801 581,807 581,811 579,813 581,817 577,821 573,821 573,825 569,827 569,837 573,841 573,845 569,847 575,847 579,851 573,859 579,863 579,871 583,879 581,885 579,887 575,887 573,885 575,881 573,879 573,887 569,891 561,889 557,885 561,883 563,879 565,881 565,885 567,883 567,877 571,875 571,867 567,863 567,853 565,853 567,857 563,861 561,857 559,857 553,867 553,877 549,879 549,883 541,893 541,899 549,899 551,897 553,899 1469,899 1469,809 1443,801 1437,797 1431,797 1425,793 1421,793 1409,787 1399,785 1393,781 1371,775 1365,771 1359,771 1353,767 1337,763 1331,759 1327,759 1305,749 1301,745 1283,737 1279,733 1241,715 1235,709 1235,703 1239,695 1239,685 1233,685 1229,691 1221,681 1209,683 1207,681 1193,681 1189,679 1181,691 1177,689 1179,683 1173,683 1175,685 1165,693 1161,693 1157,701 1149,701 1147,699 1149,695 1147,695 1147,699 1143,701 1143,705 1139,709 1131,705 1133,709 1121,719 1115,719 1115,721 1107,727 1107,731 1101,735 1097,735 1095,733 1091,735 1081,733 1077,737 1067,737 1065,735 1055,741 1051,739 1043,739 1039,735 1035,735 1027,729 1027,725 1021,727 1019,723 1007,725 1005,723 997,723 993,721 985,727 983,723 989,715 993,717 995,713 989,713 987,717 983,713 979,713 985,719 981,723 973,725 967,731 961,727 959,719 955,725 945,723 943,721 943,717 939,717 935,713 929,711 929,713 921,719 911,719 907,717 907,721 905,723 899,723 891,727 889,731 881,731 877,729 879,731 873,735 869,731 863,729 859,733 857,731 857,715 859,711 847,711 847,715 845,717 839,717 839,719 835,721 835,723 821,739 817,739 813,733 807,729 803,729 797,719 799,723 797,727 793,729 787,725 787,731 781,735 775,735 773,739 763,739 761,741 757,737 753,737 751,735 733,735 731,737 729,735 723,735 719,743 715,745 713,741 709,745 709,749 703,755 701,753 691,751 687,747 685,751 677,749 673,743 671,745 669,743 665,745 655,745 655,749 653,751 649,747 649,743 641,739 639,733 631,733 627,735 621,731 617,731 611,725 611,721 609,723 605,723 601,717 591,717 589,719 585,719 583,717 585,713 581,713 579,711 575,711 575,713 571,715 559,701 555,703 547,703 539,699 533,699 525,693 517,693 513,689 509,689 507,687 509,685 513,685 515,683 513,679 521,673 509,665 511,663 521,663 521,657 525,655 521,651 517,655 515,653 515,645 511,645 505,641 501,635 503,633 501,631 495,631 495,633 489,637 489,641 487,643 485,643 483,641 483,637 481,637 481,643 477,649 469,645 465,647 453,639 455,637 453,633 453,623 455,621 451,619 451,615 453,613 449,615 439,615 435,611 431,611 429,613 425,609 427,613 425,615 419,615 415,619 413,617 413,613 409,613 409,617 413,619 413,623 417,629 423,633 421,635 417,635 417,643 413,649 411,663 405,671 399,675 397,681 389,689 389,693 381,701 381,703 375,707 371,715 359,729 357,735 353,739 353,743 341,753 311,793 309,799 301,807 285,831 279,837 277,843 271,847 259,865 245,881 243,889ZM573,897 575,895 577,897 575,899ZM571,893 569,897 565,897 563,899 559,897 561,893 565,893 567,891ZM439,889 441,887 445,887 447,889 447,895 443,897ZM635,887 637,885 639,887 637,889ZM643,877 645,879 645,883 643,885 641,883 641,879ZM633,877 635,879 635,885 633,887 631,885 631,879ZM603,873 605,871 609,871 611,873 611,877 607,879ZM585,871 587,869 593,869 595,871 595,875 589,879ZM659,863 661,865 657,871 653,873 651,871 653,869 649,867 653,863ZM627,865 631,863 633,867 629,869ZM443,863 445,865 445,873 441,875 439,873 439,867ZM559,861 563,861 567,865 567,873 565,875 561,873 561,865 557,863ZM615,859 619,855 623,859 621,861 617,861ZM651,857 657,853 661,853 663,855 661,859 653,859ZM597,851 599,855 595,857 593,855ZM643,849 649,853 649,859 647,861 639,855ZM593,845 595,849 591,853 585,855 583,859 581,857 581,853ZM651,843 653,847 649,851 645,847ZM581,841 583,839 585,841 583,843ZM583,839 585,837 587,839 585,841ZM571,837 573,835 575,837 573,839ZM589,835 591,833 593,835 591,837ZM635,831 637,833 637,837 633,841 629,841 625,847 623,845 623,839 627,835 633,835ZM647,831 649,829 651,831 649,833ZM635,827 639,821 643,821 645,823 639,829ZM611,815 613,817 609,827 605,823 605,819ZM603,807 605,805 609,809 605,811ZM657,801 659,799 661,801 659,803ZM615,823 615,819 617,817 619,819 623,819 625,817 625,815 621,815 619,813 619,805 621,803 619,795 621,793 625,795 627,799 631,797 635,797 637,799 637,801 631,805 635,803 639,805 643,803 647,797 653,799 657,803 657,807 655,809 641,809 631,817 633,819 633,825 631,827 629,827 627,823 623,823 621,825 617,825ZM643,789 645,791 645,797 641,801 637,797ZM611,787 613,785 617,785 621,789 621,793 619,795 613,793 611,791ZM631,781 633,781 639,789 635,793 627,787ZM641,781 643,779 653,779 657,783 657,787 653,789ZM635,771 641,777 639,781 635,781 631,777ZM615,761 617,759 619,761 617,763ZM475,737 477,735 479,737 477,739ZM789,729 791,727 793,729 791,731ZM849,717 851,715 853,717 851,719ZM557,707 559,705 561,707 559,709ZM1145,705 1147,703 1149,705 1147,707ZM503,681 507,687 505,691 499,685ZM477,649 481,647 483,651 479,653ZM401,563 401,581 403,583 407,583 411,587 417,585 419,575 409,565 409,563Z"/>
<path fill="#FFD590" fill-rule="evenodd" d="M237,897 233,899 237,899ZM555,893 553,891 545,893 545,897ZM625,889 627,897 623,899 629,899 629,893 627,889ZM587,881 587,885 593,889 593,893 591,895 585,895 587,895 589,899 593,899 595,897 601,899 605,895 609,897 611,895 611,891 607,891 605,893 601,893 599,891 599,889 607,883 595,885 593,881ZM641,871 641,873 643,873 643,871ZM633,871 633,875 639,877 637,877ZM615,865 613,867 613,875 621,879 623,875 621,871 617,871 615,869ZM625,859 627,859 627,855 629,853 631,855 635,855 633,853 625,853ZM611,853 607,851 603,853 603,855ZM637,845 637,847 639,847 639,845ZM597,841 595,843 597,847 599,847 599,843ZM601,835 601,837 605,839 605,835ZM675,833 671,835 671,841 673,841 673,837 677,835ZM645,833 643,835 643,839 645,837ZM629,829 631,833 631,829ZM579,827 583,835 589,831 593,831 591,827 585,831 583,827ZM601,823 603,827 611,833 611,837 609,839 611,843 613,839 611,831ZM643,815 639,817 643,817ZM607,813 605,813 603,817 605,817ZM591,801 583,807 587,813 583,817 583,821 585,823 587,823 589,819 593,819 595,821 597,819 593,815 595,805ZM649,793 649,795 651,795ZM625,781 621,785 623,785ZM621,769 619,769 619,771ZM925,731 925,735 927,735 929,733ZM241,893 245,899 425,899 427,897 425,895 429,891 435,889 433,873 441,861 439,851 443,845 443,841 439,839 441,837 445,837 445,825 449,821 449,815 447,813 453,807 453,791 451,789 459,785 457,783 457,779 461,775 461,769 463,767 461,763 463,759 461,755 473,747 475,743 471,737 477,725 477,717 475,715 481,709 481,707 473,701 473,695 475,693 483,695 485,697 485,701 487,699 491,699 499,703 505,703 511,707 521,707 525,715 535,715 545,719 555,727 559,727 567,731 575,731 579,735 585,735 587,739 593,743 603,745 629,765 633,765 641,771 645,769 649,773 661,775 665,783 671,785 677,791 673,797 669,795 667,797 667,799 671,797 675,797 677,799 675,803 679,809 677,815 675,817 671,811 665,811 671,815 671,819 667,821 669,827 671,827 671,823 673,821 675,821 677,825 679,823 685,823 687,825 683,831 683,841 679,849 671,853 671,859 669,863 665,865 661,873 657,877 653,877 653,883 645,889 645,893 641,897 639,897 637,893 635,895 637,895 639,899 1469,899 1469,809 1463,809 1461,807 1439,801 1423,793 1401,787 1395,783 1373,777 1367,773 1351,769 1345,765 1341,765 1339,763 1329,761 1323,757 1319,757 1313,753 1309,753 1305,749 1283,739 1279,735 1243,717 1239,717 1231,709 1231,707 1225,711 1219,711 1211,705 1213,707 1209,711 1207,709 1207,705 1203,705 1201,703 1203,699 1201,697 1195,697 1191,707 1187,707 1183,703 1175,703 1175,707 1173,709 1169,707 1163,715 1153,717 1151,719 1145,719 1141,725 1135,725 1133,727 1131,723 1129,723 1127,725 1127,729 1123,733 1119,733 1111,743 1111,751 1109,753 1105,751 1105,745 1103,743 1097,747 1091,747 1089,743 1083,743 1081,745 1071,745 1065,749 1061,749 1059,747 1057,749 1051,749 1049,747 1033,747 1029,739 1023,739 1021,741 1017,739 1015,741 1011,741 1005,737 1001,739 999,743 995,741 989,741 987,743 983,735 979,741 969,741 959,745 951,739 947,741 945,737 941,735 931,743 927,743 925,745 915,745 911,739 911,735 907,735 903,739 897,735 893,735 887,739 883,739 879,743 873,743 871,741 865,751 855,743 855,739 853,737 849,741 845,737 841,737 839,739 839,747 835,751 833,747 831,747 831,751 829,753 819,753 817,755 815,755 813,751 809,751 805,747 795,745 793,743 789,747 785,747 783,745 781,747 775,743 773,745 769,745 765,749 761,749 755,745 749,745 747,743 739,743 731,747 727,753 723,755 719,753 715,757 707,757 701,763 697,761 689,761 687,759 687,755 685,755 685,759 681,763 677,759 673,759 671,757 677,753 677,751 673,751 667,747 659,753 649,753 645,749 643,743 633,743 629,739 631,737 627,737 625,739 617,737 611,729 605,731 601,723 593,723 589,727 583,727 573,721 565,711 557,711 553,705 551,707 545,707 543,705 537,705 535,701 527,697 523,699 519,697 515,699 513,697 509,697 507,693 503,693 501,691 497,691 495,693 491,689 491,683 487,679 491,677 489,673 493,669 499,675 501,675 503,671 507,671 509,673 507,675 507,679 511,681 509,679 509,675 511,673 515,673 509,671 505,665 511,659 513,649 507,649 503,643 501,643 493,649 487,649 483,655 475,655 473,653 467,655 465,653 465,649 459,653 457,649 449,643 449,639 451,637 449,633 451,629 449,621 445,619 425,619 423,623 419,621 425,631 425,637 419,641 419,645 415,651 417,655 415,659 417,663 415,665 411,665 405,673 401,675 397,683 391,687 391,691 385,697 377,711 373,713 369,719 367,719 365,725 357,735 355,743 341,755 331,771 313,793 311,799 305,803 301,811 295,817 295,821 291,823 287,831 281,837 279,843 273,847 267,857 257,867 251,879 245,885 247,889ZM981,879 983,877 985,879 983,881ZM975,865 977,863 979,867 977,869ZM685,813 687,811 693,817 689,821 685,817ZM697,803 699,807 695,809 693,807ZM685,795 691,799 689,803 691,807 689,809 681,803 681,799ZM657,757 659,755 663,755 665,757 663,759 659,759ZM1099,749 1101,747 1103,749 1101,751ZM989,745 991,743 993,747 991,749ZM979,741 981,739 983,741 981,743ZM841,741 845,739 847,743 843,745ZM1195,711 1197,707 1201,707 1203,709 1199,713ZM449,669 451,667 453,671 451,673ZM503,655 507,653 509,657 505,659ZM431,625 433,627 433,631 429,633 427,629ZM403,565 403,569 405,571 403,577 405,581 409,581 411,579 411,569 407,565Z"/>
<path fill="#9A8410" fill-rule="evenodd" d="M595,889 597,893 601,895ZM813,761 813,763 815,763ZM1469,899 1469,811 1459,809 1453,805 1447,805 1441,801 1431,799 1409,789 1403,789 1393,783 1381,781 1365,773 1359,773 1347,767 1321,759 1237,717 1225,723 1221,729 1211,729 1209,731 1205,729 1197,729 1191,725 1189,729 1185,731 1181,723 1171,725 1167,721 1163,721 1157,727 1147,729 1149,733 1147,737 1137,739 1135,737 1137,733 1133,735 1133,739 1135,741 1129,745 1131,747 1129,751 1121,753 1125,757 1117,769 1115,767 1111,767 1101,771 1095,769 1091,763 1083,761 1077,755 1073,757 1063,757 1059,763 1055,759 1053,761 1041,761 1039,763 1031,761 1029,763 1027,761 1029,753 1025,755 1015,753 1017,757 1015,761 1005,761 1003,759 1003,755 1001,757 993,757 989,759 981,751 977,757 973,759 963,759 961,761 953,761 947,755 943,755 939,761 935,761 933,757 929,757 925,759 929,761 929,765 925,767 915,761 913,763 903,751 895,757 893,753 883,753 879,757 875,755 871,759 863,761 857,769 853,769 845,763 837,765 835,763 835,759 833,759 833,765 829,769 815,769 809,773 799,767 797,763 789,763 785,759 781,759 783,761 779,765 775,763 777,759 759,759 757,761 749,761 747,763 735,761 727,771 721,771 717,775 713,771 711,773 709,771 711,767 709,765 701,769 697,767 693,769 691,765 687,763 683,767 677,763 669,763 665,767 647,755 639,757 637,755 639,753 639,749 635,745 631,745 629,743 627,745 625,743 621,743 619,745 611,739 611,733 597,737 593,731 579,729 579,733 583,733 593,741 597,741 609,747 617,755 621,755 633,763 645,765 649,769 661,773 667,781 675,783 679,787 687,789 691,793 697,793 705,801 697,813 697,817 693,821 681,849 675,855 669,867 663,871 663,873 655,881 655,885 643,899 947,899 943,889 937,883 937,875 931,869 931,865 927,865 925,863 925,859 917,853 917,847 919,845 927,845 931,849 945,849 947,847 951,849 953,847 957,847 961,851 965,849 983,851 985,849 991,853 995,853 997,851 1011,853 1013,857 1011,859 1009,857 1007,859 1009,863 1007,867 1003,869 1003,875 999,879 997,887 995,889 993,887 993,893 991,895 987,895 981,899ZM1107,771 1109,769 1111,771 1109,773ZM867,761 869,765 865,767 863,765ZM739,763 741,761 743,763 741,765ZM737,761 741,765 735,769 733,765ZM897,761 899,759 903,761 901,763ZM945,759 947,757 949,759 947,761ZM1211,731 1213,729 1215,733 1213,735ZM475,707 475,709 477,709 477,707ZM499,697 499,699 503,699 509,703 513,703 515,701 517,705 523,705 527,709 527,713 535,713 555,725 557,723 561,727 569,727 571,729 575,727 575,723 571,723 569,725 565,723 567,719 565,713 563,713 565,717 559,721 551,711 545,711 541,707 535,711 533,707 525,701 515,701 513,699 507,699 501,695ZM475,685 479,689 489,689 489,685 485,685 483,683 477,683ZM453,663 451,663 451,665ZM503,649 501,651 499,649 499,655 497,657 491,653 485,657 471,657 469,659 461,655 457,655 451,651 451,647 449,647 445,641 437,645 431,641 433,637 441,639 445,637 447,633 447,625 439,621 435,627 435,631 427,643 427,647 431,651 431,647 433,645 437,645 441,649 439,657 443,663 439,667 435,661 429,657 431,655 427,657 421,653 421,657 423,659 429,659 431,661 431,667 429,669 421,669 417,673 409,671 405,677 401,679 395,687 393,687 391,695 387,697 379,709 379,713 375,715 363,729 365,729 367,733 357,737 357,743 359,745 349,749 343,757 345,759 337,763 339,771 337,773 333,773 325,779 325,783 321,785 319,791 313,797 313,801 307,805 297,817 299,821 299,829 295,833 293,833 291,829 281,841 283,843 283,847 275,851 275,853 259,867 259,871 255,875 255,879 257,881 253,885 253,887 261,895 259,899 263,897 265,899 271,899 273,897 277,897 279,899 289,899 291,897 293,899 317,899 311,895 315,891 317,891 321,897 325,897 327,899 411,899 413,897 423,899 423,893 427,887 431,887 431,883 429,881 433,877 431,873 431,865 427,859 429,857 433,857 437,863 435,851 439,845 437,841 439,833 435,829 437,827 443,829 441,827 445,821 445,815 443,813 451,805 449,801 449,797 451,795 449,793 449,787 453,785 449,785 445,781 445,771 447,769 455,771 455,767 459,761 459,753 467,747 467,741 471,735 471,729 475,723 469,719 473,713 471,711 471,707 465,703 471,699 471,693 469,691 471,681 469,677 471,675 475,675 477,677 481,673 485,675 487,673 485,671 491,665 495,667 495,661 497,659 501,659 501,653 505,651ZM385,891 389,887 395,887 397,889 393,895ZM257,887 259,885 263,887 261,889ZM265,887 269,883 277,883 279,885 285,883 287,885 287,891 285,893 279,893 273,889 269,889 267,891ZM301,881 305,887 303,889 299,889 297,887ZM313,877 315,875 317,877 315,879ZM393,875 395,873 397,875 395,877ZM323,873 327,875 327,879 331,883 331,889 327,893 325,889 319,885 321,883 321,875ZM301,875 305,871 311,875 309,877 303,877ZM417,869 419,867 421,871 419,873ZM343,867 345,865 347,869 345,871ZM377,865 381,863 383,865 383,869 379,871 377,869ZM289,859 291,857 293,861 291,863ZM341,857 345,855 347,859 343,861ZM329,855 331,853 333,855 331,857ZM319,849 321,851 321,859 317,863 311,863 309,859 313,855 317,855 317,851ZM337,843 339,841 343,843 341,845ZM345,839 347,837 349,839 347,841ZM289,839 291,837 295,839 297,843 293,847 289,843ZM321,835 325,837 327,843 331,843 333,845 327,853 325,853 319,845 319,837ZM343,827 339,833 331,833 329,835 327,833 331,827 337,827 339,825ZM427,825 429,823 431,825 429,827ZM369,821 375,817 377,819 381,819 383,823 381,825 377,823 375,825 371,825ZM427,813 429,817 425,819 423,817ZM395,815 397,813 401,815 399,817ZM353,815 355,813 357,817 355,819ZM375,809 379,807 381,811 377,813ZM369,809 371,805 375,807 371,811ZM401,805 403,803 407,805 405,807ZM439,805 441,801 445,803 441,807ZM387,801 391,797 395,797 397,799 397,803 395,805 389,805ZM357,793 359,791 361,793 359,795ZM441,787 443,785 445,789 443,791ZM375,785 379,783 383,787 381,789 377,789ZM365,783 369,781 371,785 367,787ZM393,779 395,783 391,785 389,783ZM417,775 421,773 423,777 419,779ZM349,773 353,779 353,785 345,793 343,793 339,787 345,783 345,775ZM375,773 379,771 381,775 379,777ZM429,769 435,775 439,773 441,775 441,783 437,787 435,783 427,779 427,771ZM363,769 365,767 369,773 365,775 363,773ZM383,767 385,765 387,767 385,769ZM353,767 355,765 357,767 355,769ZM447,761 449,763 443,767 441,765ZM349,761 351,765 347,767 345,765ZM413,759 417,757 419,759 419,763 417,765ZM357,763 357,759 359,757 365,757 369,761 363,767ZM373,757 375,755 379,757 377,759ZM391,755 393,753 395,755 393,757ZM443,753 445,751 447,753 445,755ZM455,745 459,751 457,753 453,753 451,751ZM417,743 419,745 419,749 411,755 409,753 409,749ZM435,741 437,743 431,747 429,745ZM459,741 461,739 463,741 461,743ZM395,739 397,741 391,745 389,743ZM443,737 445,733 449,735 445,739ZM419,735 421,733 425,733 429,737 429,741 427,743 423,741ZM437,729 441,727 445,731 441,733ZM369,729 373,727 375,731 371,733ZM409,731 409,727 411,725 415,729 411,733ZM405,723 407,721 409,723 407,725ZM431,719 435,723 435,727 427,731 425,729 425,725ZM431,715 433,713 435,717 433,719ZM387,711 391,709 399,715 397,717 391,717ZM411,707 413,705 415,707 413,709ZM381,707 383,705 387,707 385,709ZM421,705 429,701 433,705 429,709 425,709ZM413,703 417,701 419,705 415,707ZM387,703 389,701 391,703 389,705ZM435,701 437,699 439,701 437,703ZM421,699 423,695 427,697 423,701ZM457,693 459,695 459,703 453,707 451,705 451,701 453,699 453,695ZM463,691 465,695 461,697 459,695ZM437,693 439,691 441,693 439,695ZM413,683 415,681 417,683 415,685ZM411,671 413,675 407,679 405,677ZM437,667 441,671 439,673 441,681 437,683 437,687 435,689 437,695 435,697 431,697 425,689 421,689 419,687 421,685 429,685 429,681 427,683 423,683 417,679 417,675 419,673 427,675ZM477,669 475,673 469,675 465,679 457,675 461,669 463,671 467,671 471,665ZM461,667 463,665 465,667 463,669ZM459,657 465,661 457,665 457,671 451,677 453,679 453,683 451,685 447,681 447,675 441,671 447,659Z"/>
<path fill="#BFAE00" fill-rule="evenodd" d="M397,897 399,899 409,899 407,895ZM333,891 331,891 331,899 331,893ZM319,889 319,891 321,891 321,889ZM295,889 301,899 305,899 305,895 303,893 299,893ZM357,887 357,889 365,893 363,895 363,899 375,899 375,895 367,893 363,885 359,885ZM309,885 309,887 311,887 311,885ZM389,883 385,885 389,885ZM341,885 339,883 337,885ZM313,881 315,885 317,885ZM291,879 291,881 293,881 293,879ZM359,877 355,879 351,875 347,875 345,879 347,881 345,887ZM421,873 419,875 423,877 423,873ZM331,873 331,879 335,879ZM367,871 373,879 377,879 379,881 369,871ZM273,871 275,881 279,881 279,877 277,877 275,875 275,871ZM425,863 425,867 427,869ZM417,863 407,869 407,873 413,875ZM361,865 365,867 365,863 367,861 371,865 371,863 365,861ZM281,861 283,863 287,863 287,859 283,859ZM389,867 393,867 393,863 395,861 399,861 403,865 405,861 399,861 393,857 389,863ZM381,857 381,859 383,859 383,857ZM327,857 325,857 321,863 323,867 327,863ZM275,857 269,861 271,865 275,865 275,861 277,859ZM415,855 415,857 417,857 417,855ZM305,855 305,857 307,857 307,855ZM431,853 423,855 431,855ZM343,849 343,853 345,853 345,849ZM385,847 387,851 387,847ZM399,845 393,847 393,851 395,853 397,853ZM327,837 327,839 329,839 329,837ZM425,835 425,841 427,841 427,835ZM379,837 381,841 383,839 389,841 389,835 385,837 381,835ZM377,827 375,827 375,831 373,833 377,831ZM319,825 313,829 309,829 309,831 317,833ZM407,823 405,825 405,829 399,833 399,837 401,837 405,843 411,847 419,843 419,841 415,841 417,843 415,845 411,843 411,835 413,833 417,833 417,827 413,827 411,829ZM405,833 409,831 411,835 407,837ZM355,823 355,825 359,825 361,827 361,835 359,837 361,841 359,843 355,841 355,847 359,853 363,853 365,855 369,853 375,857 375,841 371,837 369,839 367,837 367,833 363,829 363,825 361,823ZM363,843 369,847 365,851 361,851 359,849ZM303,821 303,825 305,825ZM415,819 423,821 421,817ZM385,819 385,825 391,825 393,829 395,827 401,827 397,821 393,825 389,817ZM405,815 403,817 407,819 407,815ZM349,815 341,819 347,819ZM325,813 323,813 323,815ZM335,809 333,809 331,813 333,813ZM355,803 357,809 361,809 361,807ZM325,801 323,803 323,807 327,805ZM315,801 317,803 317,801ZM433,795 431,795 431,797ZM337,795 341,799 347,799 347,797 343,795ZM375,793 375,795 381,799 377,797ZM439,791 439,795 441,795 441,791ZM389,789 391,795 393,795 395,793 393,789ZM357,789 351,791 351,793ZM329,787 327,789 327,793 329,795ZM363,785 361,787 365,793 367,793ZM853,781 857,787 855,781ZM751,775 755,777 755,775ZM745,773 745,775 747,775 747,773ZM359,775 357,773 355,777 359,777ZM665,769 661,771 665,771ZM399,767 399,771 401,771ZM377,765 375,765 375,767ZM455,757 451,759 453,761ZM631,755 631,757 637,761 635,757ZM419,753 415,755 419,755 421,757 421,763 417,767 415,765 407,767 405,769 407,771 407,775 401,783 399,781 399,775 397,775 397,779 399,781 399,785 401,783 407,785 411,777 415,783 419,783 421,785 421,789 417,791 415,787 411,787 411,791 409,793 399,793 411,803 411,807 415,811 419,811 419,809 409,801 411,791 415,789 421,795 419,797 419,803 425,807 423,811 427,807 435,813 433,815 437,815 439,809 429,807 423,799 423,795 427,791 425,785 413,775 417,769 425,769 423,765 425,761 427,761 433,771 435,771 433,763 435,761 441,761 441,759 437,755 431,759ZM623,747 623,749 625,749 625,747ZM397,747 395,749 397,751 399,749ZM459,745 459,747 461,747 461,745ZM421,743 421,745 425,745ZM603,737 601,739 601,743 609,745 611,743ZM373,737 373,747 377,747 379,745 379,741 377,737ZM373,745 375,743 379,745 377,747ZM457,737 461,735 465,737 463,735 459,735ZM437,735 435,737 437,737 439,741 439,735ZM589,733 591,735 591,733ZM389,729 387,735 391,737 395,731ZM423,731 423,727 417,729 419,731ZM1469,811 1461,811 1455,807 1439,803 1433,799 1417,795 1411,791 1395,787 1389,783 1373,779 1367,775 1355,773 1345,767 1333,765 1323,759 1303,753 1275,739 1271,735 1241,721 1237,721 1233,725 1219,753 1211,751 1211,753 1207,755 1201,747 1201,743 1197,741 1189,743 1187,739 1183,739 1179,743 1173,743 1169,737 1171,735 1171,731 1165,731 1161,735 1165,737 1165,741 1155,749 1159,755 1153,761 1149,761 1141,771 1137,771 1133,767 1137,763 1133,755 1133,761 1135,763 1131,765 1127,771 1127,775 1121,779 1115,777 1109,785 1107,783 1099,785 1097,781 1093,781 1091,783 1089,781 1083,781 1081,779 1081,775 1075,779 1073,777 1073,769 1069,769 1069,771 1061,777 1049,779 1045,789 1041,789 1039,785 1037,785 1033,791 1029,791 1023,797 1021,795 1023,789 1019,789 1017,791 1013,789 999,791 997,787 999,785 1005,785 1005,783 999,783 997,785 993,781 987,781 983,775 979,775 979,779 977,781 973,781 971,785 969,781 965,779 959,787 955,781 945,781 937,775 937,779 935,781 929,779 925,783 925,789 923,791 919,791 915,795 909,791 905,797 901,797 891,789 887,789 887,791 883,793 877,785 879,777 877,777 875,779 875,783 865,791 847,791 843,793 839,785 835,791 829,791 825,787 813,793 809,789 803,791 797,783 795,785 791,783 787,785 785,781 781,783 781,787 779,789 773,785 775,777 771,777 769,775 763,775 755,783 745,785 741,779 735,781 731,787 721,787 717,783 715,785 711,783 707,777 693,777 691,773 681,773 677,769 673,771 675,775 673,779 675,781 679,781 683,785 687,785 695,791 701,791 707,799 707,805 705,807 705,811 691,829 693,831 691,841 689,843 685,843 683,851 671,867 657,881 657,885 645,899 943,899 931,875 911,847 919,841 929,843 931,845 961,845 963,847 1017,849 1019,851 1019,855 1003,879 995,895 995,899 1469,899ZM715,827 717,825 719,827 717,829ZM705,823 709,817 715,817 717,819 717,825 715,827 711,827 709,829ZM773,799 775,797 777,799 775,801ZM839,795 841,793 845,795 843,797ZM763,791 767,789 769,793 765,795ZM739,785 743,789 741,793 735,789ZM1165,745 1167,749 1163,751 1161,749ZM377,723 375,721 373,725ZM541,713 541,715 545,715 555,721 551,715ZM421,713 417,721 419,721ZM383,713 383,715 385,715 385,713ZM437,713 447,711 451,715 451,717 445,721 443,725 453,719 457,719 459,723 455,725 455,727 461,725 467,729 467,727 459,721 461,717 455,713 455,711 461,707 465,711 467,711 467,709 463,707 457,707 455,709 443,707ZM397,719 399,721 403,721 411,713 413,713 413,711 405,707 399,707 397,709 399,707 407,715 407,717 405,719ZM401,699 395,703 401,701ZM447,695 449,697 451,695ZM407,693 405,691 401,693 401,695 403,693ZM441,687 437,689 441,689ZM473,659 471,663 475,663ZM441,633 441,635 443,635 443,633Z"/>
<path fill="#E0D800" fill-rule="evenodd" d="M371,841 367,843 371,843ZM689,781 691,785 697,785 695,781ZM407,779 405,781 407,783ZM1185,757 1181,759 1181,761 1183,761ZM1469,813 1463,813 1441,803 1419,797 1413,793 1407,793 1387,783 1375,781 1369,777 1335,767 1325,761 1321,761 1301,753 1289,753 1283,757 1273,753 1267,757 1259,755 1259,757 1251,765 1249,763 1237,763 1233,765 1231,763 1215,763 1213,761 1209,767 1205,765 1205,769 1203,771 1199,771 1195,765 1193,769 1189,769 1185,765 1181,775 1177,773 1179,769 1175,765 1171,767 1161,765 1161,769 1155,773 1149,781 1141,781 1131,785 1131,789 1133,791 1129,793 1129,801 1127,803 1125,801 1111,801 1109,799 1103,799 1101,801 1095,799 1091,803 1087,799 1079,801 1077,799 1069,799 1067,797 1063,797 1059,801 1057,797 1049,795 1047,797 1039,797 1033,801 1029,799 1025,805 1021,805 1017,809 1015,809 1013,805 1011,805 1009,809 1005,809 997,805 999,809 997,811 995,811 987,801 981,801 981,805 979,807 977,805 977,807 971,811 969,815 967,811 961,813 959,817 953,817 951,815 951,811 947,817 941,811 939,811 937,815 927,813 923,817 915,811 907,811 905,809 901,809 899,811 897,809 893,811 881,811 879,809 865,807 863,805 863,801 859,801 859,803 863,805 861,815 857,819 851,819 845,811 845,813 839,817 835,813 823,813 817,807 817,803 813,803 811,805 807,801 799,801 797,799 787,801 789,803 785,807 787,809 779,817 777,817 767,807 763,811 757,807 753,799 751,799 749,803 743,803 733,799 729,801 725,799 723,801 715,793 713,795 705,789 709,797 721,799 725,805 731,807 739,815 741,821 737,825 727,829 723,833 711,839 707,837 701,845 699,845 697,841 673,865 669,873 663,877 659,885 649,895 649,899 941,899 933,887 929,877 925,873 925,869 907,847 907,845 915,839 923,839 931,843 955,843 957,841 965,845 989,845 991,847 1009,847 1011,845 1015,845 1023,853 1011,869 1011,873 1001,887 997,895 997,899 1469,899ZM1015,817 1017,815 1019,817 1017,819ZM901,811 903,809 905,813 903,815ZM1009,809 1011,807 1013,809 1011,811ZM805,809 807,807 811,809 809,811ZM979,809 981,805 985,805 987,807 983,811ZM1095,805 1097,803 1101,805 1099,807ZM793,801 795,799 797,801 795,803ZM1149,787 1153,785 1155,789 1153,791ZM1183,777 1185,775 1189,777 1187,779ZM1261,743 1261,745 1263,745 1263,743ZM1253,735 1253,737 1259,739 1257,735ZM1241,735 1241,737 1247,737 1247,735ZM389,733 389,735 391,735 391,733ZM1241,727 1241,731 1247,729 1245,727Z"/>
<path fill="#FFFF00" fill-rule="evenodd" d="M1469,815 1437,805 1431,801 1415,797 1409,793 1403,793 1389,785 1383,785 1381,783 1371,781 1365,777 1359,777 1347,771 1335,769 1311,757 1297,757 1295,759 1269,761 1259,767 1255,767 1253,771 1241,771 1237,775 1209,779 1199,785 1199,789 1193,797 1181,797 1177,801 1175,799 1175,795 1171,795 1169,797 1163,793 1165,803 1157,813 1155,813 1151,807 1149,809 1143,807 1143,811 1141,813 1131,811 1133,813 1127,817 1111,817 1103,829 1101,825 1097,823 1091,823 1089,821 1085,823 1083,821 1083,817 1077,819 1075,817 1075,813 1063,813 1061,815 1057,811 1049,811 1045,815 1041,815 1039,813 1033,821 1031,829 1029,831 1025,829 1021,835 1017,831 1017,825 1015,825 1015,831 1011,833 1007,827 1003,829 995,827 991,819 985,821 977,827 963,829 959,835 955,829 947,831 943,827 931,827 929,825 923,829 917,827 913,833 901,827 899,829 901,831 899,833 897,833 895,829 891,829 889,831 885,829 875,829 871,833 867,833 865,835 853,835 849,831 845,833 843,831 845,827 843,825 841,829 831,825 829,827 823,827 821,825 819,827 819,831 821,833 819,837 817,835 813,837 807,829 807,821 799,815 789,823 777,825 775,829 773,829 767,821 761,825 759,825 757,821 749,821 749,823 739,831 735,829 725,841 717,841 717,845 715,847 707,847 703,851 695,849 687,861 679,861 679,863 671,871 671,875 659,889 659,893 655,899 673,899 675,897 677,899 735,899 737,897 739,899 747,899 745,899 739,891 741,889 751,889 753,887 757,887 759,891 765,887 775,899 781,899 777,893 777,887 781,883 781,879 783,877 779,873 783,869 785,869 787,873 791,873 793,875 789,879 789,887 793,885 791,883 795,879 801,879 803,881 803,883 799,885 801,889 799,895 803,899 809,899 809,893 811,891 815,891 817,893 813,897 821,893 821,887 825,881 831,885 827,889 833,893 831,895 833,899 853,899 853,895 857,891 861,893 859,895 859,899 871,899 875,895 879,899 937,899 935,893 927,883 921,867 919,867 913,859 909,857 905,859 903,857 905,853 903,849 903,841 911,835 915,837 917,835 921,835 933,841 959,839 967,843 971,843 973,841 977,843 979,841 981,843 991,843 993,845 995,843 1017,843 1027,849 1027,855 1021,859 1015,867 1011,877 1003,887 999,895 999,899 1293,899 1295,897 1299,899 1469,899ZM725,895 727,893 731,895 729,897ZM869,893 871,891 873,893 871,895ZM887,891 891,889 893,891 893,895 889,897 887,895ZM835,891 837,889 841,891 839,893ZM775,889 777,893 773,895 771,893ZM877,889 879,887 883,887 887,893 883,895 879,893ZM799,887 801,885 805,887 803,889ZM813,883 815,881 817,885 815,887ZM669,883 671,881 673,885 671,887ZM683,881 685,879 689,881 687,883ZM671,881 673,879 675,881 673,883ZM865,877 869,885 867,887 861,887 859,885ZM761,879 763,877 765,879 763,881ZM811,875 811,871 813,869 821,873 815,879ZM683,863 689,871 679,875 675,871 677,867ZM693,859 697,867 691,871 689,869 689,865ZM707,855 709,853 711,857 709,859ZM737,847 741,845 743,849 741,851ZM809,837 811,839 811,843 817,845 819,841 823,845 825,843 827,845 829,855 823,859 825,863 829,855 837,855 839,857 845,851 847,851 851,859 857,863 857,869 853,873 857,875 857,879 853,885 855,889 851,895 845,887 847,885 845,883 841,885 831,883 829,881 829,877 825,877 821,873 823,869 817,869 813,865 815,863 815,859 807,859 805,857 805,851 807,849 805,847 805,841ZM809,837 811,835 813,837 811,839ZM1029,831 1031,829 1033,831 1031,833ZM877,831 879,829 885,831 887,833 887,837 885,839 881,837ZM1037,819 1041,821 1041,825 1039,827 1035,827 1033,825Z"/>
<path fill="#55D010" fill-rule="evenodd" d="M693,895 691,899 693,899ZM705,879 703,881 705,881ZM921,879 919,877 913,883 907,883 909,887 913,887 917,881 921,881ZM717,873 717,875 719,875 719,873ZM995,835 995,839 999,839ZM1469,817 1459,813 1447,811 1431,803 1421,803 1419,805 1415,799 1407,795 1397,793 1387,787 1373,785 1365,779 1357,779 1355,777 1349,777 1345,773 1331,771 1327,767 1319,763 1315,763 1311,759 1299,759 1297,761 1289,761 1279,765 1271,765 1255,773 1249,779 1247,777 1237,777 1227,783 1211,783 1209,787 1201,791 1201,797 1197,801 1197,805 1191,811 1187,811 1183,815 1177,811 1175,813 1171,813 1167,817 1169,819 1167,821 1161,817 1157,821 1147,823 1141,827 1141,833 1135,839 1131,835 1127,837 1123,831 1117,833 1113,839 1109,839 1107,835 1103,835 1103,837 1109,841 1105,847 1099,839 1089,839 1087,837 1083,841 1079,841 1075,837 1079,835 1079,833 1077,833 1075,837 1071,837 1065,831 1065,827 1063,825 1057,833 1053,829 1047,827 1051,833 1051,839 1049,841 1045,841 1043,839 1045,833 1043,835 1043,839 1035,843 1033,847 1035,851 1015,873 1013,879 1001,897 1003,899 1023,899 1025,897 1029,899 1273,899 1275,897 1279,899 1283,885 1287,881 1291,885 1293,883 1293,879 1291,877 1295,875 1297,871 1301,873 1299,883 1305,879 1311,871 1317,877 1315,879 1317,881 1317,891 1321,893 1325,899 1377,899 1379,897 1381,899 1443,899 1451,895 1439,897 1435,893 1439,887 1445,891 1443,887 1445,885 1441,879 1439,879 1441,883 1437,885 1433,891 1429,887 1435,881 1433,871 1437,869 1441,871 1443,875 1447,875 1441,871 1449,867 1451,869 1451,873 1459,879 1457,883 1453,883 1451,889 1453,891 1455,889 1459,891 1461,895 1459,899 1467,899 1469,897 1469,845 1465,843 1469,841ZM1369,891 1371,889 1375,889 1379,893 1379,897 1377,899 1373,897ZM1319,889 1321,887 1323,889 1321,891ZM1321,887 1323,885 1325,887 1323,889ZM1115,883 1117,881 1119,883 1117,885ZM1113,881 1115,879 1117,881 1115,883ZM1303,869 1305,867 1309,869 1307,871ZM1247,869 1251,867 1253,871 1249,873ZM1317,867 1321,865 1323,867 1323,871 1321,873ZM1257,867 1259,865 1261,867 1259,869ZM1127,865 1129,869 1133,867 1137,867 1139,869 1139,873 1133,877 1133,881 1131,883 1127,879 1123,879 1121,877 1125,873 1123,869ZM1427,865 1431,863 1433,865 1433,869 1431,871ZM1335,863 1337,861 1339,863 1337,865ZM1439,859 1443,861 1443,867 1441,869 1437,863ZM1267,859 1273,863 1269,867 1271,871 1283,871 1285,873 1283,877 1279,877 1277,879 1267,877 1265,881 1271,881 1275,885 1271,891 1267,891 1263,889 1259,883 1253,883 1251,881 1255,875 1265,873 1265,871 1261,869 1265,865 1265,861ZM1253,861 1255,859 1259,861 1257,863ZM1315,853 1317,857 1313,863 1311,861 1311,855ZM1345,853 1349,851 1351,853 1351,857 1347,859 1345,857ZM1299,849 1301,853 1297,855 1295,853ZM1237,849 1239,851 1239,855 1237,857 1235,855 1235,851ZM1335,847 1337,849 1337,859 1329,867 1323,861 1325,857 1329,855 1331,849ZM1305,845 1307,849 1303,851 1301,849ZM1345,843 1347,841 1349,845 1347,847ZM1319,839 1325,841 1329,845 1325,847 1327,851 1327,855 1325,857 1321,857 1315,853 1315,845ZM1131,839 1133,837 1135,839 1133,841ZM1119,835 1123,837 1123,841 1121,843 1115,839ZM1325,833 1327,831 1331,837 1327,839 1325,837ZM1295,833 1297,831 1301,833 1299,835ZM1341,831 1343,829 1347,833 1343,835ZM1311,829 1315,833 1313,835 1319,839 1317,841 1313,841 1309,845 1305,839 1309,835 1307,837 1305,833ZM1303,825 1305,823 1309,825 1307,827ZM1265,825 1267,823 1271,825 1269,827ZM1177,819 1179,817 1183,819 1181,821ZM1349,815 1353,813 1357,819 1355,821 1351,821 1349,819ZM1273,813 1283,813 1285,815 1283,819 1281,817 1283,819 1283,829 1287,825 1293,829 1291,831 1291,835 1285,839 1287,841 1291,841 1299,837 1303,841 1303,845 1299,849 1291,851 1289,847 1285,845 1281,845 1279,843 1275,843 1273,845 1271,843 1269,837 1273,833 1273,825 1277,821 1277,819 1273,819 1271,817ZM1261,813 1263,811 1269,811 1271,813 1271,817 1267,821 1261,817ZM1335,785 1339,783 1345,789 1341,791Z"/>
<path fill="#7FDD0A" fill-rule="evenodd" d="M1257,899 1263,899 1261,897ZM1383,863 1383,867 1387,873 1383,877 1379,875 1383,879 1387,879 1389,877 1387,871 1391,869 1395,873 1395,879 1397,881 1401,881 1397,875 1399,871ZM1463,855 1461,857 1463,867 1465,865 1469,873 1469,859ZM1087,851 1083,851 1075,861 1071,853 1069,853 1069,865 1073,869 1067,877 1075,877 1077,879 1071,883 1071,887 1069,889 1063,889 1065,893 1069,891 1073,895 1069,899 1065,899 1091,899 1091,895 1085,885 1087,883 1091,883 1093,887 1097,887 1093,881 1093,875 1089,873 1093,869 1091,865 1093,857ZM1079,879 1083,883 1081,897 1079,899 1075,891 1077,889 1075,883ZM1079,873 1081,871 1085,871 1093,877 1087,881ZM1077,869 1079,867 1083,869 1081,871ZM1081,861 1083,859 1087,863 1083,865ZM1401,849 1405,847 1401,847ZM1419,839 1417,843 1421,845 1421,841ZM1133,899 1237,899 1239,897 1241,899 1249,899 1251,889 1245,885 1241,885 1239,883 1239,879 1235,879 1225,871 1225,867 1221,867 1219,865 1217,857 1221,849 1215,849 1217,853 1215,855 1211,855 1207,849 1205,851 1201,849 1197,853 1191,847 1187,847 1187,851 1183,855 1181,853 1181,841 1179,839 1169,839 1163,835 1161,839 1165,845 1161,849 1153,843 1153,849 1157,853 1149,857 1151,863 1147,865 1147,871 1143,877 1143,883 1135,889 1135,893 1137,895ZM1191,875 1193,873 1195,875 1193,877ZM1179,873 1183,871 1185,875 1181,877ZM1177,863 1183,859 1185,861 1183,865 1179,865ZM1173,859 1175,857 1177,861 1175,863ZM1389,831 1389,833 1393,833 1393,831ZM1423,821 1421,823 1421,825 1425,827 1423,835 1429,843 1437,843 1441,839 1435,835 1435,831 1433,829 1431,831 1423,825 1425,823 1429,823 1427,821ZM1429,835 1431,833 1435,835 1433,837ZM1435,817 1439,821 1437,825 1441,825 1441,819ZM1449,817 1455,817 1453,815ZM1221,807 1219,809 1221,809ZM1373,801 1375,805 1379,807 1375,801ZM1299,795 1307,799 1307,797 1301,793ZM1279,789 1281,791 1281,789Z"/>
<path fill="#A8EE00" fill-rule="evenodd" d=""/></g>
<path d="M1118.4,877.0 1125.0,878.0 1135.0,879.0 1145.0,877.5 1155.0,874.0 1165.0,868.0 1172.0,862.0 1175.7,858.3" fill="none" stroke="#B8F200" stroke-width="2.5" stroke-linecap="round" stroke-linejoin="round"/>
<path d="M365.0,643.5 369.0,643.0 373.0,646.5 372.0,650.0 368.0,649.0Z" fill="#984534"/>
<path d="M345.0,649.0 347.5,648.8 349.0,652.5 347.0,654.2 345.5,652.0Z" fill="#FF00FF"/>
<path d="M365.0,654.0 367.0,654.5 370.0,661.0 369.5,663.5 367.0,662.0Z" fill="#FFAADD"/>
<path d="M333.0,629.0 339.0,628.6 341.0,630.5 336.0,632.5Z" fill="#FF55EE"/>
<path d="M342.0,630.0 349.0,629.5 350.0,632.0 344.0,632.7Z" fill="#FF7FE5"/>
<path d="M237.0,251.0 245.0,254.0 253.5,256.7 263.0,258.0 272.4,258.3 277.0,261.0 272.0,270.0 270.0,280.0 275.0,288.0 283.0,286.0 289.0,278.0 291.0,266.0 291.0,252.0 286.0,243.0 279.0,240.0 279.0,236.0 399.2,236.0 399.0,303.2 401.5,314.4 358.1,314.4 358.1,314.4 353.5,316.3 345.1,316.5 336.6,319.7 324.0,321.0 311.8,324.4 305.0,322.3 294.5,324.9 286.1,325.4 278.5,323.6 276.6,318.4 274.5,311.8 269.2,310.0 261.8,307.9 253.4,308.7 251.3,306.6 250.2,289.6 248.1,280.5 243.9,270.0 237.6,259.5ZM253.4,308.7 261.8,307.9 269.2,310.0 274.5,311.8 276.6,318.4 278.5,323.6 286.1,325.4 294.5,324.9 305.0,322.3 311.8,324.4 324.0,321.0 336.6,319.7 345.1,316.5 353.5,316.3 358.1,314.4 358.1,314.4 401.5,314.4 401.5,314.4 404.5,318.4 411.0,325.7 409.3,328.6 406.4,333.5 403.0,341.6 399.0,347.1 395.6,355.2 398.8,360.7 401.9,364.1 400.3,370.1 399.2,372.0 399.2,419.0 247.9,419.0 243.9,403.4 240.5,397.1 243.9,385.1 248.1,374.6 250.2,366.8 251.3,351.1 253.4,327.5ZM247.9,419.0 336.6,419.0 336.6,497.5 449.8,602.1 451.0,596.9 451.0,606.0 454.6,615.2 460.3,620.4 454.0,628.2 451.9,638.7 448.3,643.9 447.9,654.4 453.1,658.3 447.9,661.7 397.3,666.7 394.6,662.2 393.5,651.8 387.2,643.9 378.8,636.1 370.3,634.8 368.2,627.5 361.9,628.2 353.5,624.3 345.1,617.8 327.1,616.5 324.0,612.6 322.9,599.5 317.7,590.3 309.2,583.8 296.6,568.1 296.6,560.3 298.7,555.0 294.5,551.1 286.1,544.6 283.9,536.7 283.9,528.9 273.4,523.6 265.0,510.6 257.6,498.8 256.6,487.0 255.5,475.3 243.9,459.8 250.2,447.8 249.2,432.1ZM336.6,419.0 462.2,419.0 462.2,570.7 448.3,573.3 451.0,586.4 449.8,602.1 336.6,497.5ZM399.2,236.0 419.9,236.0 419.9,262.7 427.2,275.2 435.7,281.8 444.1,289.6 450.4,297.5 455.7,296.9 453.6,310.5 452.5,324.9 463.0,327.5 467.3,338.0 474.6,344.5 484.1,355.0 488.3,356.3 496.8,355.0 509.4,353.2 518.5,347.1 525.2,354.2 525.2,419.0 399.2,419.0 399.2,372.0 400.3,370.1 401.9,364.1 398.8,360.7 395.6,355.2 399.0,347.1 403.0,341.6 406.4,333.5 409.3,328.6 411.0,325.7 404.5,318.4 401.5,314.4 399.0,303.2ZM419.9,236.0 672.7,236.0 672.7,340.6 525.2,340.6 525.2,354.2 518.5,347.1 509.4,353.2 496.8,355.0 488.3,356.3 484.1,355.0 474.6,344.5 467.3,338.0 463.0,327.5 452.5,324.9 453.6,310.5 455.7,296.9 450.4,297.5 444.1,289.6 435.7,281.8 427.2,275.2 419.9,262.7 419.9,236.0ZM525.2,340.6 672.7,340.6 672.7,445.2 525.2,445.2ZM462.2,419.0 525.2,419.0 525.2,445.2 567.3,445.2 567.3,549.8 462.2,549.8ZM567.3,445.2 714.8,445.2 714.8,549.8 567.3,549.8ZM462.2,549.8 567.3,549.8 567.3,698.1 524.8,698.1 446.0,667.7 447.9,661.7 453.1,658.3 447.9,654.4 448.3,643.9 451.9,638.7 454.0,628.2 460.3,620.4 454.6,615.2 451.0,606.0 449.8,602.1 451.0,586.4 448.3,573.3 462.2,570.7ZM567.3,549.8 694.8,549.8 694.8,562.9 694.0,680.5 618.5,680.5 620.4,686.3 585.0,686.3 585.0,698.1 567.3,698.1ZM694.0,562.9 758.0,562.9 758.0,613.6 768.6,617.8 774.9,623.0 787.5,624.3 802.3,630.9 814.9,632.2 829.7,632.2 846.5,631.9 857.1,631.4 869.7,636.6 874.3,637.7 883.6,640.0 883.6,680.5 887.6,688.4 892.9,701.5 893.9,714.5 890.3,731.5 887.8,740.7 882.0,742.6 874.0,746.0 865.0,750.0 858.0,758.0 847.0,766.0 836.5,770.0 827.0,774.0 818.0,786.0 810.0,795.0 808.0,808.0 810.0,820.0 813.0,832.0 815.0,843.0 810.7,840.1 795.9,834.8 777.0,824.4 768.6,798.2 751.7,777.3 744.3,756.4 728.5,738.9 707.5,738.1 701.1,740.7 692.7,759.0 688.5,759.0 673.7,751.2 663.2,742.0 659.0,730.2 652.7,714.5 640.0,704.1 627.4,694.9 620.4,686.3 618.5,680.5 694.0,680.5ZM694.8,549.8 871.4,549.8 871.4,562.9 875.4,591.6 874.3,637.7 874.3,637.7 869.7,636.6 857.1,631.4 846.5,631.9 829.7,632.2 814.9,632.2 802.3,630.9 787.5,624.3 774.9,623.0 768.6,617.8 758.0,613.6 758.0,562.9 694.8,562.9ZM714.8,471.4 856.8,471.4 862.3,475.3 865.5,483.1 871.8,493.6 871.4,549.8 714.8,549.8ZM672.7,392.9 789.6,392.9 802.3,396.8 817.0,396.8 828.6,403.4 832.8,406.2 834.9,413.8 840.2,424.3 844.0,434.7 845.5,447.8 847.1,455.7 852.8,463.5 856.8,471.4 714.8,471.4 714.8,445.2 672.7,445.2ZM672.7,316.0 830.5,316.0 830.5,332.8 832.8,332.8 832.8,379.8 829.7,392.9 832.8,406.2 828.6,403.4 817.0,396.8 802.3,396.8 789.6,392.9 672.7,392.9ZM672.7,236.0 816.4,236.0 818.1,249.1 819.1,259.5 823.3,272.6 824.8,283.1 825.4,298.8 829.7,306.6 830.5,316.0 672.7,316.0ZM816.4,236.0 860.2,236.0 860.2,226.1 864.4,226.3 867.0,243.8 871.8,243.3 888.7,248.6 901.3,245.7 913.9,250.4 926.6,253.0 939.2,260.8 951.9,259.5 968.7,260.1 979.3,262.4 962.4,268.7 947.7,280.5 937.1,285.7 924.5,294.8 920.3,297.5 920.3,311.8 910.8,326.2 909.7,340.6 910.8,347.1 920.3,352.4 929.7,361.5 939.2,370.7 943.0,379.8 832.8,379.8 832.8,332.8 830.5,332.8 830.5,316.0 829.7,306.6 825.4,298.8 824.8,283.1 823.3,272.6 819.1,259.5 818.1,249.1 816.4,236.0ZM832.8,379.8 943.0,379.8 944.5,392.9 954.0,403.4 955.2,406.0 960.3,413.8 965.6,424.3 958.2,432.1 947.7,440.0 945.5,450.4 938.8,461.4 932.3,455.7 847.1,455.7 845.5,447.8 844.0,434.7 840.2,424.3 834.9,413.8 832.8,406.2 829.7,392.9ZM847.1,455.7 932.3,455.7 938.8,461.4 939.2,479.2 947.7,489.7 958.2,500.1 964.5,508.0 968.7,518.4 977.2,534.1 979.3,542.0 986.6,549.8 982.4,556.3 979.3,562.9 977.2,570.7 975.0,576.0 960.9,576.0 965.6,562.9 871.4,562.9 871.4,549.8 871.8,493.6 865.5,483.1 862.3,475.3 856.8,471.4 852.8,463.5ZM871.4,562.9 965.6,562.9 960.9,576.0 975.0,576.0 970.8,586.4 966.6,599.5 962.4,602.1 962.4,609.9 956.1,620.4 947.7,633.5 944.5,654.4 883.6,654.4 883.6,640.0 874.3,637.7 875.4,591.6ZM883.6,654.4 944.5,654.4 943.4,664.9 948.7,675.3 937.1,693.6 935.0,706.7 974.4,706.7 977.2,717.2 977.2,728.1 976.3,733.8 984.4,733.8 985.7,737.9 979.0,744.6 976.3,747.3 984.4,755.3 989.8,759.4 985.7,762.1 981.7,763.4 973.6,755.3 968.3,750.0 961.5,759.4 950.8,760.7 940.0,748.6 930.8,745.9 920.3,744.6 905.5,739.4 887.8,740.7 890.3,731.5 893.9,714.5 892.9,701.5 887.6,688.4 883.6,680.5ZM962.4,602.1 1006.6,602.1 1001.0,683.2 1002.4,722.7 989.8,722.9 977.2,728.1 977.2,717.2 974.4,706.7 935.0,706.7 937.1,693.6 948.7,675.3 943.4,664.9 944.5,654.4 947.7,633.5 956.1,620.4 962.4,609.9ZM1006.6,602.1 1061.4,602.1 1069.9,659.6 1074.1,672.7 1072.0,691.0 1074.1,706.7 1019.3,706.7 1021.4,725.0 1013.0,726.3 1010.9,714.5 1008.8,722.4 1002.4,722.7 1001.0,683.2ZM1061.4,602.1 1114.1,602.1 1120.4,612.6 1133.1,638.7 1147.8,654.4 1156.2,677.9 1152.0,693.6 1148.9,714.0 1137.3,718.5 1133.1,717.9 1077.0,714.5 1074.1,706.7 1072.0,691.0 1074.1,672.7 1069.9,659.6ZM1019.3,706.7 1074.1,706.7 1077.0,714.5 1133.1,717.9 1137.3,718.5 1148.9,714.0 1153.1,738.1 1158.4,753.8 1166.8,769.5 1167.8,785.1 1175.2,806.1 1178.4,819.1 1177.3,837.4 1175.2,845.3 1171.0,855.8 1163.6,859.7 1156.2,859.7 1152.0,847.9 1143.6,840.1 1141.5,827.0 1135.2,819.1 1126.7,803.5 1122.5,787.8 1120.4,779.9 1123.6,764.2 1116.2,756.4 1103.6,738.1 1095.1,731.5 1086.7,735.5 1074.1,742.0 1065.6,740.7 1065.6,732.8 1053.0,725.0 1042.5,722.4 1027.7,723.7 1021.4,725.0ZM1114.1,602.1 1131.0,596.9 1157.3,598.2 1159.8,599.5 1162.6,607.3 1185.7,607.3 1210.0,631.9 1196.3,649.2 1181.5,662.2 1168.9,672.7 1160.5,677.9 1156.2,677.9 1147.8,654.4 1133.1,638.7 1120.4,612.6ZM1088.8,602.1 1114.1,602.1 1131.0,596.9 1157.3,598.2 1159.8,599.5 1162.6,607.3 1185.7,607.3 1210.0,631.9 1223.7,630.9 1238.4,615.2 1253.2,609.9 1263.7,602.1 1274.2,595.6 1274.2,581.2 1266.4,561.6 1144.0,560.5 1137.3,570.7 1124.6,577.3 1114.1,582.5 1105.7,587.7 1095.1,591.6ZM979.3,562.9 1101.9,560.3 1144.0,560.5 1137.3,570.7 1124.6,577.3 1114.1,582.5 1105.7,587.7 1095.1,591.6 1088.8,602.1 962.4,602.1 966.6,599.5 970.8,586.4 975.0,576.0 977.2,570.7ZM979.3,562.9 1101.9,560.3 1117.3,549.8 1131.0,542.0 1137.9,535.7 1128.9,526.3 1124.6,513.2 1116.2,505.3 1101.5,506.7 1090.9,502.7 1077.9,494.9 1065.6,504.0 1057.2,515.8 1046.7,521.0 1038.3,526.3 1029.8,528.9 1019.3,526.3 1008.8,528.9 1008.8,536.7 1000.3,547.2 986.6,549.8 982.4,556.3ZM1101.9,560.3 1144.0,560.5 1266.4,561.6 1263.7,552.4 1257.4,549.8 1257.4,526.3 1244.7,518.4 1238.4,513.2 1242.6,502.7 1240.5,498.8 1232.1,492.3 1227.5,489.1 1224.7,494.1 1213.1,492.3 1204.7,500.1 1196.3,510.6 1187.9,513.2 1179.4,526.3 1173.1,536.7 1158.4,542.0 1143.6,544.6 1137.9,535.7 1131.0,542.0 1117.3,549.8ZM1168.5,454.6 1166.8,471.4 1160.5,481.8 1149.9,489.7 1141.5,497.5 1133.1,508.0 1124.6,513.2 1128.9,526.3 1137.9,535.7 1143.6,544.6 1158.4,542.0 1173.1,536.7 1179.4,526.3 1187.9,513.2 1196.3,510.6 1204.7,500.1 1213.1,492.3 1224.7,494.1 1227.5,489.1 1225.8,485.7 1215.2,481.8 1204.7,481.8 1200.5,485.7 1190.4,492.3 1190.4,478.7 1168.5,478.7ZM1190.4,478.7 1267.0,478.7 1262.4,483.1 1253.3,490.2 1249.3,494.2 1250.3,513.4 1252.0,521.0 1243.3,511.5 1238.4,513.2 1242.6,502.7 1240.5,498.8 1232.1,492.3 1227.5,489.1 1225.8,485.7 1215.2,481.8 1204.7,481.8 1200.5,485.7 1190.4,492.3ZM1269.4,479.0 1273.0,478.0 1274.0,483.0 1278.0,493.0 1283.0,503.0 1281.0,512.4 1269.4,512.4ZM1168.5,478.7 1167.3,419.5 1176.0,416.0 1185.0,413.0 1185.5,419.3 1277.4,419.0 1282.7,424.3 1291.1,436.0 1282.7,447.8 1284.8,460.9 1291.1,467.4 1282.7,472.7 1275.9,476.6 1268.1,478.7ZM1291.1,436.0 1308.0,445.2 1305.8,453.0 1300.6,458.3 1306.3,460.9 1303.7,477.9 1293.2,489.7 1285.8,499.3 1276.3,489.7 1273.2,481.8 1275.9,476.6 1282.7,472.7 1291.1,467.4 1284.8,460.9 1282.7,447.8 1291.1,436.0 1282.7,424.3ZM1185.5,419.3 1185.0,413.0 1201.0,400.5 1198.6,393.8 1198.6,387.0 1201.0,384.8 1223.3,383.2 1230.0,386.0 1245.7,384.8 1257.0,379.2 1257.0,365.8 1268.0,354.6 1267.9,353.7 1278.5,345.8 1291.1,340.6 1319.5,340.6 1318.5,377.2 1321.2,399.4 1316.4,417.7 1316.4,437.4 1313.2,445.2 1308.0,445.2 1291.1,436.0 1282.7,424.3 1277.4,419.0ZM1302.0,456.0 1315.0,451.5 1330.0,447.5 1345.0,443.5 1354.0,440.5 1351.0,445.0 1336.0,451.0 1318.0,456.5 1305.0,460.0ZM1316.4,417.7 1352.2,418.5 1351.1,437.4 1337.4,438.1 1313.2,445.2 1316.4,437.4ZM1352.2,418.5 1361.0,418.5 1364.8,428.2 1360.6,433.4 1351.1,437.4ZM1321.2,399.4 1338.5,400.0 1362.7,400.7 1369.1,396.3 1373.3,396.3 1373.3,400.7 1371.2,408.6 1375.4,419.0 1379.6,424.3 1390.1,425.6 1390.1,417.7 1385.9,417.2 1391.2,427.7 1379.6,430.8 1375.4,432.1 1366.9,432.1 1364.8,428.2 1361.0,418.5 1352.2,418.5 1316.4,417.7ZM1321.2,399.4 1318.5,377.2 1319.5,340.6 1358.5,340.6 1348.0,357.6 1339.6,377.2 1338.5,400.0ZM1338.5,400.0 1362.7,400.7 1373.3,396.3 1375.4,390.3 1369.7,385.1 1367.4,353.7 1367.4,332.8 1358.5,340.6 1348.0,357.6 1339.6,377.2ZM1375.4,390.3 1369.7,385.1 1367.4,353.7 1367.4,332.8 1373.3,330.1 1383.8,317.1 1390.1,296.1 1407.0,276.5 1425.9,279.1 1436.5,286.5 1436.5,322.3 1443.9,324.9 1453.3,340.6 1454.4,345.8 1442.8,353.7 1428.0,357.6 1415.4,356.3 1404.9,368.1 1390.1,373.3 1385.9,377.2ZM1168.5,419.6 1158.4,421.7 1143.6,432.1 1126.7,434.7 1116.2,432.1 1106.7,426.1 1078.3,426.9 1077.9,494.9 1090.9,502.7 1101.5,506.7 1116.2,505.3 1124.6,513.2 1133.1,508.0 1141.5,497.5 1149.9,489.7 1160.5,481.8 1166.8,471.4 1168.5,454.6ZM1078.3,426.9 1036.1,425.3 1021.0,426.9 1021.0,487.0 1019.3,500.1 1015.1,515.8 1008.8,528.9 1019.3,526.3 1029.8,528.9 1038.3,526.3 1046.7,521.0 1057.2,515.8 1065.6,504.0 1077.9,494.9ZM955.2,406.0 1015.1,406.0 1021.0,426.9 1021.0,487.0 1019.3,500.1 1015.1,515.8 1008.8,528.9 1008.8,536.7 1000.3,547.2 986.6,549.8 979.3,542.0 977.2,534.1 968.7,518.4 964.5,508.0 958.2,500.1 947.7,489.7 939.2,479.2 938.8,461.4 945.5,450.4 947.7,440.0 958.2,432.1 965.6,424.3 960.3,413.8ZM955.2,406.0 1015.1,406.0 1013.0,392.9 1017.2,379.8 1020.3,361.5 1031.9,335.4 1021.4,345.8 1010.9,352.4 1019.3,338.0 1010.9,324.9 998.2,314.4 987.7,311.8 966.6,305.3 960.3,299.5 949.8,290.9 930.8,296.1 924.5,294.8 920.3,297.5 920.3,311.8 910.8,326.2 909.7,340.6 910.8,347.1 920.3,352.4 929.7,361.5 939.2,370.7 943.0,379.8 944.5,392.9 954.0,403.4ZM1079.6,317.9 1082.2,320.5 1094.4,327.3 1106.5,332.6 1110.5,340.7 1107.8,354.2 1103.8,362.2 1097.0,367.6 1098.4,374.4 1107.8,370.3 1118.6,364.9 1124.0,371.7 1126.9,394.5 1119.0,405.7 1112.3,417.0 1104.9,426.4 1076.5,427.2 1040.0,427.0 1040.5,427.5 1045.0,412.0 1047.3,399.0 1046.0,392.0 1041.9,380.0 1043.2,364.9 1047.3,351.5 1052.6,342.1 1063.4,335.3 1072.8,330.0 1074.2,323.2ZM961.4,298.5 980.0,292.3 988.0,288.3 997.5,281.5 1004.2,277.5 1016.3,276.1 1006.9,282.9 1001.5,289.6 1001.5,295.0 1009.6,289.6 1017.7,292.3 1024.4,300.4 1039.2,303.0 1050.0,297.0 1063.4,295.7 1074.2,294.3 1074.2,301.7 1089.0,303.0 1093.0,311.1 1097.0,314.5 1080.9,315.2 1063.4,311.1 1047.3,315.2 1039.2,319.2 1031.1,316.5 1027.1,324.6 1021.7,333.0 1017.7,338.0 1015.0,331.3 1013.6,323.2 1006.9,316.5 999.6,314.2 965.9,305.2ZM1261.4,512.4 1280.5,512.4 1282.6,520.5 1276.5,530.5 1268.4,544.7 1264.4,550.7 1264.4,548.7 1270.5,532.6 1266.4,522.5ZM1267.4,484.1 1269.4,479.0 1269.4,512.4 1261.4,512.4 1260.4,494.2Z" fill="none" stroke="#000" stroke-width="3.5" stroke-linejoin="round"/>
<path d="M283.0,520.0 289.0,519.0 293.0,522.0 292.0,525.0 288.0,526.0 289.0,531.0 292.0,535.0 295.0,538.0 294.0,541.0 290.0,541.0 287.0,537.0 285.0,533.0 283.0,528.0Z" fill="#000" stroke="#000" stroke-width="2" stroke-linejoin="round"/>
<path d="M1118.0,788.0 1123.0,786.0 1129.0,790.0 1129.0,796.0 1124.0,799.0 1119.0,795.0Z" fill="#000" stroke="#000" stroke-width="2" stroke-linejoin="round"/>
<path d="M1130.0,813.0 1134.0,812.0 1136.0,817.0 1133.0,820.0 1130.0,818.0Z" fill="#000" stroke="#000" stroke-width="2" stroke-linejoin="round"/>
<path d="M1152.0,857.0 1157.0,855.0 1160.0,859.0 1157.0,863.0 1153.0,862.0Z" fill="#000" stroke="#000" stroke-width="2" stroke-linejoin="round"/>
<path d="M1371.0,433.5 1376.0,432.5 1381.0,434.0 1380.0,437.5 1374.0,438.0Z" fill="#000" stroke="#000" stroke-width="2" stroke-linejoin="round"/>
<path d="M1385.0,435.5 1390.0,435.0 1392.0,438.5 1388.0,441.0 1385.0,439.0Z" fill="#000" stroke="#000" stroke-width="2" stroke-linejoin="round"/>
<path d="M272.0,246.0 275.0,243.0 279.0,242.0 283.0,244.0 286.0,247.0 283.0,251.0 279.0,251.0 274.0,250.0 272.0,246.0" fill="none" stroke="#000" stroke-width="4.5" stroke-linejoin="round" stroke-linecap="round"/>
<path d="M283.0,244.0 285.0,252.0 288.0,258.0 290.0,262.0 288.0,268.0" fill="none" stroke="#000" stroke-width="4.5" stroke-linejoin="round" stroke-linecap="round"/>
<path d="M277.0,261.0 272.0,270.0 270.0,280.0 274.0,287.0 282.0,289.0 288.0,284.0 290.0,276.0 288.0,268.0 283.0,264.0 279.0,268.0 281.0,276.0 278.0,280.0" fill="none" stroke="#000" stroke-width="4.5" stroke-linejoin="round" stroke-linecap="round"/>
<path d="M276.0,262.0 282.0,258.0 286.0,262.0" fill="none" stroke="#000" stroke-width="4" stroke-linejoin="round" stroke-linecap="round"/>
<path d="M1262.4,483.1 1253.3,490.2 1249.3,494.2 1250.3,513.4 1243.2,524.5 1247.2,539.6 1242.2,545.7 1255.3,553.8" fill="none" stroke="#000" stroke-width="4" stroke-linejoin="round" stroke-linecap="round"/>
<path d="M1267.4,486.1 1260.4,494.2 1261.4,512.4 1266.4,522.5 1270.5,532.6 1264.4,548.7" fill="none" stroke="#000" stroke-width="4" stroke-linejoin="round" stroke-linecap="round"/>
<path d="M1220.0,490.2 1230.1,495.2 1242.2,501.3 1236.1,514.4 1253.3,522.5" fill="none" stroke="#000" stroke-width="3.5" stroke-linejoin="round" stroke-linecap="round"/>
<path d="M1244.2,526.5 1254.3,532.6" fill="none" stroke="#000" stroke-width="4" stroke-linejoin="round" stroke-linecap="round"/>
<path d="M1247.2,538.6 1257.3,542.7" fill="none" stroke="#000" stroke-width="4" stroke-linejoin="round" stroke-linecap="round"/>
<path d="M1243.2,545.7 1253.3,549.7" fill="none" stroke="#000" stroke-width="4" stroke-linejoin="round" stroke-linecap="round"/>
<path d="M1255.0,500.0 1257.0,510.0 1256.0,520.0" fill="none" stroke="#000" stroke-width="3" stroke-linejoin="round" stroke-linecap="round"/>
<path d="M1280.5,512.4 1282.6,520.5 1276.5,530.5 1268.4,544.7 1264.4,550.7" fill="none" stroke="#000" stroke-width="4" stroke-linejoin="round" stroke-linecap="round"/>
<path d="M1247.1,569.4 1251.1,577.5 1259.2,574.8 1265.9,580.2 1263.2,586.9 1256.5,591.0 1243.0,592.3 1251.1,597.7 1241.7,600.4 1248.4,604.4 1256.5,605.8 1252.5,611.1" fill="none" stroke="#000" stroke-width="4" stroke-linejoin="round" stroke-linecap="round"/>
<path d="M1264.6,560.0 1270.0,573.5 1274.7,584.2 1272.7,589.6 1264.6,593.6 1259.2,600.4 1255.2,608.5" fill="none" stroke="#000" stroke-width="4" stroke-linejoin="round" stroke-linecap="round"/>
<path d="M958.8,729.8 964.2,725.7 972.3,729.8 975.0,733.8 966.9,735.2 960.2,732.5 958.8,729.8" fill="none" stroke="#000" stroke-width="4" stroke-linejoin="round" stroke-linecap="round"/>
<path d="M809.6,791.7 815.0,785.0 821.0,779.0 827.1,774.2 836.5,770.1 847.3,766.1 858.0,758.0 864.8,750.0 874.2,745.9 882.3,742.6 894.4,741.2" fill="none" stroke="#000" stroke-width="4.5" stroke-linejoin="round" stroke-linecap="round"/>
<path d="M861.7,743.2 868.7,740.5 870.0,746.0 863.4,750.0" fill="none" stroke="#000" stroke-width="4" stroke-linejoin="round" stroke-linecap="round"/>
<path d="M818.0,786.0 812.0,792.0 809.0,800.0" fill="none" stroke="#000" stroke-width="4.5" stroke-linejoin="round" stroke-linecap="round"/>
<path d="M1304.0,458.0 1318.0,454.0 1334.0,449.5 1352.0,443.0" fill="none" stroke="#000" stroke-width="4.5" stroke-linejoin="round" stroke-linecap="round"/>
<text class="lt" x="1496" y="322.7">Earliest date</text>
<text class="lt" x="1496" y="350.5">of 2nd gen.</text>
<text class="lt" x="1496" y="378.6">mid-pupal</text>
<text class="lt" x="1496" y="406.3">development</text>
<g class="lg">
<rect x="1497" y="421.00" width="26" height="25.75" fill="#CCFF00"/>
<text x="1534" y="441.00">Apr-07</text>
<rect x="1497" y="446.45" width="26" height="25.75" fill="#A8EE00"/>
<text x="1534" y="466.45">Apr-14</text>
<rect x="1497" y="471.90" width="26" height="25.75" fill="#7FDD0A"/>
<text x="1534" y="491.90">Apr-21</text>
<rect x="1497" y="497.35" width="26" height="25.75" fill="#55D010"/>
<text x="1534" y="517.35">Apr-28</text>
<rect x="1497" y="522.80" width="26" height="25.75" fill="#FFFF00"/>
<text x="1534" y="542.80">May-05</text>
<rect x="1497" y="548.25" width="26" height="25.75" fill="#E0D800"/>
<text x="1534" y="568.25">May-12</text>
<rect x="1497" y="573.70" width="26" height="25.75" fill="#BFAE00"/>
<text x="1534" y="593.70">May-19</text>
<rect x="1497" y="599.15" width="26" height="25.75" fill="#9A8410"/>
<text x="1534" y="619.15">May-26</text>
<rect x="1497" y="624.60" width="26" height="25.75" fill="#FFD590"/>
<text x="1534" y="644.60">Jun-02</text>
<rect x="1497" y="650.05" width="26" height="25.75" fill="#FFC070"/>
<text x="1534" y="670.05">Jun-09</text>
<rect x="1497" y="675.50" width="26" height="25.75" fill="#FFAA50"/>
<text x="1534" y="695.50">Jun-16</text>
<rect x="1497" y="700.95" width="26" height="25.75" fill="#FF9433"/>
<text x="1534" y="720.95">Jun-23</text>
<rect x="1497" y="726.40" width="26" height="25.75" fill="#FF7F1A"/>
<text x="1534" y="746.40">Jun-30</text>
<rect x="1497" y="751.85" width="26" height="25.75" fill="#F4CCCC"/>
<text x="1534" y="771.85">Jul-07</text>
<rect x="1497" y="777.30" width="26" height="25.75" fill="#F49999"/>
<text x="1534" y="797.30">Jul-14</text>
<rect x="1624" y="421.00" width="26" height="25.75" fill="#F46666"/>
<text x="1660" y="441.00">Jul-21</text>
<rect x="1624" y="446.45" width="26" height="25.75" fill="#FF3333"/>
<text x="1660" y="466.45">Jul-28</text>
<rect x="1624" y="471.90" width="26" height="25.75" fill="#E6B4AA"/>
<text x="1660" y="491.90">Aug-04</text>
<rect x="1624" y="497.35" width="26" height="25.75" fill="#C88A7E"/>
<text x="1660" y="517.35">Aug-11</text>
<rect x="1624" y="522.80" width="26" height="25.75" fill="#AE6656"/>
<text x="1660" y="542.80">Aug-18</text>
<rect x="1624" y="548.25" width="26" height="25.75" fill="#984534"/>
<text x="1660" y="568.25">Aug-25</text>
<rect x="1624" y="573.70" width="26" height="25.75" fill="#FFAADD"/>
<text x="1660" y="593.70">Sep-01</text>
<rect x="1624" y="599.15" width="26" height="25.75" fill="#FF7FE5"/>
<text x="1660" y="619.15">Sep-08</text>
<rect x="1624" y="624.60" width="26" height="25.75" fill="#FF55EE"/>
<text x="1660" y="644.60">Sep-15</text>
<rect x="1624" y="650.05" width="26" height="25.75" fill="#FF2BF0"/>
<text x="1660" y="670.05">Sep-22</text>
<rect x="1624" y="675.50" width="26" height="25.75" fill="#FF00FF"/>
<text x="1660" y="695.50">Sep-29</text>
<rect x="1624" y="700.95" width="26" height="25.75" fill="#DFBFE6"/>
<text x="1660" y="720.95">Oct-06</text>
<rect x="1624" y="726.40" width="26" height="25.75" fill="#C794D4"/>
<text x="1660" y="746.40">Oct-13</text>
<rect x="1624" y="751.85" width="26" height="25.75" fill="#AF6AC2"/>
<text x="1660" y="771.85">Oct-20</text>
<rect x="1624" y="777.30" width="26" height="25.75" fill="#9B44B4"/>
<text x="1660" y="797.30">Oct-27</text>
<rect x="1749" y="421.00" width="26" height="25.75" fill="#B2EAFC"/>
<text x="1785" y="441.00">Nov-03</text>
<rect x="1749" y="446.45" width="26" height="25.75" fill="#88D0EE"/>
<text x="1785" y="466.45">Nov-10</text>
<rect x="1749" y="471.90" width="26" height="25.75" fill="#55B6E2"/>
<text x="1785" y="491.90">Nov-17</text>
<rect x="1749" y="497.35" width="26" height="25.75" fill="#2EA2D8"/>
<text x="1785" y="517.35">Nov-24</text>
<rect x="1749" y="522.80" width="26" height="25.75" fill="#A3C1E5"/>
<text x="1785" y="542.80">Dec-01</text>
<rect x="1749" y="548.25" width="26" height="25.75" fill="#7A8EEA"/>
<text x="1785" y="568.25">Dec-08</text>
<rect x="1749" y="573.70" width="26" height="25.75" fill="#5060EE"/>
<text x="1785" y="593.70">Dec-15</text>
<rect x="1749" y="599.15" width="26" height="25.75" fill="#2A30F4"/>
<text x="1785" y="619.15">Dec-22</text>
<rect x="1749" y="624.60" width="26" height="25.75" fill="#0000FF"/>
<text x="1785" y="644.60">Dec-29</text>
</g>
</svg>
</body></html>
